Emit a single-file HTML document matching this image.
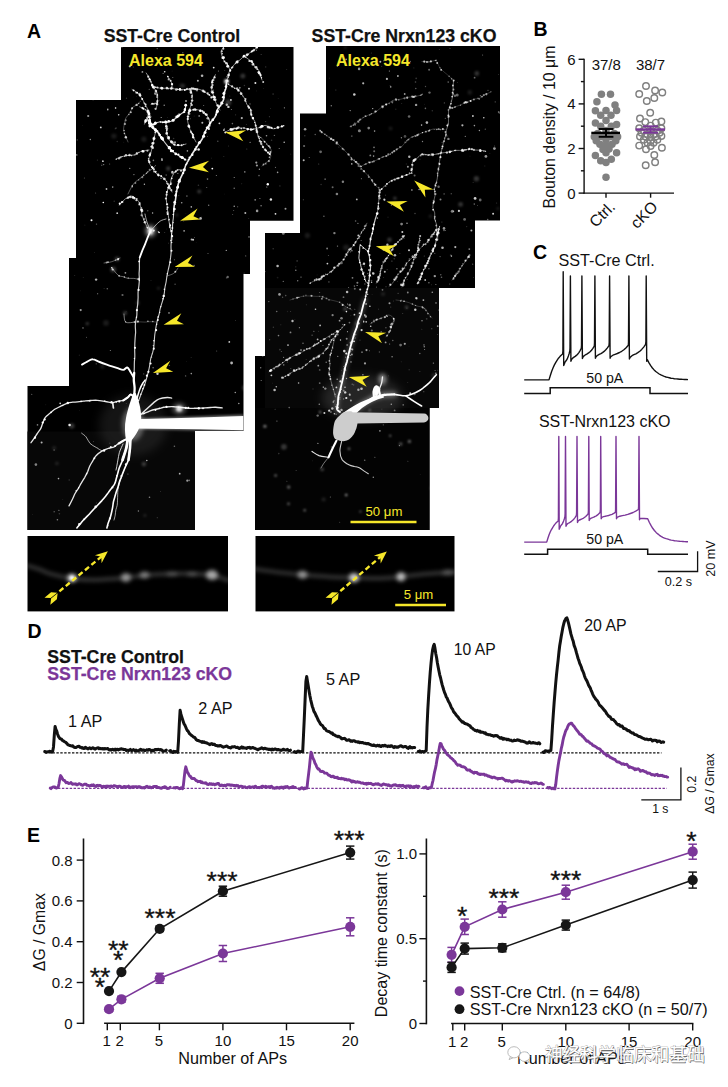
<!DOCTYPE html>
<html lang="en"><head><meta charset="utf-8"><title>Figure</title>
<style>html,body{margin:0;padding:0;background:#fff}svg{display:block}text{font-family:"Liberation Sans","Noto Sans CJK SC",sans-serif}</style></head><body>
<svg width="728" height="1087" viewBox="0 0 728 1087">
<rect width="728" height="1087" fill="#fff"/>
<defs><filter id="b1" filterUnits="userSpaceOnUse" x="0" y="0" width="728" height="1087"><feGaussianBlur stdDeviation="0.55"/></filter><filter id="b2" filterUnits="userSpaceOnUse" x="0" y="0" width="728" height="1087"><feGaussianBlur stdDeviation="0.9"/></filter><filter id="b3" filterUnits="userSpaceOnUse" x="0" y="0" width="728" height="1087"><feGaussianBlur stdDeviation="2.2"/></filter><filter id="b4" filterUnits="userSpaceOnUse" x="0" y="0" width="728" height="1087"><feGaussianBlur stdDeviation="5"/></filter><path id="ah" d="M0,0 L20.5,-5.6 L14,0.2 L19.5,5.8 Z"/><clipPath id="cl"><path id="pl" d="M121,47H293.5V220.7H250V274H243.5V431H195V530H27.5V386H69V258H76V100H121Z"/></clipPath><clipPath id="cr"><path id="pr" d="M326,46H500V220.5H475V288H439V408H429.5V530H255V356H265V233H300V113.5H326Z"/></clipPath><clipPath id="csl"><rect x="27.5" y="536" width="200.5" height="75.4"/></clipPath><clipPath id="csr"><rect x="255.5" y="536" width="199" height="75.4"/></clipPath></defs>
<text x="27" y="37.6" font-size="19.5" text-anchor="start" font-weight="bold" fill="#000">A</text>
<text x="172" y="42.3" font-size="17.7" text-anchor="middle" font-weight="bold" fill="#111" stroke="#111" stroke-width="0.25">SST-Cre Control</text>
<text x="404" y="42.3" font-size="17.7" text-anchor="middle" font-weight="bold" fill="#111" stroke="#111" stroke-width="0.25">SST-Cre Nrxn123 cKO</text>
<use href="#pl" fill="#000"/>
<g clip-path="url(#cl)">
<rect x="27" y="431.5" width="168" height="99" fill="#070707"/>
<ellipse cx="133" cy="425" rx="34" ry="30" fill="#fff" fill-opacity="0.08" filter="url(#b4)"/>
<ellipse cx="133" cy="424" rx="11" ry="17" fill="#fff" fill-opacity="0.3" filter="url(#b3)"/>
<g fill="#fff" filter="url(#b1)"><circle cx="42.4" cy="292.1" r="0.5" fill-opacity="0.2"/><circle cx="286.7" cy="69.5" r="0.5" fill-opacity="0.2"/><circle cx="126.1" cy="311.6" r="0.3" fill-opacity="0.3"/><circle cx="208" cy="253.5" r="0.6" fill-opacity="0.4"/><circle cx="259.8" cy="399.3" r="0.8" fill-opacity="0.2"/><circle cx="138.2" cy="412.7" r="0.6" fill-opacity="0.2"/><circle cx="259.9" cy="198.5" r="0.6" fill-opacity="0.5"/><circle cx="153.1" cy="367.8" r="0.7" fill-opacity="0.5"/><circle cx="291.2" cy="444" r="0.5" fill-opacity="0.5"/><circle cx="33" cy="270" r="0.4" fill-opacity="0.2"/><circle cx="231.3" cy="109.5" r="0.5" fill-opacity="0.6"/><circle cx="262.2" cy="509.6" r="0.4" fill-opacity="0.3"/><circle cx="96.9" cy="49" r="0.5" fill-opacity="0.5"/><circle cx="191.3" cy="373.6" r="0.8" fill-opacity="0.6"/><circle cx="133.1" cy="97" r="0.3" fill-opacity="0.2"/><circle cx="82.5" cy="125.4" r="0.3" fill-opacity="0.2"/><circle cx="67.2" cy="96" r="0.3" fill-opacity="0.6"/><circle cx="190.3" cy="118.7" r="0.5" fill-opacity="0.4"/><circle cx="151" cy="280.7" r="0.4" fill-opacity="0.3"/><circle cx="97.4" cy="447.3" r="0.3" fill-opacity="0.7"/><circle cx="167.5" cy="117.8" r="0.3" fill-opacity="0.4"/><circle cx="96.5" cy="224.1" r="0.7" fill-opacity="0.4"/><circle cx="234.2" cy="206.2" r="0.7" fill-opacity="0.7"/><circle cx="223.8" cy="156.5" r="0.5" fill-opacity="0.2"/><circle cx="34.4" cy="182" r="0.7" fill-opacity="0.7"/><circle cx="281" cy="223.1" r="0.4" fill-opacity="0.3"/><circle cx="239.7" cy="87.9" r="0.8" fill-opacity="0.6"/><circle cx="226.5" cy="277.9" r="0.7" fill-opacity="0.3"/><circle cx="72.2" cy="108.4" r="0.8" fill-opacity="0.6"/><circle cx="201.8" cy="216.2" r="0.4" fill-opacity="0.2"/><circle cx="246.8" cy="148.9" r="0.5" fill-opacity="0.3"/><circle cx="183" cy="172.3" r="0.4" fill-opacity="0.7"/><circle cx="32" cy="259.6" r="0.3" fill-opacity="0.6"/><circle cx="175" cy="204.4" r="0.6" fill-opacity="0.6"/><circle cx="55.2" cy="317.6" r="0.5" fill-opacity="0.6"/><circle cx="277.6" cy="172.4" r="0.8" fill-opacity="0.6"/><circle cx="63.5" cy="105.7" r="0.3" fill-opacity="0.3"/><circle cx="265.6" cy="121.6" r="0.7" fill-opacity="0.2"/><circle cx="261.8" cy="514.3" r="0.8" fill-opacity="0.4"/><circle cx="117.2" cy="141.5" r="0.7" fill-opacity="0.2"/><circle cx="174.4" cy="259.7" r="0.5" fill-opacity="0.5"/><circle cx="236.7" cy="516.3" r="0.4" fill-opacity="0.2"/><circle cx="234.2" cy="177.6" r="0.5" fill-opacity="0.7"/><circle cx="244.8" cy="171.9" r="0.8" fill-opacity="0.5"/><circle cx="213.3" cy="90.2" r="0.7" fill-opacity="0.4"/><circle cx="240.2" cy="87.4" r="0.3" fill-opacity="0.6"/><circle cx="147.7" cy="210.8" r="0.8" fill-opacity="0.3"/><circle cx="61.4" cy="301.5" r="0.4" fill-opacity="0.2"/><circle cx="40.4" cy="144.5" r="0.5" fill-opacity="0.6"/><circle cx="104.1" cy="288.5" r="0.5" fill-opacity="0.2"/><circle cx="173.6" cy="138.5" r="0.8" fill-opacity="0.2"/><circle cx="249" cy="236.9" r="0.7" fill-opacity="0.7"/><circle cx="196.2" cy="242.5" r="0.3" fill-opacity="0.2"/><circle cx="45.8" cy="404.8" r="0.4" fill-opacity="0.2"/><circle cx="102" cy="164" r="0.6" fill-opacity="0.2"/><circle cx="285.7" cy="311.2" r="0.8" fill-opacity="0.3"/><circle cx="121.9" cy="47.5" r="0.6" fill-opacity="0.4"/><circle cx="80.5" cy="290.8" r="0.4" fill-opacity="0.2"/><circle cx="133.3" cy="67.1" r="0.5" fill-opacity="0.3"/><circle cx="211.4" cy="158.1" r="0.4" fill-opacity="0.3"/><circle cx="157.2" cy="48.6" r="0.7" fill-opacity="0.4"/><circle cx="169.4" cy="365.4" r="0.7" fill-opacity="0.3"/><circle cx="158.4" cy="231.8" r="0.7" fill-opacity="0.6"/><circle cx="191.1" cy="357.5" r="0.4" fill-opacity="0.3"/><circle cx="224.7" cy="194" r="0.3" fill-opacity="0.2"/><circle cx="206.7" cy="187.5" r="0.6" fill-opacity="0.4"/><circle cx="58.5" cy="478.6" r="0.8" fill-opacity="0.7"/><circle cx="284.5" cy="264.1" r="0.4" fill-opacity="0.7"/><circle cx="83" cy="327.9" r="0.6" fill-opacity="0.7"/><circle cx="262.9" cy="386.7" r="0.8" fill-opacity="0.4"/><circle cx="33.6" cy="48.7" r="0.5" fill-opacity="0.3"/><circle cx="64.4" cy="213.1" r="0.8" fill-opacity="0.2"/><circle cx="226.7" cy="452.3" r="0.8" fill-opacity="0.5"/><circle cx="266.8" cy="187" r="0.5" fill-opacity="0.7"/><circle cx="183.7" cy="221.2" r="0.5" fill-opacity="0.2"/><circle cx="54.1" cy="450.1" r="0.8" fill-opacity="0.3"/><circle cx="97.7" cy="293.8" r="0.5" fill-opacity="0.7"/><circle cx="218.4" cy="70.9" r="0.5" fill-opacity="0.6"/><circle cx="198.4" cy="185.2" r="0.8" fill-opacity="0.2"/><circle cx="152.6" cy="213" r="0.7" fill-opacity="0.7"/><circle cx="96.2" cy="363.8" r="0.6" fill-opacity="0.4"/><circle cx="71.5" cy="125.1" r="0.8" fill-opacity="0.4"/><circle cx="146.7" cy="114.4" r="0.3" fill-opacity="0.3"/><circle cx="51.2" cy="162.5" r="0.6" fill-opacity="0.6"/><circle cx="166.4" cy="229" r="0.3" fill-opacity="0.3"/><circle cx="284.4" cy="107.8" r="0.6" fill-opacity="0.6"/><circle cx="84.4" cy="177.9" r="0.5" fill-opacity="0.4"/><circle cx="93.1" cy="99.7" r="0.6" fill-opacity="0.5"/><circle cx="37.5" cy="424.9" r="0.8" fill-opacity="0.5"/><circle cx="107.8" cy="108.8" r="0.6" fill-opacity="0.5"/><circle cx="56.8" cy="81" r="0.6" fill-opacity="0.4"/><circle cx="86.5" cy="337.3" r="0.5" fill-opacity="0.4"/><circle cx="153.4" cy="160.4" r="0.8" fill-opacity="0.5"/><circle cx="108.8" cy="57.5" r="0.7" fill-opacity="0.4"/><circle cx="87.3" cy="63.5" r="0.5" fill-opacity="0.5"/><circle cx="109.9" cy="443.1" r="0.4" fill-opacity="0.6"/><circle cx="76.8" cy="154.9" r="0.7" fill-opacity="0.7"/><circle cx="65.9" cy="237" r="0.8" fill-opacity="0.2"/><circle cx="40.8" cy="76" r="0.8" fill-opacity="0.6"/><circle cx="225.5" cy="62.4" r="0.5" fill-opacity="0.4"/><circle cx="115.2" cy="128.8" r="0.5" fill-opacity="0.3"/><circle cx="245.7" cy="255.9" r="0.6" fill-opacity="0.4"/><circle cx="271.6" cy="140.2" r="0.8" fill-opacity="0.2"/><circle cx="37.8" cy="63.8" r="0.8" fill-opacity="0.3"/><circle cx="33.5" cy="160" r="0.8" fill-opacity="0.7"/><circle cx="129.8" cy="168.3" r="0.6" fill-opacity="0.7"/><circle cx="114.2" cy="201.3" r="0.7" fill-opacity="0.2"/><circle cx="79.5" cy="410.6" r="0.3" fill-opacity="0.2"/><circle cx="262" cy="524.1" r="0.3" fill-opacity="0.2"/><circle cx="203.7" cy="105.5" r="0.5" fill-opacity="0.5"/><circle cx="126.2" cy="403.5" r="0.4" fill-opacity="0.3"/><circle cx="161.9" cy="158.8" r="0.7" fill-opacity="0.7"/><circle cx="250.6" cy="488.6" r="0.5" fill-opacity="0.2"/><circle cx="274.4" cy="226.8" r="0.5" fill-opacity="0.3"/><circle cx="233.9" cy="503.8" r="0.6" fill-opacity="0.5"/><circle cx="84.9" cy="225.1" r="0.4" fill-opacity="0.3"/><circle cx="186.4" cy="361.7" r="0.3" fill-opacity="0.3"/><circle cx="207.4" cy="136.4" r="0.4" fill-opacity="0.6"/><circle cx="172.8" cy="77.6" r="0.5" fill-opacity="0.5"/><circle cx="197" cy="91" r="0.7" fill-opacity="0.4"/><circle cx="123.8" cy="142.2" r="0.4" fill-opacity="0.2"/><circle cx="197.4" cy="486.4" r="0.6" fill-opacity="0.4"/><circle cx="161.2" cy="117.5" r="0.6" fill-opacity="0.7"/><circle cx="284.2" cy="142.3" r="0.8" fill-opacity="0.7"/><circle cx="246.3" cy="124.4" r="0.4" fill-opacity="0.4"/><circle cx="252.1" cy="447.5" r="0.4" fill-opacity="0.4"/><circle cx="164.8" cy="232.3" r="0.4" fill-opacity="0.5"/><circle cx="265.7" cy="66.9" r="0.7" fill-opacity="0.2"/><circle cx="250" cy="103.9" r="0.6" fill-opacity="0.5"/><circle cx="143.6" cy="58.3" r="0.6" fill-opacity="0.3"/><circle cx="74.8" cy="275.6" r="0.4" fill-opacity="0.4"/><circle cx="37.8" cy="354.4" r="0.7" fill-opacity="0.6"/><circle cx="163.1" cy="73.2" r="0.5" fill-opacity="0.7"/><circle cx="221.7" cy="440.6" r="0.8" fill-opacity="0.4"/><circle cx="281.5" cy="489.4" r="0.7" fill-opacity="0.7"/><circle cx="69.2" cy="480" r="0.7" fill-opacity="0.2"/><circle cx="160.6" cy="491.3" r="0.4" fill-opacity="0.4"/><circle cx="111.9" cy="64.8" r="0.4" fill-opacity="0.7"/><circle cx="207.8" cy="479.5" r="0.7" fill-opacity="0.2"/><circle cx="194.5" cy="237.4" r="0.4" fill-opacity="0.7"/><circle cx="180.6" cy="221" r="0.5" fill-opacity="0.2"/><circle cx="224.8" cy="70.3" r="0.4" fill-opacity="0.5"/><circle cx="110.2" cy="47.9" r="0.4" fill-opacity="0.5"/><circle cx="32.9" cy="48.3" r="0.4" fill-opacity="0.3"/><circle cx="62.8" cy="499.4" r="0.4" fill-opacity="0.2"/><circle cx="133.9" cy="174.6" r="0.7" fill-opacity="0.5"/><circle cx="276.3" cy="401.3" r="0.8" fill-opacity="0.2"/><circle cx="168.4" cy="243.1" r="0.3" fill-opacity="0.6"/><circle cx="73.5" cy="196.4" r="0.3" fill-opacity="0.6"/><circle cx="235.3" cy="392.5" r="0.8" fill-opacity="0.6"/><circle cx="87.1" cy="97.9" r="0.3" fill-opacity="0.3"/><circle cx="216.3" cy="175.5" r="0.5" fill-opacity="0.6"/><circle cx="166.2" cy="175.1" r="0.8" fill-opacity="0.3"/><circle cx="261.1" cy="54.4" r="0.4" fill-opacity="0.6"/><circle cx="261.1" cy="205.7" r="0.8" fill-opacity="0.5"/><circle cx="178.7" cy="195.6" r="0.6" fill-opacity="0.2"/><circle cx="269.3" cy="116.8" r="0.4" fill-opacity="0.7"/><circle cx="118.7" cy="115.5" r="0.3" fill-opacity="0.5"/><circle cx="278.2" cy="98.7" r="0.4" fill-opacity="0.2"/><circle cx="246.5" cy="352" r="0.4" fill-opacity="0.2"/><circle cx="228.5" cy="146" r="0.5" fill-opacity="0.2"/><circle cx="232.6" cy="214.5" r="0.6" fill-opacity="0.3"/><circle cx="256.4" cy="90.9" r="0.4" fill-opacity="0.2"/><circle cx="238.9" cy="136.1" r="0.5" fill-opacity="0.6"/><circle cx="96.3" cy="502.9" r="0.4" fill-opacity="0.5"/><circle cx="159.6" cy="100.1" r="0.3" fill-opacity="0.6"/><circle cx="263.8" cy="88.6" r="0.3" fill-opacity="0.3"/><circle cx="127.9" cy="474" r="0.6" fill-opacity="0.4"/><circle cx="119.7" cy="204.8" r="0.8" fill-opacity="0.5"/><circle cx="224.4" cy="128.9" r="0.7" fill-opacity="0.5"/><circle cx="90.3" cy="139.5" r="0.7" fill-opacity="0.6"/><circle cx="68.1" cy="122.3" r="0.5" fill-opacity="0.4"/><circle cx="69.8" cy="205.5" r="0.8" fill-opacity="0.6"/><circle cx="54.1" cy="511.8" r="0.5" fill-opacity="0.7"/><circle cx="79.2" cy="355.1" r="0.4" fill-opacity="0.4"/><circle cx="150.2" cy="115.5" r="0.5" fill-opacity="0.6"/><circle cx="226.3" cy="250.4" r="0.7" fill-opacity="0.6"/><circle cx="110.3" cy="350.5" r="0.5" fill-opacity="0.6"/><circle cx="216.7" cy="351.1" r="0.5" fill-opacity="0.4"/><circle cx="274.4" cy="135.4" r="0.7" fill-opacity="0.4"/><circle cx="157.3" cy="517.7" r="0.6" fill-opacity="0.2"/><circle cx="279.2" cy="148.5" r="0.5" fill-opacity="0.6"/><circle cx="42.1" cy="179.5" r="0.3" fill-opacity="0.4"/><circle cx="277" cy="301.6" r="0.7" fill-opacity="0.4"/><circle cx="244.1" cy="273.1" r="0.6" fill-opacity="0.2"/><circle cx="248.8" cy="218.3" r="0.4" fill-opacity="0.4"/><circle cx="94.4" cy="252.8" r="0.3" fill-opacity="0.5"/><circle cx="101.8" cy="165.3" r="0.6" fill-opacity="0.4"/><circle cx="274" cy="459.7" r="0.8" fill-opacity="0.6"/><circle cx="235.6" cy="114.8" r="0.6" fill-opacity="0.2"/><circle cx="93.5" cy="96" r="0.4" fill-opacity="0.6"/><circle cx="237.6" cy="128.1" r="0.6" fill-opacity="0.6"/><circle cx="250.1" cy="142.3" r="0.6" fill-opacity="0.6"/><circle cx="97.4" cy="160.1" r="0.6" fill-opacity="0.2"/><circle cx="151.2" cy="116.8" r="0.6" fill-opacity="0.4"/><circle cx="256.5" cy="50.2" r="0.6" fill-opacity="0.5"/><circle cx="138.4" cy="511" r="0.7" fill-opacity="0.5"/><circle cx="174.4" cy="446.3" r="0.8" fill-opacity="0.4"/><circle cx="161" cy="178.2" r="0.8" fill-opacity="0.5"/><circle cx="237.7" cy="206.8" r="0.5" fill-opacity="0.5"/><circle cx="195.9" cy="425.8" r="0.7" fill-opacity="0.6"/><circle cx="172.1" cy="71" r="0.3" fill-opacity="0.3"/><circle cx="185.6" cy="375.9" r="0.7" fill-opacity="0.4"/><circle cx="229.9" cy="96" r="0.3" fill-opacity="0.6"/><circle cx="95.6" cy="192.9" r="0.5" fill-opacity="0.4"/><circle cx="197.7" cy="498.1" r="0.6" fill-opacity="0.2"/><circle cx="271.4" cy="262.6" r="0.5" fill-opacity="0.5"/><circle cx="136.7" cy="96.3" r="0.4" fill-opacity="0.2"/><circle cx="59.4" cy="513.7" r="0.8" fill-opacity="0.2"/><circle cx="31.7" cy="394.4" r="0.7" fill-opacity="0.3"/><circle cx="254.6" cy="399.5" r="0.6" fill-opacity="0.5"/><circle cx="149.5" cy="497.3" r="0.8" fill-opacity="0.5"/><circle cx="244.4" cy="85.5" r="0.7" fill-opacity="0.2"/><circle cx="256" cy="281.9" r="0.5" fill-opacity="0.5"/><circle cx="143.7" cy="373.9" r="0.7" fill-opacity="0.3"/><circle cx="235.7" cy="320.8" r="0.3" fill-opacity="0.7"/><circle cx="186.9" cy="196.1" r="0.8" fill-opacity="0.4"/><circle cx="241.8" cy="183.8" r="0.4" fill-opacity="0.4"/><circle cx="257.7" cy="323.2" r="0.8" fill-opacity="0.6"/><circle cx="150.8" cy="146.8" r="0.7" fill-opacity="0.6"/><circle cx="149.3" cy="89.4" r="0.7" fill-opacity="0.3"/><circle cx="77.3" cy="139.9" r="0.7" fill-opacity="0.3"/><circle cx="126.5" cy="98.3" r="0.7" fill-opacity="0.2"/><circle cx="185.9" cy="213.6" r="0.3" fill-opacity="0.2"/><circle cx="177.9" cy="173.4" r="0.5" fill-opacity="0.7"/><circle cx="94.6" cy="65.3" r="0.4" fill-opacity="0.2"/><circle cx="58.9" cy="510.3" r="0.6" fill-opacity="0.5"/><circle cx="290.8" cy="154.1" r="0.4" fill-opacity="0.3"/><circle cx="199" cy="523" r="0.4" fill-opacity="0.6"/><circle cx="276.9" cy="373.9" r="0.6" fill-opacity="0.6"/><circle cx="55" cy="203.5" r="0.4" fill-opacity="0.4"/><circle cx="71.8" cy="162.2" r="0.7" fill-opacity="0.2"/><circle cx="217.8" cy="141.2" r="0.8" fill-opacity="0.3"/><circle cx="64.2" cy="263" r="0.8" fill-opacity="0.6"/><circle cx="194.1" cy="265.5" r="0.8" fill-opacity="0.4"/><circle cx="194.1" cy="116" r="0.3" fill-opacity="0.5"/><circle cx="174.2" cy="116.9" r="0.4" fill-opacity="0.4"/><circle cx="116" cy="128" r="0.5" fill-opacity="0.6"/><circle cx="57.4" cy="519.7" r="0.8" fill-opacity="0.5"/><circle cx="83.2" cy="277.6" r="0.4" fill-opacity="0.3"/><circle cx="273.1" cy="94.1" r="0.8" fill-opacity="0.2"/><circle cx="167.1" cy="136.8" r="0.8" fill-opacity="0.3"/><circle cx="179" cy="113.7" r="0.7" fill-opacity="0.5"/><circle cx="79.3" cy="85.3" r="0.6" fill-opacity="0.4"/><circle cx="135.6" cy="395.6" r="0.7" fill-opacity="0.3"/><circle cx="259" cy="175.6" r="0.8" fill-opacity="0.4"/><circle cx="164.2" cy="105.3" r="0.7" fill-opacity="0.6"/><circle cx="226.9" cy="76.6" r="0.8" fill-opacity="0.4"/><circle cx="32.5" cy="514.3" r="0.4" fill-opacity="0.2"/><circle cx="93.6" cy="441.7" r="0.4" fill-opacity="0.5"/><circle cx="39" cy="106.4" r="0.6" fill-opacity="0.3"/><circle cx="59.5" cy="242.9" r="0.6" fill-opacity="0.6"/><circle cx="233.7" cy="210.5" r="0.5" fill-opacity="0.4"/><circle cx="243.8" cy="456.4" r="0.6" fill-opacity="0.7"/><circle cx="275.5" cy="167.4" r="0.6" fill-opacity="0.4"/><circle cx="168.2" cy="80.5" r="0.6" fill-opacity="0.2"/><circle cx="262.2" cy="474.3" r="0.7" fill-opacity="0.3"/><circle cx="207.5" cy="179.1" r="0.8" fill-opacity="0.5"/><circle cx="279.9" cy="185.9" r="0.7" fill-opacity="0.2"/><circle cx="66.5" cy="106.9" r="0.5" fill-opacity="0.4"/><circle cx="103.7" cy="164.6" r="0.6" fill-opacity="0.6"/><circle cx="109.6" cy="164" r="0.6" fill-opacity="0.4"/><circle cx="182.8" cy="52.7" r="0.8" fill-opacity="0.3"/><circle cx="175.1" cy="284.3" r="0.8" fill-opacity="0.3"/><circle cx="232.4" cy="123.6" r="0.8" fill-opacity="0.4"/><circle cx="43.5" cy="234.3" r="0.7" fill-opacity="0.2"/><circle cx="68.1" cy="209.8" r="0.7" fill-opacity="0.5"/><circle cx="270.3" cy="108.5" r="0.3" fill-opacity="0.6"/></g>
<g fill="#fff" filter="url(#b1)"><circle cx="175" cy="142.4" r="1.1" fill-opacity="0.6"/><circle cx="162" cy="160" r="0.9" fill-opacity="0.7"/><circle cx="245.3" cy="212.9" r="1" fill-opacity="0.7"/><circle cx="118.7" cy="114.7" r="0.8" fill-opacity="0.8"/><circle cx="202.1" cy="75.8" r="1.3" fill-opacity="0.7"/><circle cx="257.1" cy="210.9" r="1.3" fill-opacity="0.6"/><circle cx="169.6" cy="223.9" r="0.7" fill-opacity="0.5"/><circle cx="198.6" cy="149.5" r="1.3" fill-opacity="0.9"/><circle cx="193.1" cy="239.7" r="1" fill-opacity="0.8"/><circle cx="223.9" cy="130.1" r="0.9" fill-opacity="0.8"/><circle cx="153.7" cy="230.6" r="1.1" fill-opacity="0.8"/><circle cx="100.8" cy="127.4" r="0.9" fill-opacity="0.8"/><circle cx="200.6" cy="218.4" r="1.3" fill-opacity="0.7"/><circle cx="172.4" cy="172.4" r="1.3" fill-opacity="0.7"/><circle cx="191.3" cy="206.9" r="0.8" fill-opacity="0.7"/><circle cx="285.5" cy="208.7" r="1" fill-opacity="0.6"/><circle cx="267.8" cy="184.2" r="1.2" fill-opacity="1"/><circle cx="266.5" cy="135.8" r="0.8" fill-opacity="0.6"/><circle cx="187.4" cy="150.9" r="0.8" fill-opacity="0.6"/><circle cx="212.3" cy="168.6" r="0.9" fill-opacity="1"/><circle cx="213.7" cy="67.6" r="0.9" fill-opacity="0.9"/><circle cx="144.4" cy="184.3" r="0.7" fill-opacity="0.7"/><circle cx="256.9" cy="165.5" r="1.1" fill-opacity="0.6"/><circle cx="184.6" cy="159.6" r="0.9" fill-opacity="0.8"/><circle cx="191.6" cy="239.5" r="1" fill-opacity="0.7"/><circle cx="105.5" cy="88.2" r="1.2" fill-opacity="0.6"/><circle cx="101" cy="90.7" r="1" fill-opacity="0.9"/><circle cx="208.7" cy="205.2" r="0.7" fill-opacity="0.5"/><circle cx="241.8" cy="118.1" r="1.1" fill-opacity="0.7"/><circle cx="115.6" cy="108" r="0.8" fill-opacity="1"/><circle cx="202.3" cy="122.8" r="1" fill-opacity="0.7"/><circle cx="91.5" cy="220.3" r="1" fill-opacity="1"/><circle cx="172.3" cy="171.6" r="0.8" fill-opacity="0.5"/><circle cx="275.5" cy="213.8" r="0.9" fill-opacity="0.9"/><circle cx="251.3" cy="114.7" r="1.1" fill-opacity="1"/><circle cx="184.1" cy="230.9" r="0.8" fill-opacity="0.7"/><circle cx="230.9" cy="99.9" r="0.9" fill-opacity="0.9"/><circle cx="181.7" cy="202.7" r="0.8" fill-opacity="0.6"/><circle cx="155.3" cy="93.6" r="1.3" fill-opacity="0.6"/><circle cx="197.9" cy="80.7" r="1" fill-opacity="0.7"/><circle cx="164.7" cy="71.8" r="0.8" fill-opacity="0.9"/><circle cx="153.8" cy="104.1" r="0.8" fill-opacity="0.6"/><circle cx="129.8" cy="66.3" r="1.1" fill-opacity="0.7"/><circle cx="112.7" cy="187.1" r="0.8" fill-opacity="0.6"/><circle cx="255.4" cy="83" r="1" fill-opacity="0.9"/><circle cx="249" cy="88.7" r="0.9" fill-opacity="0.9"/><circle cx="159.1" cy="232.5" r="0.8" fill-opacity="1"/><circle cx="186" cy="100.9" r="1" fill-opacity="0.6"/><circle cx="228.4" cy="106.9" r="1.2" fill-opacity="0.8"/><circle cx="157.3" cy="104.3" r="1.1" fill-opacity="0.6"/><circle cx="263.2" cy="82.1" r="1" fill-opacity="0.8"/><circle cx="136.8" cy="198.9" r="0.9" fill-opacity="0.8"/><circle cx="199.2" cy="115.9" r="0.9" fill-opacity="0.5"/><circle cx="117.2" cy="213.2" r="0.9" fill-opacity="0.8"/><circle cx="102.9" cy="161.2" r="0.9" fill-opacity="0.8"/><circle cx="142.4" cy="71.9" r="0.9" fill-opacity="0.6"/><circle cx="106.5" cy="189" r="0.9" fill-opacity="0.7"/><circle cx="270.9" cy="199.5" r="1.2" fill-opacity="0.9"/><circle cx="107.8" cy="109.8" r="0.7" fill-opacity="0.8"/><circle cx="219.4" cy="123.3" r="0.9" fill-opacity="0.8"/><circle cx="226.8" cy="104.7" r="1.2" fill-opacity="0.7"/><circle cx="212.1" cy="92.7" r="0.8" fill-opacity="1"/><circle cx="234.2" cy="188.3" r="0.7" fill-opacity="0.5"/><circle cx="114" cy="95.7" r="0.9" fill-opacity="0.7"/><circle cx="88.2" cy="116" r="1.1" fill-opacity="0.6"/><circle cx="256.3" cy="162.6" r="1.1" fill-opacity="0.6"/><circle cx="171.3" cy="183.2" r="0.9" fill-opacity="0.5"/><circle cx="255.2" cy="199.8" r="0.9" fill-opacity="0.5"/><circle cx="259.4" cy="169.3" r="0.7" fill-opacity="0.6"/><circle cx="103.3" cy="202.5" r="0.8" fill-opacity="1"/></g>
<g fill="#fff" filter="url(#b1)"><circle cx="189.6" cy="265" r="1.2" fill-opacity="0.6"/><circle cx="189.2" cy="480.3" r="0.9" fill-opacity="0.4"/><circle cx="231.6" cy="363" r="1.4" fill-opacity="0.7"/><circle cx="187.3" cy="480.7" r="1.1" fill-opacity="0.6"/><circle cx="41.6" cy="442.5" r="1" fill-opacity="0.7"/><circle cx="227.7" cy="277" r="1.2" fill-opacity="0.4"/><circle cx="179.7" cy="473.7" r="0.9" fill-opacity="0.7"/><circle cx="236.5" cy="424.9" r="1.1" fill-opacity="0.5"/><circle cx="42.6" cy="343.8" r="1" fill-opacity="0.5"/><circle cx="96.1" cy="279.6" r="1.2" fill-opacity="0.7"/><circle cx="80.7" cy="310.1" r="1.1" fill-opacity="0.6"/><circle cx="229.3" cy="341.9" r="0.9" fill-opacity="0.8"/><circle cx="60.2" cy="403.3" r="0.9" fill-opacity="0.8"/><circle cx="146.8" cy="460.5" r="0.8" fill-opacity="0.7"/><circle cx="157.5" cy="373.7" r="1.2" fill-opacity="0.8"/><circle cx="54.4" cy="323.9" r="1" fill-opacity="0.5"/><circle cx="42.9" cy="321.5" r="0.8" fill-opacity="0.8"/><circle cx="125.4" cy="272.8" r="0.9" fill-opacity="0.6"/><circle cx="107.3" cy="288.7" r="0.8" fill-opacity="0.4"/><circle cx="241.3" cy="457.6" r="0.8" fill-opacity="0.8"/><circle cx="238.8" cy="403.5" r="0.8" fill-opacity="0.6"/><circle cx="122.5" cy="295" r="1.1" fill-opacity="0.4"/><circle cx="225.9" cy="426.9" r="1.1" fill-opacity="0.9"/><circle cx="169" cy="312.9" r="0.9" fill-opacity="0.5"/><circle cx="35.9" cy="464.6" r="1.3" fill-opacity="0.5"/><circle cx="69.6" cy="425" r="1.3" fill-opacity="0.9"/></g>
<g fill="#fff" filter="url(#b2)"><circle cx="71.8" cy="426" r="2.7" fill-opacity="0.2"/><circle cx="113.9" cy="136.1" r="2.7" fill-opacity="0.1"/><circle cx="125" cy="313.2" r="2.1" fill-opacity="0.2"/><circle cx="90.7" cy="66.9" r="2.4" fill-opacity="0.2"/><circle cx="245" cy="387.8" r="2.9" fill-opacity="0.2"/><circle cx="158.5" cy="288.3" r="1.7" fill-opacity="0.1"/><circle cx="181.6" cy="85.8" r="2.5" fill-opacity="0.1"/><circle cx="144.9" cy="515.4" r="1.6" fill-opacity="0.1"/><circle cx="143.9" cy="139.2" r="2.6" fill-opacity="0.1"/><circle cx="250.7" cy="460.1" r="2.7" fill-opacity="0.1"/><circle cx="102.3" cy="366.6" r="2.3" fill-opacity="0.1"/><circle cx="117.1" cy="258.9" r="2.5" fill-opacity="0.2"/><circle cx="267.5" cy="126.4" r="1.9" fill-opacity="0.1"/><circle cx="176.9" cy="215.1" r="1.8" fill-opacity="0.1"/><circle cx="113.1" cy="269.4" r="3" fill-opacity="0.2"/><circle cx="257.2" cy="517.6" r="2.9" fill-opacity="0.2"/><circle cx="242.8" cy="76" r="2.5" fill-opacity="0.2"/><circle cx="106" cy="322.9" r="2.9" fill-opacity="0.1"/><circle cx="199.2" cy="191.6" r="2" fill-opacity="0.2"/><circle cx="34.4" cy="138.2" r="2.5" fill-opacity="0.1"/><circle cx="49.7" cy="366" r="2.1" fill-opacity="0.2"/><circle cx="137.8" cy="303" r="2.3" fill-opacity="0.1"/><circle cx="57.4" cy="134.2" r="2.8" fill-opacity="0.2"/><circle cx="56.9" cy="463.4" r="1.9" fill-opacity="0.1"/><circle cx="168.2" cy="168.5" r="2.2" fill-opacity="0.2"/><circle cx="87.3" cy="323.6" r="1.7" fill-opacity="0.2"/><circle cx="183.5" cy="85.8" r="2.1" fill-opacity="0.1"/><circle cx="143.9" cy="464.1" r="2.3" fill-opacity="0.2"/><circle cx="228.3" cy="102.4" r="3" fill-opacity="0.2"/><circle cx="54.2" cy="448" r="2.1" fill-opacity="0.1"/></g>
<path d="M146.2,73 C146.9,74.1 149,77.5 150.1,79.7 C151.3,81.9 151.9,84.1 153.1,86.4 C154.3,88.8 156.7,91 157.3,93.7 C158,96.4 157.5,99.9 157.3,102.5 C157.1,105.1 156.2,108.2 156,109.3" fill="none" stroke="#fff" stroke-width="0.9" stroke-opacity="0.6" stroke-linecap="round" stroke-linejoin="round" filter="url(#b1)"/>
<g fill="#fff" filter="url(#b1)"><circle cx="148.2" cy="76.7" r="1.1" fill-opacity="0.8"/><circle cx="149.8" cy="79.4" r="1" fill-opacity="1"/><circle cx="149.2" cy="79.1" r="0.9" fill-opacity="0.9"/><circle cx="152.2" cy="85.1" r="1.2" fill-opacity="1"/><circle cx="151.8" cy="84.7" r="0.7" fill-opacity="0.8"/><circle cx="152.1" cy="85.6" r="1.1" fill-opacity="0.7"/><circle cx="150.7" cy="81.4" r="1" fill-opacity="0.6"/><circle cx="154" cy="86.8" r="1" fill-opacity="0.7"/><circle cx="155.9" cy="91" r="1.3" fill-opacity="0.8"/><circle cx="156.4" cy="92" r="0.6" fill-opacity="0.7"/><circle cx="153.8" cy="88" r="1.2" fill-opacity="0.6"/><circle cx="157.5" cy="100.8" r="1" fill-opacity="0.7"/><circle cx="157.2" cy="101.6" r="1.1" fill-opacity="0.6"/><circle cx="157" cy="97.1" r="1" fill-opacity="0.6"/><circle cx="157.2" cy="95.1" r="1" fill-opacity="0.8"/><circle cx="157.4" cy="102.3" r="0.6" fill-opacity="0.8"/><circle cx="155.5" cy="108.8" r="1.1" fill-opacity="0.7"/><circle cx="156.9" cy="104.1" r="1" fill-opacity="0.8"/></g>
<path d="M152.7,87 C154.2,87.2 158.8,88.1 161.7,88.3 C164.6,88.5 166.9,88 170.2,88.3 C173.4,88.5 177.9,89.7 181.2,89.8 C184.6,89.9 187.3,89 190.2,88.9 C193.2,88.8 196.4,88.6 199.1,89.3 C201.9,90 204.4,91.8 206.8,93.3 C209.1,94.7 212,97.2 213,98" fill="none" stroke="#fff" stroke-width="0.9" stroke-opacity="0.6" stroke-linecap="round" stroke-linejoin="round" filter="url(#b1)"/>
<g fill="#fff" filter="url(#b1)"><circle cx="161.4" cy="88" r="1.2" fill-opacity="0.9"/><circle cx="157.5" cy="87.5" r="1" fill-opacity="0.8"/><circle cx="153.1" cy="86.9" r="1.3" fill-opacity="0.8"/><circle cx="155.7" cy="87.2" r="0.9" fill-opacity="0.7"/><circle cx="153.2" cy="87" r="0.9" fill-opacity="0.8"/><circle cx="162.6" cy="88.1" r="0.8" fill-opacity="0.9"/><circle cx="166.9" cy="88.1" r="1.3" fill-opacity="0.8"/><circle cx="162" cy="88.4" r="1.3" fill-opacity="0.7"/><circle cx="168.2" cy="88.7" r="0.7" fill-opacity="0.8"/><circle cx="172.9" cy="88.1" r="0.7" fill-opacity="0.7"/><circle cx="177.6" cy="89.2" r="0.8" fill-opacity="0.8"/><circle cx="179.9" cy="89.2" r="1.2" fill-opacity="1"/><circle cx="176.3" cy="89.6" r="1.3" fill-opacity="0.7"/><circle cx="171.3" cy="88.5" r="1.3" fill-opacity="0.9"/><circle cx="180" cy="89.5" r="1.2" fill-opacity="0.9"/><circle cx="187.2" cy="88.7" r="0.9" fill-opacity="0.6"/><circle cx="186.7" cy="89.2" r="1" fill-opacity="0.7"/><circle cx="184.8" cy="89.9" r="1" fill-opacity="1"/><circle cx="181.9" cy="90" r="0.8" fill-opacity="0.6"/><circle cx="191.8" cy="88.5" r="1.2" fill-opacity="0.8"/><circle cx="195.1" cy="89.2" r="1.1" fill-opacity="0.8"/><circle cx="193.5" cy="88.7" r="1.1" fill-opacity="0.9"/><circle cx="196.9" cy="89.5" r="1.3" fill-opacity="0.8"/><circle cx="203.6" cy="90.9" r="0.6" fill-opacity="0.8"/><circle cx="204.4" cy="91.7" r="1.3" fill-opacity="0.7"/><circle cx="204.4" cy="91.7" r="0.7" fill-opacity="0.6"/><circle cx="203" cy="90.9" r="1.3" fill-opacity="0.7"/><circle cx="208.1" cy="94.6" r="0.7" fill-opacity="0.6"/><circle cx="211.3" cy="97.5" r="1" fill-opacity="0.9"/><circle cx="209.3" cy="94.9" r="0.8" fill-opacity="1"/><circle cx="207.7" cy="93.3" r="1.1" fill-opacity="0.8"/></g>
<path d="M132.1,89.5 C133.2,90.2 136.5,91.7 138.5,93.7 C140.4,95.7 142.1,98.8 143.8,101.8 C145.5,104.7 147.9,109.1 148.5,111.6 C149,114.2 147.9,115 147.2,117.1 C146.5,119.1 145,122.9 144.5,124.1" fill="none" stroke="#fff" stroke-width="0.9" stroke-opacity="0.6" stroke-linecap="round" stroke-linejoin="round" filter="url(#b1)"/>
<g fill="#fff" filter="url(#b1)"><circle cx="133.7" cy="90.3" r="0.8" fill-opacity="0.9"/><circle cx="136" cy="92.8" r="0.8" fill-opacity="0.8"/><circle cx="133.5" cy="90.6" r="0.8" fill-opacity="0.9"/><circle cx="137.1" cy="92.8" r="1" fill-opacity="1"/><circle cx="142.2" cy="99.1" r="1" fill-opacity="1"/><circle cx="140.1" cy="95.2" r="1.2" fill-opacity="0.9"/><circle cx="139.9" cy="95.8" r="0.8" fill-opacity="0.6"/><circle cx="139.6" cy="94" r="1.3" fill-opacity="0.7"/><circle cx="143.9" cy="102.9" r="0.7" fill-opacity="0.7"/><circle cx="148.3" cy="111.3" r="1.3" fill-opacity="0.6"/><circle cx="145.2" cy="104.3" r="0.6" fill-opacity="0.8"/><circle cx="144.8" cy="103.6" r="0.6" fill-opacity="1"/><circle cx="145.7" cy="104.4" r="1" fill-opacity="0.7"/><circle cx="145.4" cy="106.2" r="0.7" fill-opacity="0.9"/><circle cx="148.2" cy="112.2" r="1.3" fill-opacity="0.7"/><circle cx="148.8" cy="113.2" r="1.1" fill-opacity="0.7"/><circle cx="148" cy="112.1" r="0.6" fill-opacity="0.8"/><circle cx="145.5" cy="120.4" r="1.1" fill-opacity="0.9"/><circle cx="145.8" cy="121.1" r="1.3" fill-opacity="0.9"/><circle cx="145.1" cy="121.9" r="0.9" fill-opacity="1"/><circle cx="146" cy="119.7" r="0.7" fill-opacity="1"/></g>
<path d="M147,117.5 C147.6,118.9 148.9,123.8 150.5,125.9 C152.1,128.1 154.7,128.5 156.5,130.4 C158.3,132.3 159.6,135 161.1,137.2 C162.6,139.3 163.8,141.2 165.6,143.5 C167.4,145.8 169.7,148.9 172,150.9 C174.3,153 177.1,154.4 179.4,155.9 C181.8,157.4 184.9,159.3 186,160" fill="none" stroke="#fff" stroke-width="1.2" stroke-opacity="0.8" stroke-linecap="round" stroke-linejoin="round" filter="url(#b1)"/>
<g fill="#fff" filter="url(#b1)"><circle cx="149.2" cy="123.5" r="1.1" fill-opacity="1"/><circle cx="149.8" cy="126" r="1.4" fill-opacity="1"/><circle cx="149.7" cy="122.2" r="1.2" fill-opacity="1"/><circle cx="148.6" cy="120.6" r="1.1" fill-opacity="1"/><circle cx="149.2" cy="123.4" r="1.1" fill-opacity="0.9"/><circle cx="152.6" cy="127.1" r="1.3" fill-opacity="1"/><circle cx="153" cy="127.6" r="1.4" fill-opacity="1"/><circle cx="153.7" cy="128.7" r="0.9" fill-opacity="0.9"/><circle cx="155.4" cy="129.8" r="1.4" fill-opacity="1"/><circle cx="155.2" cy="129.7" r="1.4" fill-opacity="1"/><circle cx="156.9" cy="131" r="1" fill-opacity="1"/><circle cx="158.9" cy="133.4" r="1" fill-opacity="1"/><circle cx="159.7" cy="135.1" r="1.3" fill-opacity="1"/><circle cx="157.4" cy="131.3" r="1.1" fill-opacity="0.9"/><circle cx="158" cy="132.8" r="0.7" fill-opacity="0.9"/><circle cx="161" cy="137.8" r="0.9" fill-opacity="1"/><circle cx="162.6" cy="138.2" r="1.2" fill-opacity="1"/><circle cx="161.9" cy="138.8" r="1.2" fill-opacity="1"/><circle cx="161.3" cy="137.3" r="1.3" fill-opacity="1"/><circle cx="163.1" cy="140.1" r="1" fill-opacity="1"/><circle cx="171.2" cy="150.9" r="1.3" fill-opacity="1"/><circle cx="169.7" cy="147.9" r="1.3" fill-opacity="1"/><circle cx="169" cy="147.9" r="1.3" fill-opacity="0.9"/><circle cx="169.4" cy="147.9" r="1.4" fill-opacity="1"/><circle cx="169.1" cy="147" r="1.1" fill-opacity="1"/><circle cx="171.1" cy="149.9" r="1" fill-opacity="0.9"/><circle cx="176.5" cy="154" r="0.8" fill-opacity="0.9"/><circle cx="173" cy="150.8" r="0.8" fill-opacity="1"/><circle cx="175.7" cy="153.9" r="1.3" fill-opacity="1"/><circle cx="172.7" cy="151.1" r="1.2" fill-opacity="1"/><circle cx="178.5" cy="154.6" r="1" fill-opacity="1"/><circle cx="172.7" cy="150.7" r="0.9" fill-opacity="1"/><circle cx="185.1" cy="159.4" r="1" fill-opacity="0.9"/><circle cx="181.9" cy="157.5" r="1.4" fill-opacity="1"/><circle cx="180.2" cy="156.8" r="1" fill-opacity="1"/><circle cx="182.7" cy="157.7" r="1.3" fill-opacity="0.9"/></g>
<path d="M185.7,105.2 C185.5,106.2 185.8,109.2 184.6,111 C183.4,112.7 180.6,114.1 178.6,115.7 C176.6,117.3 174.6,119.6 172.5,120.7 C170.4,121.8 168.2,122.1 166,122.3 C163.7,122.5 161,121.6 159,122 C157.1,122.3 155.5,123.7 154.1,124.4 C152.8,125 151.6,125.6 151.1,125.8" fill="none" stroke="#fff" stroke-width="1.2" stroke-opacity="0.8" stroke-linecap="round" stroke-linejoin="round" filter="url(#b1)"/>
<g fill="#fff" filter="url(#b1)"><circle cx="185" cy="109.1" r="1.1" fill-opacity="1"/><circle cx="185.6" cy="105.7" r="0.7" fill-opacity="1"/><circle cx="185.7" cy="105.2" r="1.4" fill-opacity="1"/><circle cx="184.8" cy="110" r="1.2" fill-opacity="1"/><circle cx="179.1" cy="115.4" r="0.9" fill-opacity="0.9"/><circle cx="184.4" cy="112" r="1" fill-opacity="1"/><circle cx="183.5" cy="112.4" r="0.8" fill-opacity="0.9"/><circle cx="179.8" cy="114.6" r="0.9" fill-opacity="0.9"/><circle cx="176.7" cy="116.9" r="1.4" fill-opacity="1"/><circle cx="173.1" cy="120.3" r="1.5" fill-opacity="1"/><circle cx="178.2" cy="116" r="0.9" fill-opacity="1"/><circle cx="178" cy="116.4" r="1" fill-opacity="1"/><circle cx="178.3" cy="115.8" r="1.4" fill-opacity="1"/><circle cx="168.8" cy="121.3" r="1.3" fill-opacity="1"/><circle cx="165.9" cy="122.2" r="1.4" fill-opacity="1"/><circle cx="168.5" cy="121.1" r="0.9" fill-opacity="1"/><circle cx="166.7" cy="122.6" r="0.7" fill-opacity="1"/><circle cx="164.1" cy="122.4" r="0.7" fill-opacity="1"/><circle cx="162.6" cy="122.4" r="0.8" fill-opacity="1"/><circle cx="163.4" cy="122.3" r="0.8" fill-opacity="1"/><circle cx="160.6" cy="122" r="0.7" fill-opacity="1"/><circle cx="165.5" cy="121.8" r="1.2" fill-opacity="1"/><circle cx="155.4" cy="123.1" r="1.5" fill-opacity="1"/><circle cx="155.4" cy="124" r="0.8" fill-opacity="0.9"/><circle cx="154.3" cy="124.1" r="1.1" fill-opacity="0.9"/><circle cx="153.7" cy="124.6" r="1" fill-opacity="0.9"/><circle cx="152.6" cy="124.5" r="0.9" fill-opacity="1"/></g>
<path d="M189.8,88.7 C190.2,89.8 192,92.6 192.3,95 C192.6,97.5 192.1,100.7 191.5,103.4 C191,106.1 189.7,108.7 189,111.4 C188.3,114 187.4,116.8 187.5,119.5 C187.6,122.2 188.7,125.4 189.4,127.8 C190.1,130.2 190.6,131.3 191.7,133.6 C192.9,136 195.3,140.6 196,142" fill="none" stroke="#fff" stroke-width="0.9" stroke-opacity="0.6" stroke-linecap="round" stroke-linejoin="round" filter="url(#b1)"/>
<g fill="#fff" filter="url(#b1)"><circle cx="190.8" cy="90.9" r="1.3" fill-opacity="0.6"/><circle cx="190.9" cy="92.5" r="1.2" fill-opacity="0.9"/><circle cx="189.7" cy="89.2" r="1.3" fill-opacity="0.6"/><circle cx="192.1" cy="100.6" r="1.2" fill-opacity="0.8"/><circle cx="191" cy="103.3" r="0.9" fill-opacity="0.8"/><circle cx="191.9" cy="96" r="1.1" fill-opacity="0.7"/><circle cx="191.6" cy="97.5" r="0.8" fill-opacity="0.7"/><circle cx="189.3" cy="111.3" r="1" fill-opacity="0.9"/><circle cx="189.5" cy="110.8" r="0.7" fill-opacity="0.9"/><circle cx="189.7" cy="109.6" r="1.1" fill-opacity="0.7"/><circle cx="191.7" cy="104.9" r="1.2" fill-opacity="0.7"/><circle cx="189.9" cy="110.5" r="1.2" fill-opacity="0.9"/><circle cx="188" cy="116.6" r="1.2" fill-opacity="0.9"/><circle cx="189.1" cy="113.8" r="1.3" fill-opacity="0.6"/><circle cx="187.9" cy="118.9" r="1.2" fill-opacity="0.7"/><circle cx="188.6" cy="112.7" r="1" fill-opacity="1"/><circle cx="188.7" cy="125.7" r="1.2" fill-opacity="0.9"/><circle cx="189.6" cy="127.2" r="0.7" fill-opacity="0.9"/><circle cx="188.9" cy="126.6" r="1.2" fill-opacity="0.9"/><circle cx="187.5" cy="119" r="0.7" fill-opacity="0.9"/><circle cx="190.8" cy="131.1" r="0.8" fill-opacity="0.7"/><circle cx="191.5" cy="132.5" r="0.7" fill-opacity="0.7"/><circle cx="191" cy="132.1" r="1.2" fill-opacity="0.6"/><circle cx="192.3" cy="133.6" r="0.8" fill-opacity="1"/><circle cx="193" cy="137.1" r="1.1" fill-opacity="1"/><circle cx="193.4" cy="137.5" r="1" fill-opacity="1"/><circle cx="192.9" cy="134.8" r="1" fill-opacity="0.6"/><circle cx="193" cy="135" r="1.2" fill-opacity="0.7"/></g>
<path d="M189,110.9 C190.1,110.7 193.1,109.4 195.4,109.5 C197.6,109.6 200.3,110.4 202.3,111.5 C204.2,112.5 205.8,113.8 207.1,115.7 C208.5,117.6 210,120.9 210.3,123.1 C210.6,125.4 209,128.1 208.8,129.1" fill="none" stroke="#fff" stroke-width="0.9" stroke-opacity="0.6" stroke-linecap="round" stroke-linejoin="round" filter="url(#b1)"/>
<g fill="#fff" filter="url(#b1)"><circle cx="189.6" cy="110.7" r="1.3" fill-opacity="0.7"/><circle cx="193.4" cy="109.8" r="1" fill-opacity="0.9"/><circle cx="194.8" cy="109.4" r="1.3" fill-opacity="0.6"/><circle cx="200.2" cy="110.8" r="1.2" fill-opacity="1"/><circle cx="200.7" cy="110.4" r="0.8" fill-opacity="0.7"/><circle cx="202.4" cy="111" r="1" fill-opacity="0.8"/><circle cx="195.6" cy="109.9" r="1.1" fill-opacity="0.7"/><circle cx="203.7" cy="112.6" r="1.3" fill-opacity="0.9"/><circle cx="206.4" cy="114.7" r="1.3" fill-opacity="0.9"/><circle cx="205.4" cy="114" r="1" fill-opacity="0.9"/><circle cx="207.8" cy="118.3" r="1.3" fill-opacity="0.7"/><circle cx="209.1" cy="121" r="0.6" fill-opacity="0.7"/><circle cx="208.9" cy="119.1" r="0.7" fill-opacity="0.7"/><circle cx="209.7" cy="122.5" r="0.9" fill-opacity="0.6"/><circle cx="209.6" cy="126" r="0.8" fill-opacity="0.7"/><circle cx="208.9" cy="129" r="1.1" fill-opacity="0.9"/><circle cx="209.4" cy="125.3" r="1" fill-opacity="0.8"/></g>
<path d="M215.4,74.7 C214.9,75.9 213,79.3 212.4,81.7 C211.8,84.1 211.4,86.6 211.7,89.3 C212.1,92 213.5,95.2 214.4,97.7 C215.2,100.3 215.7,102.5 216.7,104.5 C217.6,106.6 219.4,109.1 220,110" fill="none" stroke="#fff" stroke-width="0.9" stroke-opacity="0.6" stroke-linecap="round" stroke-linejoin="round" filter="url(#b1)"/>
<g fill="#fff" filter="url(#b1)"><circle cx="212.5" cy="80.5" r="1" fill-opacity="0.7"/><circle cx="212.3" cy="81" r="0.7" fill-opacity="0.8"/><circle cx="213.3" cy="79.9" r="1.2" fill-opacity="0.6"/><circle cx="214.6" cy="77.4" r="1.1" fill-opacity="0.9"/><circle cx="212.7" cy="85" r="0.9" fill-opacity="0.8"/><circle cx="211.7" cy="87.4" r="1.3" fill-opacity="0.8"/><circle cx="212.2" cy="86.1" r="0.7" fill-opacity="0.7"/><circle cx="212.2" cy="82.2" r="1.2" fill-opacity="0.9"/><circle cx="212.9" cy="92.4" r="1.2" fill-opacity="0.9"/><circle cx="213.5" cy="96.6" r="1.2" fill-opacity="0.8"/><circle cx="214.6" cy="97.2" r="1.2" fill-opacity="0.9"/><circle cx="213.6" cy="97" r="1.1" fill-opacity="0.8"/><circle cx="211.9" cy="91.7" r="1.2" fill-opacity="0.7"/><circle cx="214.4" cy="99.5" r="1.3" fill-opacity="0.9"/><circle cx="215.4" cy="99.7" r="1.2" fill-opacity="0.7"/><circle cx="214.5" cy="97.3" r="0.8" fill-opacity="0.6"/><circle cx="218.9" cy="107" r="1.2" fill-opacity="0.6"/><circle cx="217.6" cy="105.5" r="0.8" fill-opacity="0.8"/><circle cx="217.7" cy="105.4" r="1.2" fill-opacity="0.9"/></g>
<path d="M156,130.7 C155.7,131.7 154.9,134.5 154.5,136.5 C154,138.6 153.7,140.6 153.1,143.1 C152.6,145.7 151.8,149.1 151.1,152 C150.4,154.9 148.5,157.9 148.7,160.6 C148.9,163.3 151,165.9 152.4,168.1 C153.7,170.4 155,172.4 156.8,174 C158.6,175.6 161.2,175.8 163.1,177.6 C165.1,179.4 167.1,182.4 168.6,184.8 C170.1,187.2 171.4,190.8 172,192" fill="none" stroke="#fff" stroke-width="0.9" stroke-opacity="0.6" stroke-linecap="round" stroke-linejoin="round" filter="url(#b1)"/>
<g fill="#fff" filter="url(#b1)"><circle cx="154.3" cy="136.9" r="0.7" fill-opacity="0.8"/><circle cx="155.7" cy="131.7" r="1.1" fill-opacity="0.8"/><circle cx="155.1" cy="132.6" r="0.8" fill-opacity="0.7"/><circle cx="153.7" cy="139.6" r="1.1" fill-opacity="0.7"/><circle cx="154.2" cy="138.5" r="1.3" fill-opacity="0.9"/><circle cx="153.7" cy="143.1" r="1.1" fill-opacity="0.6"/><circle cx="153.6" cy="138.3" r="1.1" fill-opacity="0.9"/><circle cx="152" cy="146.4" r="1.3" fill-opacity="0.7"/><circle cx="152.7" cy="143.4" r="1.3" fill-opacity="0.9"/><circle cx="151.7" cy="146.7" r="0.7" fill-opacity="0.9"/><circle cx="152.8" cy="147.8" r="1.2" fill-opacity="0.8"/><circle cx="150.3" cy="153.2" r="1" fill-opacity="0.7"/><circle cx="149.9" cy="154.6" r="1.1" fill-opacity="1"/><circle cx="148.7" cy="160.7" r="0.9" fill-opacity="0.9"/><circle cx="148.6" cy="158.7" r="0.8" fill-opacity="0.8"/><circle cx="149.6" cy="155.6" r="1.2" fill-opacity="0.8"/><circle cx="152" cy="166.8" r="0.8" fill-opacity="0.8"/><circle cx="151.9" cy="167.4" r="0.8" fill-opacity="0.7"/><circle cx="151.9" cy="167" r="1" fill-opacity="0.7"/><circle cx="149.4" cy="162.2" r="1.1" fill-opacity="0.9"/><circle cx="152.9" cy="168" r="1" fill-opacity="0.8"/><circle cx="155.6" cy="171.8" r="1.1" fill-opacity="0.9"/><circle cx="154" cy="171.4" r="1" fill-opacity="0.6"/><circle cx="154" cy="169.2" r="0.9" fill-opacity="0.9"/><circle cx="161.1" cy="175.7" r="0.7" fill-opacity="1"/><circle cx="161.3" cy="176.3" r="0.8" fill-opacity="1"/><circle cx="158.4" cy="175.3" r="1.1" fill-opacity="1"/><circle cx="158.1" cy="174.4" r="1.2" fill-opacity="0.6"/><circle cx="166.6" cy="183.1" r="0.7" fill-opacity="0.8"/><circle cx="164.1" cy="178.8" r="1.3" fill-opacity="0.6"/><circle cx="167.8" cy="184.1" r="1" fill-opacity="0.8"/><circle cx="166.7" cy="181.4" r="0.6" fill-opacity="0.8"/><circle cx="164.6" cy="179.1" r="1.2" fill-opacity="0.6"/><circle cx="171.3" cy="190.2" r="1.1" fill-opacity="0.7"/><circle cx="169.6" cy="188.5" r="1" fill-opacity="0.7"/><circle cx="169.2" cy="185.9" r="1.2" fill-opacity="0.6"/><circle cx="169.6" cy="187.8" r="0.7" fill-opacity="0.8"/></g>
<path d="M165.9,122.5 C166,123.9 166.2,128.5 166.7,131.1 C167.1,133.8 167.3,136.1 168.4,138.3 C169.6,140.5 171.8,143 173.6,144.2 C175.4,145.4 177.2,145.6 179.3,145.5 C181.3,145.5 184.9,144.3 186,144" fill="none" stroke="#fff" stroke-width="0.9" stroke-opacity="0.6" stroke-linecap="round" stroke-linejoin="round" filter="url(#b1)"/>
<g fill="#fff" filter="url(#b1)"><circle cx="166.3" cy="126.2" r="1.3" fill-opacity="0.9"/><circle cx="167" cy="129.8" r="1.1" fill-opacity="0.6"/><circle cx="166.8" cy="128.3" r="1.3" fill-opacity="0.7"/><circle cx="166.6" cy="130.9" r="0.8" fill-opacity="0.7"/><circle cx="166.7" cy="133.4" r="1.3" fill-opacity="0.9"/><circle cx="168.6" cy="138.2" r="1.3" fill-opacity="0.9"/><circle cx="166.8" cy="133" r="0.6" fill-opacity="0.7"/><circle cx="168.7" cy="137.3" r="1.2" fill-opacity="0.9"/><circle cx="172.6" cy="142.5" r="1.2" fill-opacity="0.7"/><circle cx="171.5" cy="142.1" r="1.3" fill-opacity="0.7"/><circle cx="171.3" cy="141.5" r="1.3" fill-opacity="0.8"/><circle cx="173.4" cy="144.3" r="0.7" fill-opacity="0.7"/><circle cx="178.1" cy="145.1" r="1.1" fill-opacity="1"/><circle cx="174.5" cy="144.7" r="1.1" fill-opacity="0.9"/><circle cx="177.6" cy="144.9" r="0.6" fill-opacity="0.9"/><circle cx="181.6" cy="145.3" r="1" fill-opacity="0.9"/><circle cx="183.5" cy="144.4" r="0.6" fill-opacity="0.6"/><circle cx="179.2" cy="145.1" r="0.7" fill-opacity="0.8"/></g>
<path d="M116.5,158.7 C118,158.2 122.5,156.3 125.5,155.7 C128.4,155.1 131.7,155.7 134.2,155 C136.8,154.3 138.2,152.3 140.7,151.5 C143.1,150.6 147.6,150.2 149,150" fill="none" stroke="#fff" stroke-width="0.9" stroke-opacity="0.6" stroke-linecap="round" stroke-linejoin="round" filter="url(#b1)"/>
<g fill="#fff" filter="url(#b1)"><circle cx="120.4" cy="157.4" r="1.1" fill-opacity="0.6"/><circle cx="124.7" cy="156.3" r="0.6" fill-opacity="0.9"/><circle cx="119" cy="158.4" r="1.1" fill-opacity="0.7"/><circle cx="116.2" cy="159.2" r="0.7" fill-opacity="0.9"/><circle cx="121.9" cy="156.6" r="0.7" fill-opacity="0.6"/><circle cx="129" cy="155.5" r="0.8" fill-opacity="0.6"/><circle cx="126" cy="155.2" r="1.3" fill-opacity="0.7"/><circle cx="131.4" cy="155.6" r="0.8" fill-opacity="0.7"/><circle cx="129.6" cy="155" r="1.2" fill-opacity="0.7"/><circle cx="129.1" cy="155.1" r="0.7" fill-opacity="0.7"/><circle cx="136.8" cy="153.7" r="1.3" fill-opacity="0.6"/><circle cx="138.9" cy="152.3" r="0.6" fill-opacity="0.8"/><circle cx="134.9" cy="154.9" r="0.7" fill-opacity="0.6"/><circle cx="136.9" cy="153" r="0.9" fill-opacity="0.6"/><circle cx="143.7" cy="151.5" r="1" fill-opacity="0.6"/><circle cx="142.8" cy="151.2" r="1.3" fill-opacity="1"/><circle cx="147.4" cy="150.7" r="1" fill-opacity="0.7"/><circle cx="142.5" cy="150.9" r="0.7" fill-opacity="0.7"/></g>
<path d="M167.6,76.3 C168.3,77.4 170.8,80.9 171.6,82.8 C172.3,84.8 171.9,87.1 172,88" fill="none" stroke="#fff" stroke-width="0.9" stroke-opacity="0.6" stroke-linecap="round" stroke-linejoin="round" filter="url(#b1)"/>
<g fill="#fff" filter="url(#b1)"><circle cx="167.8" cy="76.6" r="0.8" fill-opacity="0.9"/><circle cx="168.6" cy="79.2" r="1" fill-opacity="0.7"/><circle cx="167.8" cy="76.4" r="0.6" fill-opacity="0.8"/><circle cx="170.6" cy="80.8" r="1" fill-opacity="0.8"/><circle cx="172" cy="84.1" r="1.2" fill-opacity="0.9"/><circle cx="172.2" cy="84.4" r="0.8" fill-opacity="0.8"/><circle cx="171.5" cy="87.2" r="0.6" fill-opacity="0.8"/></g>
<path d="M139.6,106.8 C140.3,107.1 142.5,108.1 143.9,108.8 C145.3,109.5 147.3,110.6 148,111" fill="none" stroke="#fff" stroke-width="0.9" stroke-opacity="0.6" stroke-linecap="round" stroke-linejoin="round" filter="url(#b1)"/>
<g fill="#fff" filter="url(#b1)"><circle cx="142.6" cy="107.9" r="1.1" fill-opacity="0.6"/><circle cx="143.4" cy="108.7" r="1" fill-opacity="1"/><circle cx="142.3" cy="107.9" r="0.8" fill-opacity="0.9"/><circle cx="147.9" cy="110.7" r="1.3" fill-opacity="0.7"/><circle cx="145.4" cy="109.9" r="0.6" fill-opacity="0.7"/></g>
<path d="M151.1,104.3 C151.5,104.2 152.4,103.8 153.5,103.5 C154.6,103.3 157,102.8 157.7,102.7" fill="none" stroke="#fff" stroke-width="0.9" stroke-opacity="0.6" stroke-linecap="round" stroke-linejoin="round" filter="url(#b1)"/>
<g fill="#fff" filter="url(#b1)"><circle cx="152.2" cy="103.8" r="1" fill-opacity="0.9"/><circle cx="154" cy="103.9" r="0.7" fill-opacity="0.7"/><circle cx="155.8" cy="103.6" r="0.6" fill-opacity="0.7"/></g>
<path d="M147.8,110.9 C148.1,112.1 149.1,115.6 149.6,118.1 C150.2,120.6 150.9,124.5 151.1,125.8" fill="none" stroke="#fff" stroke-width="1.2" stroke-opacity="0.8" stroke-linecap="round" stroke-linejoin="round" filter="url(#b1)"/>
<g fill="#fff" filter="url(#b1)"><circle cx="149" cy="114" r="1.4" fill-opacity="1"/><circle cx="148.8" cy="112.7" r="0.7" fill-opacity="1"/><circle cx="147.4" cy="111.4" r="0.9" fill-opacity="1"/><circle cx="149.3" cy="117.2" r="1.4" fill-opacity="1"/><circle cx="149.9" cy="121.7" r="1.2" fill-opacity="1"/><circle cx="151.3" cy="124.8" r="0.9" fill-opacity="0.9"/><circle cx="151" cy="124.6" r="1.3" fill-opacity="1"/><circle cx="149.8" cy="120" r="1.2" fill-opacity="0.9"/><circle cx="150.9" cy="123.8" r="1.2" fill-opacity="1"/></g>
<path d="M228,84 C228.7,84.5 230.5,85.7 232.2,86.7 C233.9,87.7 236.7,88.6 238.3,89.8 C239.8,91 240.4,92.2 241.5,93.9 C242.7,95.5 244.5,98 245.3,99.8 C246.2,101.5 245.8,102.6 246.7,104.1 C247.5,105.6 249.5,106.7 250.3,108.7 C251.2,110.8 251.1,114.3 251.9,116.5 C252.7,118.7 254.4,119.9 255.1,122 C255.9,124 256,126.4 256.5,128.8 C257,131.1 257.4,133.9 258.1,136 C258.7,138.2 259.5,139.7 260.5,141.8 C261.5,143.8 262.2,146.2 263.9,148.4 C265.7,150.7 269.8,154.2 271,155.4" fill="none" stroke="#fff" stroke-width="0.9" stroke-opacity="0.6" stroke-linecap="round" stroke-linejoin="round" filter="url(#b1)"/>
<g fill="#fff" filter="url(#b1)"><circle cx="228.5" cy="84.3" r="0.7" fill-opacity="0.8"/><circle cx="232.1" cy="86.4" r="1.1" fill-opacity="0.8"/><circle cx="234.6" cy="88.4" r="0.7" fill-opacity="0.7"/><circle cx="238.4" cy="90.1" r="1.1" fill-opacity="0.9"/><circle cx="237.1" cy="88.5" r="1.2" fill-opacity="0.7"/><circle cx="241.1" cy="93.6" r="1.3" fill-opacity="0.8"/><circle cx="238.3" cy="90.7" r="1.1" fill-opacity="0.7"/><circle cx="241.2" cy="94.2" r="0.6" fill-opacity="0.7"/><circle cx="242.8" cy="96" r="0.6" fill-opacity="0.6"/><circle cx="245.6" cy="99" r="0.9" fill-opacity="0.8"/><circle cx="245.9" cy="101.3" r="0.6" fill-opacity="0.6"/><circle cx="245.1" cy="100.6" r="1.1" fill-opacity="0.7"/><circle cx="249.1" cy="107.5" r="0.7" fill-opacity="1"/><circle cx="248.2" cy="106.3" r="1.1" fill-opacity="0.8"/><circle cx="249" cy="107.8" r="1.2" fill-opacity="0.6"/><circle cx="250.9" cy="110.6" r="1.2" fill-opacity="0.7"/><circle cx="250.7" cy="109.5" r="0.7" fill-opacity="0.7"/><circle cx="250.8" cy="113.4" r="0.8" fill-opacity="0.7"/><circle cx="251" cy="112.3" r="0.6" fill-opacity="0.9"/><circle cx="253" cy="118.3" r="1.1" fill-opacity="1"/><circle cx="252.3" cy="117.8" r="0.8" fill-opacity="0.7"/><circle cx="253" cy="118.2" r="1.1" fill-opacity="1"/><circle cx="255.3" cy="124.3" r="0.6" fill-opacity="0.8"/><circle cx="254.7" cy="122.6" r="0.7" fill-opacity="1"/><circle cx="256.3" cy="127.6" r="0.7" fill-opacity="0.8"/><circle cx="255.7" cy="125.8" r="1" fill-opacity="0.9"/><circle cx="256.5" cy="129.3" r="0.8" fill-opacity="0.9"/><circle cx="256.6" cy="130.4" r="1.1" fill-opacity="0.9"/><circle cx="257" cy="132" r="1.3" fill-opacity="0.8"/><circle cx="259.3" cy="138.4" r="0.6" fill-opacity="1"/><circle cx="259.8" cy="141.2" r="1.1" fill-opacity="0.7"/><circle cx="258.5" cy="136.7" r="0.9" fill-opacity="0.6"/><circle cx="261.4" cy="141.8" r="0.8" fill-opacity="0.9"/><circle cx="260.5" cy="142.1" r="0.7" fill-opacity="0.8"/><circle cx="263" cy="146.9" r="1.2" fill-opacity="0.8"/><circle cx="261.2" cy="143.7" r="1.3" fill-opacity="0.6"/><circle cx="269.6" cy="154.1" r="1" fill-opacity="1"/><circle cx="268" cy="152.6" r="1.1" fill-opacity="0.9"/><circle cx="264.5" cy="149.9" r="0.7" fill-opacity="0.9"/><circle cx="266" cy="150.5" r="1" fill-opacity="1"/><circle cx="265.4" cy="149.2" r="0.7" fill-opacity="0.9"/></g>
<path d="M224.9,132.3 C225.9,131.8 229,130.1 231.2,129.4 C233.4,128.6 235.5,128.1 237.9,127.9 C240.2,127.7 243.1,128.1 245.2,128.3 C247.3,128.6 248.3,129.5 250.4,129.4 C252.5,129.4 255.5,128.7 258,128 C260.4,127.3 263.1,125.4 265.1,125.4 C267.1,125.4 268.4,127.3 269.9,127.9 C271.4,128.4 272.4,128.9 273.9,128.8 C275.4,128.7 277.3,127.7 278.9,127.3 C280.6,126.8 283.2,126.2 284,126" fill="none" stroke="#fff" stroke-width="0.9" stroke-opacity="0.6" stroke-linecap="round" stroke-linejoin="round" filter="url(#b1)"/>
<g fill="#fff" filter="url(#b1)"><circle cx="225.3" cy="132.5" r="0.9" fill-opacity="0.9"/><circle cx="230.8" cy="129.4" r="1.3" fill-opacity="0.9"/><circle cx="231.4" cy="129.7" r="1.2" fill-opacity="0.7"/><circle cx="234.1" cy="128.4" r="1" fill-opacity="0.7"/><circle cx="236.5" cy="128.6" r="1.2" fill-opacity="1"/><circle cx="232.7" cy="129.4" r="1.1" fill-opacity="0.9"/><circle cx="232" cy="129.3" r="0.9" fill-opacity="0.7"/><circle cx="244" cy="127.9" r="0.9" fill-opacity="0.7"/><circle cx="238.4" cy="127.4" r="1.2" fill-opacity="0.7"/><circle cx="237.9" cy="128.2" r="0.7" fill-opacity="0.8"/><circle cx="241.2" cy="128.6" r="0.8" fill-opacity="0.9"/><circle cx="248.1" cy="129.1" r="0.8" fill-opacity="0.9"/><circle cx="247.7" cy="129.1" r="1.2" fill-opacity="0.8"/><circle cx="247.6" cy="129.3" r="1.1" fill-opacity="0.7"/><circle cx="253.7" cy="129.1" r="0.7" fill-opacity="1"/><circle cx="250.8" cy="129.3" r="1.1" fill-opacity="0.8"/><circle cx="251.1" cy="129.7" r="1.2" fill-opacity="0.7"/><circle cx="252.4" cy="129.5" r="0.8" fill-opacity="1"/><circle cx="260.9" cy="127.1" r="1.3" fill-opacity="0.7"/><circle cx="259.9" cy="127.5" r="0.7" fill-opacity="0.8"/><circle cx="261.8" cy="126.3" r="1.3" fill-opacity="1"/><circle cx="262.3" cy="126.2" r="1.3" fill-opacity="0.8"/><circle cx="269.1" cy="128" r="0.8" fill-opacity="0.6"/><circle cx="268" cy="127.1" r="1.3" fill-opacity="0.8"/><circle cx="269.7" cy="127.3" r="1.1" fill-opacity="0.9"/><circle cx="272" cy="128.1" r="0.9" fill-opacity="0.8"/><circle cx="271.3" cy="127.7" r="0.9" fill-opacity="0.9"/><circle cx="274.8" cy="128.4" r="0.7" fill-opacity="0.8"/><circle cx="278.1" cy="127.5" r="1.1" fill-opacity="0.9"/><circle cx="277.8" cy="127.4" r="1.2" fill-opacity="1"/><circle cx="283.6" cy="125.6" r="0.7" fill-opacity="0.9"/><circle cx="281.9" cy="126.4" r="1.1" fill-opacity="1"/></g>
<path d="M119.3,204.9 C120.4,203.9 123.5,200.2 125.6,198.7 C127.8,197.3 129.9,195.7 132.1,196.1 C134.2,196.6 137.1,199.5 138.6,201.5 C140,203.4 140.4,205.7 140.9,207.8 C141.5,210 141.3,212.1 141.9,214.2 C142.4,216.4 143.3,218.5 144.2,220.8 C145.2,223.1 146.9,226.7 147.4,227.9" fill="none" stroke="#fff" stroke-width="0.9" stroke-opacity="0.6" stroke-linecap="round" stroke-linejoin="round" filter="url(#b1)"/>
<g fill="#fff" filter="url(#b1)"><circle cx="122.1" cy="201.8" r="0.9" fill-opacity="1"/><circle cx="122.9" cy="201.9" r="0.7" fill-opacity="0.8"/><circle cx="119.8" cy="203.5" r="1.1" fill-opacity="1"/><circle cx="121.7" cy="202.3" r="0.9" fill-opacity="0.9"/><circle cx="127.1" cy="198.4" r="0.6" fill-opacity="0.9"/><circle cx="130.2" cy="197" r="1.3" fill-opacity="0.8"/><circle cx="128.2" cy="197.7" r="1.1" fill-opacity="0.9"/><circle cx="132.9" cy="197.3" r="1.2" fill-opacity="0.8"/><circle cx="136.3" cy="200.3" r="1" fill-opacity="0.8"/><circle cx="132.8" cy="197.6" r="1.2" fill-opacity="0.6"/><circle cx="134.2" cy="197.8" r="0.9" fill-opacity="1"/><circle cx="134.4" cy="198.5" r="1.1" fill-opacity="0.8"/><circle cx="139.6" cy="204.3" r="0.8" fill-opacity="0.7"/><circle cx="139.3" cy="204.4" r="1" fill-opacity="0.7"/><circle cx="139.7" cy="203.2" r="1.1" fill-opacity="0.6"/><circle cx="141.4" cy="207.8" r="0.8" fill-opacity="0.6"/><circle cx="141.5" cy="209.8" r="1.3" fill-opacity="1"/><circle cx="142" cy="210.9" r="1.3" fill-opacity="0.8"/><circle cx="144.1" cy="219" r="0.7" fill-opacity="0.9"/><circle cx="143.8" cy="219.8" r="0.6" fill-opacity="0.6"/><circle cx="141.6" cy="215.3" r="1.1" fill-opacity="0.6"/><circle cx="144.9" cy="222.3" r="1.3" fill-opacity="0.7"/><circle cx="147.3" cy="227.6" r="0.8" fill-opacity="0.7"/><circle cx="147.9" cy="228" r="0.7" fill-opacity="0.7"/><circle cx="144.5" cy="222.2" r="0.6" fill-opacity="0.8"/></g>
<path d="M229.8,69.7 C229.4,68.8 228.2,65.6 227.2,64.1 C226.2,62.6 224.9,62.5 223.9,60.5 C222.9,58.4 221.1,54.2 221.1,51.9 C221.1,49.7 223.5,47.8 224,47" fill="none" stroke="#fff" stroke-width="0.9" stroke-opacity="0.6" stroke-linecap="round" stroke-linejoin="round" filter="url(#b1)"/>
<g fill="#fff" filter="url(#b1)"><circle cx="228" cy="66.2" r="1.3" fill-opacity="0.9"/><circle cx="227.5" cy="64.2" r="0.7" fill-opacity="0.8"/><circle cx="227.4" cy="66.2" r="1.2" fill-opacity="0.8"/><circle cx="224.5" cy="61.4" r="1" fill-opacity="0.9"/><circle cx="226.4" cy="63.2" r="1.3" fill-opacity="0.8"/><circle cx="222.6" cy="57.7" r="1.2" fill-opacity="0.9"/><circle cx="222.2" cy="53.7" r="0.8" fill-opacity="0.9"/><circle cx="223.3" cy="57.8" r="1.2" fill-opacity="0.8"/><circle cx="223.6" cy="57.6" r="1.3" fill-opacity="0.9"/><circle cx="223.4" cy="48.7" r="1" fill-opacity="0.8"/><circle cx="223.3" cy="47.7" r="0.7" fill-opacity="0.7"/><circle cx="221.9" cy="51.3" r="1.1" fill-opacity="0.7"/></g>
<path d="M244.6,56.5 C245.9,57.5 250.7,60.7 252.4,62.2 C254,63.8 253.4,64.8 254.4,66 C255.4,67.2 257.4,68.1 258.4,69.5 C259.3,71 259.6,72.9 260.2,74.6 C260.9,76.4 261.7,79.1 262,80" fill="none" stroke="#fff" stroke-width="0.9" stroke-opacity="0.6" stroke-linecap="round" stroke-linejoin="round" filter="url(#b1)"/>
<g fill="#fff" filter="url(#b1)"><circle cx="252.3" cy="62.4" r="0.9" fill-opacity="0.8"/><circle cx="251.2" cy="61.1" r="1.2" fill-opacity="0.8"/><circle cx="251.9" cy="61.5" r="1.2" fill-opacity="0.7"/><circle cx="249.3" cy="61" r="1" fill-opacity="0.9"/><circle cx="245.8" cy="57.1" r="0.8" fill-opacity="0.9"/><circle cx="252.8" cy="64.5" r="1.3" fill-opacity="0.6"/><circle cx="253.3" cy="64.2" r="1.1" fill-opacity="0.7"/><circle cx="254.7" cy="67" r="0.7" fill-opacity="0.7"/><circle cx="256.2" cy="67.4" r="1.3" fill-opacity="0.8"/><circle cx="257.2" cy="69.3" r="0.8" fill-opacity="1"/><circle cx="260.5" cy="74.7" r="1" fill-opacity="0.9"/><circle cx="258.7" cy="72.3" r="1.2" fill-opacity="0.9"/><circle cx="259.4" cy="73.3" r="1.2" fill-opacity="1"/><circle cx="260.7" cy="75.6" r="0.9" fill-opacity="0.7"/><circle cx="260.5" cy="75.4" r="0.8" fill-opacity="0.7"/><circle cx="261.5" cy="77.7" r="0.7" fill-opacity="1"/></g>
<path d="M140.8,101 C140,101.7 137.5,104.2 136.2,105.2 C134.9,106.3 133.9,106 132.8,107.4 C131.6,108.8 130.3,112 129.1,113.7 C128,115.5 126.6,116.5 125.8,118.1 C125.1,119.7 125.1,121.4 124.7,123.2 C124.3,125.1 123.4,127.2 123.5,129.4 C123.7,131.6 124.9,134.1 125.7,136.2 C126.4,138.3 127.6,141 128,142" fill="none" stroke="#fff" stroke-width="0.7" stroke-opacity="0.4" stroke-linecap="round" stroke-linejoin="round" filter="url(#b1)"/>
<g fill="#fff" filter="url(#b1)"><circle cx="136.6" cy="104.9" r="1.2" fill-opacity="0.7"/><circle cx="138.7" cy="103.5" r="0.8" fill-opacity="0.6"/><circle cx="132.6" cy="107.9" r="0.6" fill-opacity="0.4"/><circle cx="132" cy="108.3" r="1.1" fill-opacity="0.7"/><circle cx="130.8" cy="112.3" r="1" fill-opacity="0.7"/><circle cx="128.9" cy="114.5" r="0.8" fill-opacity="0.6"/><circle cx="125.8" cy="120.3" r="1.1" fill-opacity="0.4"/><circle cx="124.9" cy="123.9" r="1.2" fill-opacity="0.5"/><circle cx="124.4" cy="133.5" r="0.8" fill-opacity="0.7"/><circle cx="124.1" cy="130.4" r="0.7" fill-opacity="0.7"/><circle cx="125.8" cy="137.3" r="1.2" fill-opacity="0.8"/></g>
<path d="M155.6,165.3 C155.1,165.9 153.8,167.8 152.6,168.8 C151.4,169.9 149.6,170.4 148.2,171.5 C146.9,172.5 145.8,173.9 144.4,175.1 C142.9,176.3 141.1,177.6 139.8,178.6 C138.4,179.7 137.3,180.3 136.1,181.4 C134.9,182.6 133.8,183.3 132.5,185.4 C131.1,187.5 128.7,192.6 128,194" fill="none" stroke="#fff" stroke-width="0.7" stroke-opacity="0.5" stroke-linecap="round" stroke-linejoin="round" filter="url(#b1)"/>
<g fill="#fff" filter="url(#b1)"><circle cx="152.8" cy="168.1" r="0.9" fill-opacity="0.7"/><circle cx="149.6" cy="169.7" r="0.9" fill-opacity="0.5"/><circle cx="147.7" cy="172" r="0.7" fill-opacity="0.6"/><circle cx="146.5" cy="173.2" r="0.7" fill-opacity="0.7"/><circle cx="142.3" cy="177.2" r="1" fill-opacity="0.5"/><circle cx="143.5" cy="175.1" r="0.7" fill-opacity="0.7"/><circle cx="138.7" cy="180" r="0.7" fill-opacity="0.5"/><circle cx="135.4" cy="183" r="0.9" fill-opacity="0.5"/><circle cx="132.3" cy="186.7" r="0.7" fill-opacity="0.7"/><circle cx="132.2" cy="185.7" r="0.7" fill-opacity="0.7"/></g>
<path d="M257.8,135.6 C258.5,136.1 261,137.7 262.2,138.8 C263.5,139.9 264.4,141 265.5,142.3 C266.6,143.5 267.9,144.9 268.9,146.3 C269.9,147.7 271.1,149.3 271.3,150.6 C271.6,152 270.5,153.1 270.2,154.6 C270,156 270.6,158.1 269.8,159.5 C269,161 266.6,162.2 265.3,163.3 C264,164.4 262.6,165.5 262,166" fill="none" stroke="#fff" stroke-width="0.7" stroke-opacity="0.4" stroke-linecap="round" stroke-linejoin="round" filter="url(#b1)"/>
<g fill="#fff" filter="url(#b1)"><circle cx="259" cy="136.9" r="0.7" fill-opacity="0.6"/><circle cx="260.8" cy="137.4" r="0.6" fill-opacity="0.6"/><circle cx="264.7" cy="142" r="0.9" fill-opacity="0.5"/><circle cx="264.4" cy="141.5" r="0.8" fill-opacity="0.8"/><circle cx="266.7" cy="144.1" r="0.7" fill-opacity="0.7"/><circle cx="268" cy="145.6" r="0.6" fill-opacity="0.7"/><circle cx="269" cy="146.2" r="0.9" fill-opacity="0.7"/><circle cx="270" cy="147.6" r="1" fill-opacity="0.5"/><circle cx="270.3" cy="151.9" r="1" fill-opacity="0.7"/><circle cx="270.2" cy="153.6" r="1" fill-opacity="0.4"/><circle cx="269.4" cy="157.3" r="0.8" fill-opacity="0.7"/><circle cx="268.9" cy="161.1" r="1.1" fill-opacity="0.6"/><circle cx="265.7" cy="163.7" r="0.9" fill-opacity="0.5"/><circle cx="263.5" cy="164.5" r="0.9" fill-opacity="0.6"/></g>
<path d="M120,258 C118.6,258.6 114.3,260.9 111.7,261.7 C109,262.6 105.3,262.8 104,263" fill="none" stroke="#fff" stroke-width="0.7" stroke-opacity="0.5" stroke-linecap="round" stroke-linejoin="round" filter="url(#b1)"/>
<g fill="#fff" filter="url(#b1)"><circle cx="115.7" cy="260.1" r="0.7" fill-opacity="0.7"/><circle cx="118" cy="259.3" r="1.1" fill-opacity="0.7"/><circle cx="118.4" cy="258.9" r="0.8" fill-opacity="0.6"/><circle cx="106.6" cy="262.6" r="1" fill-opacity="0.5"/><circle cx="108" cy="262.1" r="0.8" fill-opacity="0.8"/></g>
<path d="M139.1,279.5 C138.2,279.3 135.7,278.6 133.8,278.4 C131.9,278.2 129.5,278.6 127.7,278.3 C125.9,278.1 124.8,277.2 123.2,276.7 C121.6,276.2 120,276.7 118.2,275.2 C116.3,273.8 113,269.2 112,268" fill="none" stroke="#fff" stroke-width="0.8" stroke-opacity="0.5" stroke-linecap="round" stroke-linejoin="round" filter="url(#b1)"/>
<g fill="#fff" filter="url(#b1)"><circle cx="138.6" cy="278.9" r="1.2" fill-opacity="0.7"/><circle cx="128.3" cy="278" r="0.8" fill-opacity="0.5"/><circle cx="124.4" cy="277" r="0.8" fill-opacity="0.7"/><circle cx="119.1" cy="275.8" r="0.9" fill-opacity="0.7"/><circle cx="111.8" cy="267.8" r="0.8" fill-opacity="0.9"/><circle cx="112.7" cy="269.5" r="1.1" fill-opacity="0.7"/></g>
<path d="M135,322 C133.5,322 127.6,323.6 125.8,322.2 C123.9,320.9 124.3,315.4 124,314" fill="none" stroke="#fff" stroke-width="0.8" stroke-opacity="0.6" stroke-linecap="round" stroke-linejoin="round" filter="url(#b1)"/>
<g fill="#fff" filter="url(#b1)"><circle cx="134.4" cy="322" r="0.8" fill-opacity="0.8"/><circle cx="125.6" cy="321.9" r="0.6" fill-opacity="0.7"/></g>
<path d="M135,322 C135.9,322 138.5,321.9 140.2,321.9 C141.8,321.9 143.4,322.1 145.1,322.1 C146.8,322 148.5,321.7 150.3,321.7 C152.1,321.7 155.1,322 156,322" fill="none" stroke="#fff" stroke-width="0.6" stroke-opacity="0.4" stroke-linecap="round" stroke-linejoin="round" filter="url(#b1)"/>
<g fill="#fff" filter="url(#b1)"><circle cx="137.9" cy="321.6" r="1.1" fill-opacity="0.8"/><circle cx="147.9" cy="321.3" r="0.8" fill-opacity="0.7"/><circle cx="152.8" cy="321.5" r="0.8" fill-opacity="0.6"/></g>
<path d="M167,276 C168.2,275.5 172.1,274.6 173.9,273.2 C175.8,271.9 177.3,268.9 178,268" fill="none" stroke="#fff" stroke-width="0.7" stroke-opacity="0.5" stroke-linecap="round" stroke-linejoin="round" filter="url(#b1)"/>
<g fill="#fff" filter="url(#b1)"><circle cx="175.3" cy="271.7" r="1" fill-opacity="0.7"/></g>
<path d="M136,412 C136.1,410.8 136.1,407.3 136.7,405 C137.3,402.7 138.7,400.4 139.5,398.3 C140.4,396.1 141,394.2 141.8,392.1 C142.6,390 143.6,387.6 144.3,385.5 C145.1,383.4 145.7,381.4 146.3,379.3 C146.9,377.2 147.5,375 148,373.1 C148.5,371.2 148.9,369.6 149.2,368 C149.6,366.3 149.7,364.9 150,363.2 C150.3,361.5 150.5,359.5 150.9,357.9 C151.3,356.2 152,354.7 152.5,353 C152.9,351.3 153.5,349.7 153.7,347.8 C154,345.9 154,343.8 154.2,341.7 C154.4,339.7 154.5,337.5 154.7,335.5 C154.9,333.4 155.3,331.5 155.6,329.5 C155.9,327.5 156.3,325.2 156.7,323.4 C157,321.6 157.4,320.2 157.8,318.6 C158.2,317 158.8,315.5 159.2,313.9 C159.6,312.2 159.8,310.3 160.2,308.6 C160.7,306.9 161.2,305.2 161.7,303.6 C162.2,301.9 162.8,300.2 163.3,298.5 C163.7,296.8 164,294.9 164.3,293.1 C164.6,291.3 164.6,289.6 164.9,287.8 C165.2,285.9 165.8,283.8 166.1,282 C166.4,280.3 166.5,279 166.8,277 C167.2,275 167.7,272.2 168.2,270 C168.7,267.8 169.2,266 169.6,263.9 C170,261.8 170.3,259.4 170.6,257.4 C170.8,255.4 171.1,253.6 171.1,251.9 C171.2,250.1 171,248.6 171,246.8 C171.1,245 171.1,242.9 171.2,240.9 C171.3,239 171.3,237.2 171.5,235.2 C171.7,233.2 172.2,231.1 172.4,229.1 C172.6,227.1 172.5,225 172.7,223.1 C172.8,221.1 173.3,219.2 173.4,217.3 C173.6,215.3 173.7,212.4 173.7,211.4" fill="none" stroke="#fff" stroke-width="1.1" stroke-opacity="0.8" stroke-linecap="round" stroke-linejoin="round" filter="url(#b1)"/>
<g fill="#fff" filter="url(#b1)"><circle cx="136.5" cy="408.8" r="0.7" fill-opacity="1"/><circle cx="138.6" cy="400.4" r="0.7" fill-opacity="0.9"/><circle cx="140.8" cy="394.2" r="0.7" fill-opacity="1"/><circle cx="142.9" cy="388.8" r="0.7" fill-opacity="1"/><circle cx="144.4" cy="384.9" r="0.9" fill-opacity="1"/><circle cx="146.9" cy="375.7" r="1.1" fill-opacity="1"/><circle cx="148.4" cy="371.8" r="1.1" fill-opacity="1"/><circle cx="150.6" cy="363.6" r="1" fill-opacity="1"/><circle cx="151.6" cy="357" r="0.6" fill-opacity="1"/><circle cx="153.8" cy="348.7" r="1.1" fill-opacity="0.9"/><circle cx="153.3" cy="345.6" r="0.6" fill-opacity="0.9"/><circle cx="153.9" cy="340.7" r="0.8" fill-opacity="1"/><circle cx="156.1" cy="330.2" r="1.1" fill-opacity="1"/><circle cx="156.7" cy="324.2" r="0.7" fill-opacity="1"/><circle cx="157.8" cy="320" r="1" fill-opacity="1"/><circle cx="158.1" cy="317" r="0.8" fill-opacity="1"/><circle cx="159.7" cy="312.4" r="0.7" fill-opacity="0.9"/><circle cx="160.8" cy="306.7" r="0.6" fill-opacity="1"/><circle cx="162.9" cy="298.8" r="0.8" fill-opacity="1"/><circle cx="163.7" cy="295.9" r="1.2" fill-opacity="1"/><circle cx="164.4" cy="289.2" r="0.8" fill-opacity="1"/><circle cx="167.3" cy="273.7" r="0.7" fill-opacity="1"/><circle cx="170.3" cy="262.3" r="1" fill-opacity="1"/><circle cx="171.5" cy="250.8" r="1" fill-opacity="1"/><circle cx="171.7" cy="242.5" r="0.7" fill-opacity="1"/><circle cx="170.9" cy="240.5" r="0.8" fill-opacity="0.9"/><circle cx="172.4" cy="228" r="0.9" fill-opacity="1"/><circle cx="173.2" cy="222.6" r="0.6" fill-opacity="1"/><circle cx="173.2" cy="214.5" r="0.8" fill-opacity="1"/></g>
<path d="M173.7,211.4 C173.8,210.5 173.9,207.7 174.2,205.7 C174.5,203.8 175.2,201.8 175.5,199.7 C175.9,197.7 175.9,195.5 176.2,193.6 C176.4,191.8 176.7,190.5 177.2,188.6 C177.6,186.8 178,184.5 178.8,182.4 C179.5,180.3 180.8,177.7 181.7,175.8 C182.6,173.8 183.3,172.4 184,170.6 C184.7,168.8 185.1,166.7 185.8,165 C186.6,163.2 187.7,161.6 188.6,160 C189.6,158.4 190.4,157.1 191.4,155.4 C192.4,153.7 193.7,151.5 194.9,149.7 C196.1,147.8 197.2,146 198.5,144.2 C199.7,142.5 201.1,141.1 202.1,139.2 C203.2,137.3 203.7,134.8 204.6,132.8 C205.6,130.8 206.7,129 207.8,127.2 C208.9,125.4 210,123.6 211.2,121.8 C212.5,120 214.3,118.4 215.3,116.4 C216.4,114.4 216.5,111.7 217.4,109.7 C218.3,107.8 219.7,106.5 220.8,104.7 C221.8,102.9 223.2,101.1 223.7,99.2 C224.3,97.3 223.7,95.1 224.1,93.3 C224.4,91.5 225.5,90.1 225.9,88.4 C226.3,86.6 226.4,83.8 226.5,82.9" fill="none" stroke="#fff" stroke-width="1.6" stroke-opacity="0.9" stroke-linecap="round" stroke-linejoin="round" filter="url(#b1)"/>
<g fill="#fff" filter="url(#b1)"><circle cx="174.2" cy="209.3" r="1.1" fill-opacity="1"/><circle cx="174.4" cy="209" r="1.2" fill-opacity="1"/><circle cx="174.7" cy="202.4" r="1.4" fill-opacity="1"/><circle cx="175.1" cy="204.1" r="0.7" fill-opacity="1"/><circle cx="176" cy="194.1" r="0.9" fill-opacity="1"/><circle cx="175.6" cy="195.5" r="1.2" fill-opacity="1"/><circle cx="176.4" cy="191.5" r="1" fill-opacity="1"/><circle cx="178" cy="186.6" r="1.1" fill-opacity="1"/><circle cx="177.6" cy="187.4" r="1.4" fill-opacity="1"/><circle cx="179.5" cy="179.8" r="1.1" fill-opacity="1"/><circle cx="179.2" cy="181.3" r="1.5" fill-opacity="1"/><circle cx="179.7" cy="180.1" r="1" fill-opacity="1"/><circle cx="182.9" cy="173.5" r="0.8" fill-opacity="1"/><circle cx="183.2" cy="173.1" r="1.1" fill-opacity="1"/><circle cx="184.3" cy="169.7" r="1.5" fill-opacity="1"/><circle cx="184.5" cy="169.2" r="0.7" fill-opacity="1"/><circle cx="186.8" cy="163.7" r="0.8" fill-opacity="1"/><circle cx="185.9" cy="164.7" r="0.7" fill-opacity="1"/><circle cx="189.4" cy="157.4" r="0.9" fill-opacity="1"/><circle cx="188.5" cy="159.6" r="0.8" fill-opacity="1"/><circle cx="192" cy="154.4" r="0.7" fill-opacity="1"/><circle cx="192.3" cy="154.7" r="1.2" fill-opacity="1"/><circle cx="195.4" cy="149.4" r="1.3" fill-opacity="1"/><circle cx="196.3" cy="146.9" r="0.9" fill-opacity="1"/><circle cx="199.6" cy="142.4" r="1.3" fill-opacity="1"/><circle cx="198.8" cy="143.1" r="1.1" fill-opacity="1"/><circle cx="203.6" cy="136.3" r="1.5" fill-opacity="1"/><circle cx="205.1" cy="132.6" r="1.4" fill-opacity="1"/><circle cx="208" cy="127.6" r="1.1" fill-opacity="1"/><circle cx="207" cy="127.7" r="1.2" fill-opacity="1"/><circle cx="209.8" cy="123.6" r="0.8" fill-opacity="1"/><circle cx="210.3" cy="123.2" r="0.9" fill-opacity="1"/><circle cx="212.8" cy="119.8" r="1.3" fill-opacity="1"/><circle cx="213" cy="119.7" r="0.9" fill-opacity="1"/><circle cx="217.5" cy="111.2" r="1.4" fill-opacity="1"/><circle cx="217.1" cy="112" r="1.4" fill-opacity="1"/><circle cx="216.2" cy="114.6" r="0.9" fill-opacity="1"/><circle cx="220.7" cy="105.7" r="0.8" fill-opacity="1"/><circle cx="219" cy="106.7" r="0.8" fill-opacity="1"/><circle cx="221.9" cy="103.3" r="1.4" fill-opacity="1"/><circle cx="221.4" cy="102.6" r="1" fill-opacity="1"/><circle cx="223.9" cy="93.5" r="1.5" fill-opacity="1"/><circle cx="223.2" cy="97.2" r="1.3" fill-opacity="1"/><circle cx="224.3" cy="92.7" r="1" fill-opacity="1"/><circle cx="225.3" cy="89.4" r="0.7" fill-opacity="1"/><circle cx="226.4" cy="84.9" r="0.8" fill-opacity="1"/><circle cx="226" cy="86.6" r="1.3" fill-opacity="1"/></g>
<path d="M226.5,82.9 C226.8,81.6 227.9,77.3 228.4,75.2 C229,73.1 228.6,72.6 230,70.4 C231.3,68.2 234.8,63.8 236.5,62.1 C238.2,60.4 238.7,61 240,59.9 C241.3,58.9 242.9,56.9 244.4,55.9 C245.8,54.8 247.1,54.5 248.7,53.5 C250.3,52.6 252.6,51.3 254.1,50.1 C255.6,49 257.2,47.2 257.8,46.6" fill="none" stroke="#fff" stroke-width="0.9" stroke-opacity="0.6" stroke-linecap="round" stroke-linejoin="round" filter="url(#b1)"/>
<g fill="#fff" filter="url(#b1)"><circle cx="228.7" cy="75.6" r="0.9" fill-opacity="0.9"/><circle cx="226.7" cy="80.6" r="1.2" fill-opacity="0.7"/><circle cx="228.3" cy="77.2" r="0.7" fill-opacity="0.8"/><circle cx="227.7" cy="80.9" r="0.9" fill-opacity="0.9"/><circle cx="229.3" cy="74" r="0.7" fill-opacity="0.8"/><circle cx="228.5" cy="75" r="1.3" fill-opacity="0.8"/><circle cx="230.1" cy="71.2" r="0.8" fill-opacity="0.7"/><circle cx="232.7" cy="67.1" r="0.8" fill-opacity="0.8"/><circle cx="236.1" cy="61.9" r="0.6" fill-opacity="0.6"/><circle cx="230.2" cy="70.3" r="1.1" fill-opacity="1"/><circle cx="235.5" cy="63.6" r="0.6" fill-opacity="0.8"/><circle cx="231.8" cy="67.7" r="1" fill-opacity="0.8"/><circle cx="237.4" cy="61.5" r="1.2" fill-opacity="0.8"/><circle cx="237" cy="62.3" r="1.3" fill-opacity="0.9"/><circle cx="244.1" cy="56.1" r="1.3" fill-opacity="0.9"/><circle cx="243.6" cy="56.4" r="0.9" fill-opacity="0.7"/><circle cx="243.5" cy="56.6" r="1" fill-opacity="1"/><circle cx="248.4" cy="54.3" r="0.6" fill-opacity="0.8"/><circle cx="247.1" cy="55.1" r="1.1" fill-opacity="0.8"/><circle cx="247.2" cy="54.6" r="1.3" fill-opacity="0.6"/><circle cx="252.9" cy="50.9" r="0.6" fill-opacity="0.9"/><circle cx="252.7" cy="50.7" r="0.8" fill-opacity="0.9"/><circle cx="251.7" cy="51.5" r="1" fill-opacity="1"/><circle cx="257.3" cy="46.8" r="0.9" fill-opacity="0.7"/><circle cx="256.7" cy="47.4" r="1.2" fill-opacity="1"/><circle cx="253.9" cy="50.1" r="1.3" fill-opacity="0.7"/></g>
<ellipse cx="226.5" cy="81.5" rx="2.4" ry="2.4" fill="#fff" fill-opacity="0.9" filter="url(#b2)"/>
<path d="M172,240 C171.9,239.1 171.9,236.5 171.7,234.9 C171.5,233.3 171.1,232.1 170.7,230.4 C170.4,228.8 169.9,226.9 169.6,224.8 C169.2,222.8 168.9,220.2 168.7,218.1 C168.4,216 168.1,214.3 167.8,212.2 C167.5,210.1 167.3,207.7 167.1,205.6 C166.8,203.6 166.4,201.9 166.3,200 C166.2,198.1 166.3,196.4 166.6,194.3 C167,192.3 167.7,189.6 168.3,187.7 C169,185.9 169.9,185 170.4,183.3 C171,181.6 170.7,179.7 171.7,177.5 C172.7,175.3 174.4,171.5 176.4,170.3 C178.3,169.1 182.4,170.2 183.6,170.2" fill="none" stroke="#fff" stroke-width="0.9" stroke-opacity="0.7" stroke-linecap="round" stroke-linejoin="round" filter="url(#b1)"/>
<g fill="#fff" filter="url(#b1)"><circle cx="172.1" cy="236.2" r="1.1" fill-opacity="1"/><circle cx="171.4" cy="230.9" r="1" fill-opacity="1"/><circle cx="169.8" cy="227" r="0.9" fill-opacity="0.8"/><circle cx="170.2" cy="225.3" r="1" fill-opacity="1"/><circle cx="169.2" cy="219.4" r="0.7" fill-opacity="0.8"/><circle cx="168.8" cy="220" r="0.7" fill-opacity="0.7"/><circle cx="167.5" cy="212.4" r="1.1" fill-opacity="0.7"/><circle cx="167.6" cy="213.9" r="1" fill-opacity="1"/><circle cx="166.9" cy="209.1" r="0.7" fill-opacity="1"/><circle cx="167.6" cy="207.5" r="1" fill-opacity="0.8"/><circle cx="166.6" cy="204.3" r="0.7" fill-opacity="0.8"/><circle cx="167.3" cy="204.2" r="0.9" fill-opacity="0.9"/><circle cx="166.6" cy="194.7" r="1.1" fill-opacity="0.8"/><circle cx="165.9" cy="198.5" r="1.1" fill-opacity="0.8"/><circle cx="168.3" cy="187.6" r="1.1" fill-opacity="1"/><circle cx="166.8" cy="192" r="1" fill-opacity="1"/><circle cx="169" cy="186.1" r="0.9" fill-opacity="0.9"/><circle cx="170.7" cy="184.2" r="0.9" fill-opacity="1"/><circle cx="171.8" cy="178.4" r="0.8" fill-opacity="1"/><circle cx="176" cy="171.3" r="1.1" fill-opacity="0.8"/><circle cx="175.2" cy="172" r="0.7" fill-opacity="1"/><circle cx="177.6" cy="170" r="0.8" fill-opacity="0.9"/><circle cx="181" cy="170.8" r="1" fill-opacity="0.8"/></g>
<path d="M134.5,400 C134.5,398.9 134.4,395.7 134.4,393.7 C134.4,391.6 134.7,389.9 134.6,387.6 C134.5,385.4 133.9,382.6 133.8,380.1 C133.7,377.7 134.1,374.1 134.2,372.9" fill="none" stroke="#fff" stroke-width="2.3" stroke-opacity="1" stroke-linecap="round" stroke-linejoin="round" filter="url(#b1)"/>
<path d="M134.2,372.9 C134.2,372 134.2,369.2 134.3,367.3 C134.3,365.4 134.3,363.5 134.4,361.7 C134.5,359.9 134.8,358.3 134.8,356.5 C134.9,354.6 134.7,352.8 134.7,350.9 C134.7,348.9 134.7,346.7 134.8,344.6 C134.8,342.6 135,340.6 135.1,338.5 C135.2,336.5 135.5,334.5 135.6,332.4 C135.6,330.3 135.3,327.9 135.3,325.9 C135.4,324 135.6,322.4 135.8,320.6 C136.1,318.9 136.6,317.2 136.8,315.4 C137,313.6 136.8,311.7 137,309.9 C137.1,308 137.5,306.2 137.7,304.2 C137.8,302.2 138,299.8 138.1,297.8 C138.1,295.7 138,294 138.1,292 C138.3,289.9 138.7,287.6 138.9,285.6 C139.1,283.6 139.3,281.7 139.4,279.7 C139.4,277.7 139.1,275.6 139.1,273.7 C139.1,271.9 139.4,270.4 139.4,268.6 C139.5,266.8 139.3,264.6 139.4,262.7 C139.4,260.9 139.6,258.4 139.7,257.5" fill="none" stroke="#fff" stroke-width="1.2" stroke-opacity="0.8" stroke-linecap="round" stroke-linejoin="round" filter="url(#b1)"/>
<g fill="#fff" filter="url(#b1)"><circle cx="134.4" cy="358.4" r="0.7" fill-opacity="0.9"/><circle cx="135" cy="347.8" r="1.1" fill-opacity="1"/><circle cx="136.5" cy="317.3" r="0.7" fill-opacity="1"/><circle cx="136.9" cy="310.2" r="1.1" fill-opacity="1"/><circle cx="138.6" cy="289.9" r="1.1" fill-opacity="1"/><circle cx="139.2" cy="280.4" r="0.6" fill-opacity="1"/><circle cx="139.1" cy="261.4" r="0.9" fill-opacity="1"/></g>
<path d="M139.7,257.5 C140.2,256.3 141.5,252.7 142.4,250.4 C143.4,248.1 144.5,245.7 145.3,243.6 C146.2,241.5 146.8,239.6 147.6,237.7 C148.4,235.7 149.6,232.9 150,232" fill="none" stroke="#fff" stroke-width="1.8" stroke-opacity="1" stroke-linecap="round" stroke-linejoin="round" filter="url(#b1)"/>
<ellipse cx="150.5" cy="231" rx="5" ry="6" fill="#fff" fill-opacity="0.55" filter="url(#b3)"/>
<ellipse cx="150.5" cy="231" rx="2.2" ry="3.2" fill="#fff" filter="url(#b2)"/>
<path d="M150,232 C150.8,231 153.2,227.9 154.9,226.1 C156.5,224.3 158.3,222.3 160.2,221.1 C162,219.9 165,219.3 166,219" fill="none" stroke="#fff" stroke-width="0.9" stroke-opacity="0.7" stroke-linecap="round" stroke-linejoin="round" filter="url(#b1)"/>
<path d="M150,230 C149.5,228.7 147.8,224.8 147,222.1 C146.1,219.5 145.3,215.4 145,214" fill="none" stroke="#fff" stroke-width="0.9" stroke-opacity="0.7" stroke-linecap="round" stroke-linejoin="round" filter="url(#b1)"/>
<path d="M133.5,377 C133,376.2 131.5,373.6 130.5,372 C129.5,370.4 128.5,367.8 127.3,367.5 C126.1,367.1 125,369.8 123.3,369.9 C121.7,370 119.5,368.8 117.6,368.2 C115.7,367.6 113.7,366.9 112,366.3 C110.2,365.8 108.9,365.4 106.8,364.6 C104.8,363.9 102,362.9 99.7,362 C97.3,361.1 94.8,359.3 92.8,359.3 C90.7,359.2 89.1,360.7 87.3,361.6 C85.5,362.5 82.9,364.1 82,364.6" fill="none" stroke="#fff" stroke-width="1.9" stroke-opacity="1" stroke-linecap="round" stroke-linejoin="round" filter="url(#b1)"/>
<path d="M134,397 C133.4,396.6 131.7,394.3 130.7,394.4 C129.6,394.5 128.9,396.7 127.7,397.6 C126.5,398.6 125.2,399.7 123.5,400.3 C121.7,400.9 119.1,400.9 117.3,401.3 C115.6,401.7 114.7,402.5 112.7,402.6 C110.7,402.6 107.9,401.8 105.4,401.5 C102.8,401.1 99.8,400.5 97.3,400.3 C94.8,400.1 92.7,400.4 90.3,400.5 C87.9,400.7 85.3,401 83.2,401.2 C81.1,401.5 79.4,401.8 77.6,401.9 C75.9,402.1 74.2,402 72.6,402.2 C70.9,402.4 69.6,402.4 67.6,403.1 C65.7,403.7 63.1,405.1 60.9,406.1 C58.8,407.2 56.6,408.1 54.7,409.3 C52.9,410.5 51.4,412 49.9,413.3 C48.3,414.6 46.5,415.8 45.3,417.4 C44.2,419 43.6,421.1 42.8,423 C42,424.8 41.6,426.9 40.7,428.6 C39.7,430.4 38.3,431.9 37.3,433.5 C36.2,435 35.4,436.4 34.4,437.9 C33.3,439.5 31.6,441.9 31,442.7" fill="none" stroke="#fff" stroke-width="1.3" stroke-opacity="0.9" stroke-linecap="round" stroke-linejoin="round" filter="url(#b1)"/>
<g fill="#fff" filter="url(#b1)"><circle cx="119.3" cy="401.4" r="1.1" fill-opacity="1"/><circle cx="116.3" cy="402" r="0.8" fill-opacity="1"/><circle cx="111.5" cy="402.3" r="1.2" fill-opacity="1"/><circle cx="104.8" cy="401" r="0.7" fill-opacity="1"/><circle cx="89.8" cy="401" r="0.7" fill-opacity="1"/><circle cx="81.1" cy="401.4" r="0.8" fill-opacity="1"/><circle cx="67.8" cy="403" r="1.2" fill-opacity="1"/><circle cx="62.7" cy="405.6" r="0.7" fill-opacity="1"/><circle cx="51" cy="412.4" r="0.8" fill-opacity="1"/><circle cx="44.7" cy="419.5" r="1.1" fill-opacity="1"/><circle cx="42.7" cy="422.6" r="1.1" fill-opacity="1"/><circle cx="35.1" cy="437.2" r="1" fill-opacity="1"/><circle cx="34.8" cy="437.9" r="1" fill-opacity="1"/></g>
<path d="M134,397 C133.5,396.6 131.8,394.3 130.8,394.4 C129.8,394.5 129.1,396.4 127.8,397.4 C126.5,398.4 124,399.9 123.2,400.4" fill="none" stroke="#fff" stroke-width="2" stroke-opacity="1" stroke-linecap="round" stroke-linejoin="round" filter="url(#b1)"/>
<path d="M112.7,402.7 L113.4,408" fill="none" stroke="#fff" stroke-width="1.7" stroke-opacity="0.9" stroke-linecap="round" stroke-linejoin="round" filter="url(#b1)"/>
<path d="M140.6,414.8 C141.7,413.8 145.1,410.5 147.3,408.5 C149.5,406.5 151.7,404.2 153.7,402.6 C155.7,401 157,399.6 159.3,398.8 C161.6,397.9 165.3,397.6 167.3,397.5 C169.3,397.4 170.9,398 171.6,398.1" fill="none" stroke="#fff" stroke-width="1.4" stroke-opacity="0.9" stroke-linecap="round" stroke-linejoin="round" filter="url(#b1)"/>
<path d="M142.9,414 C144.1,413.5 147.7,411.7 150.2,410.8 C152.8,409.9 155.7,409.4 158.2,408.8 C160.8,408.2 162.9,407.3 165.6,407 C168.4,406.6 172.1,406.6 174.5,406.7 C177,406.7 178.2,406.9 180.4,407.2 C182.6,407.4 185.7,408.1 187.9,408.3 C190.2,408.5 191.8,408.3 193.9,408.3 C195.9,408.2 198.3,408.2 200.2,408.1 C202.1,408.1 203.3,408 205,407.9 C206.8,407.8 208.8,407.6 210.6,407.5 C212.4,407.4 213.8,407.2 215.7,407.3 C217.6,407.4 221.1,407.8 222.2,407.9" fill="none" stroke="#fff" stroke-width="1.4" stroke-opacity="0.9" stroke-linecap="round" stroke-linejoin="round" filter="url(#b1)"/>
<g fill="#fff" filter="url(#b1)"><circle cx="144.3" cy="413.5" r="0.8" fill-opacity="1"/><circle cx="155.5" cy="410" r="0.9" fill-opacity="1"/><circle cx="159.3" cy="408.2" r="0.8" fill-opacity="1"/><circle cx="166.5" cy="406.9" r="1.1" fill-opacity="1"/><circle cx="178.8" cy="407.3" r="0.7" fill-opacity="1"/><circle cx="185.8" cy="407.9" r="1.1" fill-opacity="1"/><circle cx="188.3" cy="407.8" r="1" fill-opacity="1"/><circle cx="198.8" cy="408.2" r="1.2" fill-opacity="1"/><circle cx="203" cy="408.3" r="0.9" fill-opacity="1"/></g>
<ellipse cx="179.2" cy="408.7" rx="3.2" ry="3" fill="#fff" fill-opacity="0.85" filter="url(#b2)"/>
<ellipse cx="179.2" cy="408.7" rx="7" ry="6" fill="#fff" fill-opacity="0.3" filter="url(#b3)"/>
<path d="M127.8,440 C127,440.1 124.8,439.7 123.2,440.3 C121.7,440.9 120.2,442.4 118.6,443.5 C117.1,444.5 115.9,445.9 114.1,446.8 C112.3,447.6 109.8,447.8 107.9,448.5 C105.9,449.2 104.2,449.7 102.2,450.9 C100.3,452.1 97.5,454 96,455.7 C94.4,457.3 94,458.9 92.9,460.6 C91.9,462.4 90.6,464.4 89.7,466.2 C88.8,468 88.5,469.7 87.7,471.6 C86.8,473.4 85.8,475.4 84.8,477.3 C83.7,479.2 82.4,481.2 81.4,482.9 C80.3,484.6 79.7,486 78.7,487.8 C77.6,489.5 76.2,491.4 75.2,493.3 C74.1,495.3 73.4,497.4 72.3,499.5 C71.3,501.6 69.6,504.8 69,505.9" fill="none" stroke="#fff" stroke-width="1.3" stroke-opacity="0.9" stroke-linecap="round" stroke-linejoin="round" filter="url(#b1)"/>
<g fill="#fff" filter="url(#b1)"><circle cx="115.2" cy="445.9" r="1" fill-opacity="1"/><circle cx="110.8" cy="447" r="1" fill-opacity="0.9"/><circle cx="104.1" cy="450.6" r="1.2" fill-opacity="1"/><circle cx="94.4" cy="458.3" r="1" fill-opacity="0.9"/><circle cx="86.7" cy="473.8" r="0.7" fill-opacity="1"/><circle cx="78.6" cy="487.7" r="0.7" fill-opacity="1"/><circle cx="76.2" cy="490.8" r="0.7" fill-opacity="1"/></g>
<path d="M102.1,451 C101.1,450.4 98.1,448.7 96.1,447.4 C94.1,446.2 91.7,445.1 90,443.4 C88.3,441.6 87.5,438.6 86.1,436.9 C84.7,435.2 82.3,433.8 81.6,433.2" fill="none" stroke="#fff" stroke-width="0.9" stroke-opacity="0.7" stroke-linecap="round" stroke-linejoin="round" filter="url(#b1)"/>
<path d="M127,440 C126.9,441.3 126.9,445.5 126.5,447.8 C126,450.1 124.9,452 124.3,454 C123.6,456 123.6,457.5 122.7,459.8 C121.9,462.1 120.1,465.6 119.3,467.8 C118.5,470 118.3,471.3 117.8,473.1 C117.3,474.9 116.8,476.9 116.3,478.6 C115.8,480.4 115.5,482.1 114.7,483.7 C114,485.3 112.6,486.7 111.6,488.1 C110.6,489.5 109.7,490.8 108.7,492.1 C107.7,493.5 106.7,494.8 105.6,496.3 C104.4,497.7 103.1,499.2 101.9,500.6 C100.6,502 99.3,503.4 98,504.7 C96.7,506.1 95.4,507.3 94.1,508.8 C92.7,510.3 91.3,512 89.7,513.7 C88.2,515.3 86.4,516.9 84.9,518.5 C83.4,520 82.2,521.5 80.9,523.1 C79.5,524.7 77.6,527.2 76.9,528" fill="none" stroke="#fff" stroke-width="1.6" stroke-opacity="1" stroke-linecap="round" stroke-linejoin="round" filter="url(#b1)"/>
<g fill="#fff" filter="url(#b1)"><circle cx="122.8" cy="457.4" r="0.9" fill-opacity="1"/><circle cx="116.8" cy="475.9" r="0.8" fill-opacity="1"/><circle cx="112.5" cy="487.6" r="1" fill-opacity="1"/><circle cx="95.6" cy="506.8" r="1.2" fill-opacity="1"/><circle cx="84.3" cy="519.2" r="1" fill-opacity="1"/><circle cx="79.2" cy="524.2" r="1.1" fill-opacity="1"/></g>
<path d="M130,440 C130,441.4 130.2,445.8 130.1,448.1 C129.9,450.4 129.4,451.8 129.1,453.9 C128.8,455.9 128.8,458.3 128.3,460.3 C127.7,462.3 126.6,464 125.8,465.9 C125,467.7 124.3,469.4 123.5,471.4 C122.7,473.4 121.7,475.9 121.1,477.7 C120.4,479.4 119.9,480.4 119.4,481.9 C118.9,483.5 118.5,485.4 118,487 C117.5,488.6 116.9,489.9 116.4,491.5 C115.9,493 115.5,494.5 115,496.2 C114.6,497.8 113.9,499.7 113.5,501.5 C113.1,503.3 113,505.1 112.7,506.9 C112.4,508.7 112,510.6 111.6,512.3 C111.2,514.1 110.8,515.7 110.3,517.4 C109.7,519.2 108.8,521.2 108.2,522.9 C107.6,524.7 107.1,527.2 106.9,528" fill="none" stroke="#fff" stroke-width="1.6" stroke-opacity="1" stroke-linecap="round" stroke-linejoin="round" filter="url(#b1)"/>
<g fill="#fff" filter="url(#b1)"><circle cx="125.9" cy="464.4" r="1.1" fill-opacity="1"/><circle cx="121.4" cy="476" r="1" fill-opacity="1"/><circle cx="109.9" cy="518.4" r="1.1" fill-opacity="1"/><circle cx="107.8" cy="525.7" r="0.7" fill-opacity="1"/></g>
<path d="M121.1,477.4 C120.8,478.5 119.8,481.9 119.2,484 C118.7,486.1 118.1,488.1 117.9,489.9 C117.6,491.7 117.8,493 117.7,494.7 C117.6,496.4 117.6,498.5 117.5,500.2 C117.4,502 117.5,503.7 117.2,505.3 C117,506.9 116.2,508.1 115.9,509.7 C115.5,511.4 115.5,513.4 115.2,515.2 C114.9,516.9 114.2,519.2 114,520" fill="none" stroke="#fff" stroke-width="0.9" stroke-opacity="0.7" stroke-linecap="round" stroke-linejoin="round" filter="url(#b1)"/>
<path d="M123,444 C122.4,445.4 120.3,449.7 119.4,452.4 C118.6,455.1 118.3,458 117.9,460.1 C117.5,462.2 117.3,463.5 117,465.1 C116.7,466.8 116.2,469.2 116,470" fill="none" stroke="#fff" stroke-width="1" stroke-opacity="0.8" stroke-linecap="round" stroke-linejoin="round" filter="url(#b1)"/>
<path d="M128,438 C127.7,439.7 127.2,444.3 126.3,448 C125.4,451.7 123.1,458 122.5,460" fill="none" stroke="#fff" stroke-width="2.8" stroke-opacity="1" stroke-linecap="round" stroke-linejoin="round" filter="url(#b1)"/>
<path d="M130.5,438 C130.4,439.7 130.3,444.3 130,448 C129.7,451.7 128.8,458 128.5,460" fill="none" stroke="#fff" stroke-width="2.6" stroke-opacity="1" stroke-linecap="round" stroke-linejoin="round" filter="url(#b1)"/>
<path d="M128,438 C127.2,438.5 124.8,439.9 123.2,440.8 C121.7,441.7 119.5,443.1 118.7,443.5" fill="none" stroke="#fff" stroke-width="2" stroke-opacity="1" stroke-linecap="round" stroke-linejoin="round" filter="url(#b1)"/>
<path d="M136.5,400 C137.1,398.2 138.8,391.9 139.9,389.1 C141,386.3 142,384.5 142.9,383 C143.8,381.5 144.8,380.5 145.2,380" fill="none" stroke="#fff" stroke-width="1.5" stroke-opacity="1" stroke-linecap="round" stroke-linejoin="round" filter="url(#b1)"/>
<path d="M134,419.3 L200,417.6 L243.5,416 L243.5,430.3 L200,429.2 L134,428.6 Z" fill="#fff" filter="url(#b1)"/>
<path d="M134,418.5 L243.5,414.6 L243.5,431.6 L134,429.6 Z" fill="#fff" fill-opacity="0.4" filter="url(#b2)"/>
<path d="M135.6,393 C138.2,399 141.3,408 141.2,418 C141,427 136.5,435 130.5,441.5 L126.3,441.5 C124.8,434 124.3,426 126,418 C128,408 131.3,399 133.4,393 Z" fill="#fff" filter="url(#b1)"/>
<use href="#ah" fill="#f6e72a" transform="translate(225 132.3) rotate(9.5)"/>
<use href="#ah" fill="#f6e72a" transform="translate(189 167.7) rotate(-4)"/>
<use href="#ah" fill="#f6e72a" transform="translate(180.2 220.8) rotate(-20)"/>
<use href="#ah" fill="#f6e72a" transform="translate(174.6 267.1) rotate(-17.7)"/>
<use href="#ah" fill="#f6e72a" transform="translate(163.6 324.8) rotate(-18)"/>
<use href="#ah" fill="#f6e72a" transform="translate(152.9 372.9) rotate(-20)"/>
</g>
<text x="129" y="66" font-size="16" text-anchor="start" font-weight="bold" fill="#f6e72a">Alexa 594</text>
<use href="#pr" fill="#000"/>
<g clip-path="url(#cr)">
<rect x="265" y="288" width="174" height="120" fill="#070707"/>
<rect x="255" y="408" width="175" height="122" fill="#030303"/>
<ellipse cx="362" cy="398" rx="40" ry="22" fill="#fff" fill-opacity="0.12" filter="url(#b4)"/>
<g fill="#fff" filter="url(#b1)"><circle cx="441.2" cy="314.8" r="0.5" fill-opacity="0.5"/><circle cx="451.2" cy="193.7" r="0.5" fill-opacity="0.6"/><circle cx="390.7" cy="307.1" r="0.7" fill-opacity="0.2"/><circle cx="480.4" cy="95.8" r="0.7" fill-opacity="0.4"/><circle cx="267.7" cy="51.2" r="0.8" fill-opacity="0.2"/><circle cx="352.5" cy="277.8" r="0.9" fill-opacity="0.5"/><circle cx="471" cy="377.4" r="0.7" fill-opacity="0.5"/><circle cx="384.6" cy="510.8" r="0.8" fill-opacity="0.5"/><circle cx="374.9" cy="457.3" r="0.5" fill-opacity="0.5"/><circle cx="413.9" cy="67.9" r="0.4" fill-opacity="0.4"/><circle cx="391.9" cy="261.1" r="0.7" fill-opacity="0.3"/><circle cx="457.4" cy="82.4" r="0.5" fill-opacity="0.2"/><circle cx="489.9" cy="153.3" r="0.4" fill-opacity="0.3"/><circle cx="268.8" cy="301.6" r="0.7" fill-opacity="0.4"/><circle cx="423.8" cy="391.7" r="0.6" fill-opacity="0.3"/><circle cx="264.8" cy="271.5" r="0.5" fill-opacity="0.5"/><circle cx="374.6" cy="131.1" r="0.8" fill-opacity="0.6"/><circle cx="282.3" cy="49" r="0.5" fill-opacity="0.4"/><circle cx="477.6" cy="205.4" r="0.4" fill-opacity="0.6"/><circle cx="399.4" cy="445.6" r="0.6" fill-opacity="0.5"/><circle cx="496" cy="499.3" r="0.6" fill-opacity="0.6"/><circle cx="317.9" cy="443.4" r="0.6" fill-opacity="0.6"/><circle cx="313" cy="388.9" r="0.4" fill-opacity="0.6"/><circle cx="272.5" cy="383.1" r="0.4" fill-opacity="0.2"/><circle cx="495.4" cy="399.4" r="0.8" fill-opacity="0.3"/><circle cx="399.9" cy="253.7" r="0.4" fill-opacity="0.5"/><circle cx="496.6" cy="203" r="0.6" fill-opacity="0.2"/><circle cx="353.6" cy="384.9" r="0.8" fill-opacity="0.2"/><circle cx="279.9" cy="349.6" r="0.9" fill-opacity="0.2"/><circle cx="437.8" cy="370.2" r="0.4" fill-opacity="0.4"/><circle cx="440.8" cy="274.8" r="0.7" fill-opacity="0.4"/><circle cx="391.4" cy="205" r="0.7" fill-opacity="0.5"/><circle cx="339.7" cy="522.3" r="0.5" fill-opacity="0.3"/><circle cx="419.1" cy="46.7" r="0.4" fill-opacity="0.3"/><circle cx="261.6" cy="300.6" r="0.5" fill-opacity="0.5"/><circle cx="406.9" cy="308.3" r="0.8" fill-opacity="0.1"/><circle cx="377.6" cy="63.7" r="0.7" fill-opacity="0.5"/><circle cx="383.4" cy="249.8" r="0.9" fill-opacity="0.6"/><circle cx="479.9" cy="402.1" r="0.4" fill-opacity="0.1"/><circle cx="458.6" cy="371.8" r="0.5" fill-opacity="0.2"/><circle cx="480.6" cy="303.5" r="0.5" fill-opacity="0.3"/><circle cx="448.4" cy="429.2" r="0.4" fill-opacity="0.2"/><circle cx="312.5" cy="460.8" r="0.5" fill-opacity="0.1"/><circle cx="275.1" cy="409.3" r="0.5" fill-opacity="0.3"/><circle cx="337.5" cy="246.1" r="0.7" fill-opacity="0.5"/><circle cx="395.4" cy="243.5" r="0.4" fill-opacity="0.2"/><circle cx="331.3" cy="105.7" r="0.7" fill-opacity="0.5"/><circle cx="457.3" cy="345.7" r="0.7" fill-opacity="0.3"/><circle cx="319.7" cy="292.5" r="0.5" fill-opacity="0.4"/><circle cx="449.1" cy="107.3" r="0.5" fill-opacity="0.4"/><circle cx="256.5" cy="171.3" r="0.5" fill-opacity="0.1"/><circle cx="318.7" cy="164" r="0.6" fill-opacity="0.3"/><circle cx="435.9" cy="284.6" r="0.5" fill-opacity="0.6"/><circle cx="392.5" cy="102.8" r="0.7" fill-opacity="0.4"/><circle cx="409" cy="346.2" r="0.4" fill-opacity="0.1"/><circle cx="420" cy="159.1" r="0.4" fill-opacity="0.5"/><circle cx="300.2" cy="111.8" r="0.7" fill-opacity="0.4"/><circle cx="306.4" cy="304.8" r="0.5" fill-opacity="0.2"/><circle cx="415.8" cy="88.5" r="0.7" fill-opacity="0.4"/><circle cx="313.9" cy="331.2" r="0.5" fill-opacity="0.6"/><circle cx="351.9" cy="250.8" r="0.8" fill-opacity="0.6"/><circle cx="443.5" cy="306.7" r="0.7" fill-opacity="0.6"/><circle cx="394.3" cy="258.7" r="0.8" fill-opacity="0.2"/><circle cx="428.9" cy="282.8" r="0.7" fill-opacity="0.5"/><circle cx="319.7" cy="369.9" r="0.9" fill-opacity="0.3"/><circle cx="385.5" cy="195.2" r="0.6" fill-opacity="0.2"/><circle cx="297.1" cy="260.9" r="0.6" fill-opacity="0.4"/><circle cx="350.2" cy="110.6" r="0.7" fill-opacity="0.6"/><circle cx="323.9" cy="216.3" r="0.8" fill-opacity="0.4"/><circle cx="450" cy="48.5" r="0.5" fill-opacity="0.3"/><circle cx="385.9" cy="327.7" r="0.8" fill-opacity="0.3"/><circle cx="495.3" cy="101.9" r="0.8" fill-opacity="0.2"/><circle cx="473.4" cy="277.3" r="0.4" fill-opacity="0.4"/><circle cx="372.7" cy="272.8" r="0.5" fill-opacity="0.6"/><circle cx="432.3" cy="292.3" r="0.8" fill-opacity="0.6"/><circle cx="295.3" cy="162.2" r="0.6" fill-opacity="0.4"/><circle cx="367.8" cy="273.5" r="0.7" fill-opacity="0.4"/><circle cx="481" cy="522.7" r="0.6" fill-opacity="0.3"/><circle cx="472.7" cy="264.2" r="0.6" fill-opacity="0.4"/><circle cx="447.5" cy="136" r="0.9" fill-opacity="0.1"/><circle cx="470" cy="156.1" r="0.4" fill-opacity="0.2"/><circle cx="424.4" cy="104.2" r="0.4" fill-opacity="0.2"/><circle cx="401.8" cy="103.3" r="0.4" fill-opacity="0.4"/><circle cx="407.9" cy="461.2" r="0.4" fill-opacity="0.6"/><circle cx="392.8" cy="340.5" r="0.7" fill-opacity="0.4"/><circle cx="443.9" cy="296.3" r="0.5" fill-opacity="0.4"/><circle cx="274.5" cy="97.7" r="0.8" fill-opacity="0.4"/><circle cx="345.3" cy="256.3" r="0.9" fill-opacity="0.4"/><circle cx="299.4" cy="327.7" r="0.6" fill-opacity="0.5"/><circle cx="260" cy="291.7" r="0.7" fill-opacity="0.5"/><circle cx="369.5" cy="350.8" r="0.5" fill-opacity="0.4"/><circle cx="377.4" cy="218.1" r="0.8" fill-opacity="0.6"/><circle cx="484.8" cy="166" r="0.7" fill-opacity="0.1"/><circle cx="464.8" cy="374.7" r="0.6" fill-opacity="0.4"/><circle cx="421.8" cy="329.3" r="0.5" fill-opacity="0.2"/><circle cx="262.7" cy="355.7" r="0.9" fill-opacity="0.4"/><circle cx="480" cy="272.9" r="0.5" fill-opacity="0.3"/><circle cx="484.5" cy="282.1" r="0.5" fill-opacity="0.2"/><circle cx="407.8" cy="292.5" r="0.9" fill-opacity="0.5"/><circle cx="401.2" cy="361.8" r="0.4" fill-opacity="0.3"/><circle cx="459.7" cy="337.3" r="0.4" fill-opacity="0.6"/><circle cx="453.5" cy="211.2" r="0.8" fill-opacity="0.5"/><circle cx="280.8" cy="324.8" r="0.5" fill-opacity="0.2"/><circle cx="484.4" cy="284.1" r="0.7" fill-opacity="0.2"/><circle cx="428.9" cy="268.7" r="0.6" fill-opacity="0.5"/><circle cx="416.2" cy="78.3" r="0.9" fill-opacity="0.2"/><circle cx="444.1" cy="193.9" r="0.6" fill-opacity="0.5"/><circle cx="407.1" cy="279.4" r="0.6" fill-opacity="0.2"/><circle cx="425.4" cy="108.4" r="0.8" fill-opacity="0.4"/><circle cx="380.2" cy="389.6" r="0.6" fill-opacity="0.4"/><circle cx="260.5" cy="216.1" r="0.9" fill-opacity="0.6"/><circle cx="403.2" cy="404.9" r="0.8" fill-opacity="0.4"/><circle cx="355.6" cy="221" r="0.8" fill-opacity="0.4"/><circle cx="386" cy="286.7" r="0.5" fill-opacity="0.4"/><circle cx="280.6" cy="219.9" r="0.6" fill-opacity="0.6"/><circle cx="441.8" cy="222.1" r="0.9" fill-opacity="0.1"/><circle cx="462" cy="460.3" r="0.9" fill-opacity="0.4"/><circle cx="350.3" cy="251.8" r="0.6" fill-opacity="0.5"/><circle cx="474.3" cy="204.1" r="0.8" fill-opacity="0.4"/><circle cx="415.5" cy="82" r="0.8" fill-opacity="0.3"/><circle cx="487.1" cy="392.9" r="0.8" fill-opacity="0.5"/><circle cx="409.1" cy="369.7" r="0.5" fill-opacity="0.3"/><circle cx="498.5" cy="74.6" r="0.5" fill-opacity="0.2"/><circle cx="487.7" cy="219.6" r="0.8" fill-opacity="0.4"/><circle cx="409.5" cy="258.9" r="0.9" fill-opacity="0.3"/><circle cx="383.7" cy="277.6" r="0.4" fill-opacity="0.4"/><circle cx="450.7" cy="255.1" r="0.9" fill-opacity="0.2"/><circle cx="440.1" cy="256.6" r="0.6" fill-opacity="0.4"/><circle cx="287.5" cy="311.5" r="0.7" fill-opacity="0.1"/><circle cx="328.5" cy="255.5" r="0.6" fill-opacity="0.3"/><circle cx="419.1" cy="245.2" r="0.5" fill-opacity="0.3"/><circle cx="391.5" cy="393.8" r="0.6" fill-opacity="0.2"/><circle cx="282.5" cy="117" r="0.5" fill-opacity="0.4"/><circle cx="315.2" cy="134.5" r="0.7" fill-opacity="0.4"/><circle cx="360" cy="340.2" r="0.6" fill-opacity="0.2"/><circle cx="466.7" cy="226.6" r="0.6" fill-opacity="0.2"/><circle cx="469.1" cy="344" r="0.6" fill-opacity="0.3"/><circle cx="290.7" cy="311.3" r="0.4" fill-opacity="0.5"/><circle cx="306.2" cy="359.5" r="0.5" fill-opacity="0.2"/><circle cx="304.8" cy="135.7" r="0.8" fill-opacity="0.2"/><circle cx="410.3" cy="61.5" r="0.7" fill-opacity="0.4"/><circle cx="350.8" cy="315.6" r="0.6" fill-opacity="0.1"/><circle cx="471.3" cy="326.5" r="0.5" fill-opacity="0.2"/><circle cx="402.8" cy="313.4" r="0.4" fill-opacity="0.5"/><circle cx="294.9" cy="319.5" r="0.4" fill-opacity="0.2"/><circle cx="416.7" cy="298.7" r="0.9" fill-opacity="0.4"/><circle cx="273.4" cy="327.2" r="0.7" fill-opacity="0.2"/><circle cx="424" cy="344.9" r="0.9" fill-opacity="0.3"/><circle cx="278.8" cy="453.6" r="0.8" fill-opacity="0.2"/><circle cx="355.5" cy="334.6" r="0.9" fill-opacity="0.4"/><circle cx="387.2" cy="269.6" r="0.7" fill-opacity="0.2"/><circle cx="388" cy="217.1" r="0.4" fill-opacity="0.4"/><circle cx="465.3" cy="136.4" r="0.6" fill-opacity="0.5"/><circle cx="351" cy="249.1" r="0.6" fill-opacity="0.5"/><circle cx="343.6" cy="366.5" r="0.4" fill-opacity="0.6"/><circle cx="305.6" cy="76.9" r="0.4" fill-opacity="0.5"/><circle cx="381.7" cy="66.3" r="0.6" fill-opacity="0.2"/><circle cx="312.1" cy="335.2" r="0.6" fill-opacity="0.4"/><circle cx="276.7" cy="311.5" r="0.8" fill-opacity="0.4"/><circle cx="477.8" cy="339.9" r="0.5" fill-opacity="0.5"/><circle cx="323" cy="345.5" r="0.6" fill-opacity="0.4"/><circle cx="439.3" cy="49.4" r="0.5" fill-opacity="0.2"/><circle cx="393.4" cy="301" r="0.5" fill-opacity="0.2"/><circle cx="303" cy="343.2" r="0.8" fill-opacity="0.4"/><circle cx="379.4" cy="352" r="0.7" fill-opacity="0.3"/><circle cx="431.8" cy="328.7" r="0.5" fill-opacity="0.5"/><circle cx="258.9" cy="351.8" r="0.7" fill-opacity="0.3"/><circle cx="371.9" cy="276.8" r="0.4" fill-opacity="0.4"/><circle cx="318.6" cy="331.2" r="0.5" fill-opacity="0.2"/><circle cx="282.6" cy="297.2" r="0.7" fill-opacity="0.3"/><circle cx="477.9" cy="347.3" r="0.8" fill-opacity="0.5"/><circle cx="435.1" cy="370.5" r="0.6" fill-opacity="0.4"/><circle cx="462.3" cy="383.5" r="0.6" fill-opacity="0.4"/><circle cx="388.4" cy="375.5" r="0.4" fill-opacity="0.2"/><circle cx="489.6" cy="374.3" r="0.7" fill-opacity="0.3"/><circle cx="447.9" cy="327.1" r="0.5" fill-opacity="0.2"/><circle cx="334.7" cy="404.1" r="0.4" fill-opacity="0.2"/><circle cx="371.4" cy="53" r="0.6" fill-opacity="0.2"/><circle cx="498.1" cy="344.7" r="0.9" fill-opacity="0.2"/><circle cx="445.3" cy="371.7" r="0.6" fill-opacity="0.2"/><circle cx="404" cy="238.1" r="0.6" fill-opacity="0.4"/><circle cx="473.1" cy="182.6" r="0.5" fill-opacity="0.2"/><circle cx="463.1" cy="491.1" r="0.5" fill-opacity="0.6"/><circle cx="329.4" cy="78.2" r="0.6" fill-opacity="0.1"/><circle cx="317.1" cy="274.9" r="0.4" fill-opacity="0.2"/><circle cx="335.9" cy="90" r="0.4" fill-opacity="0.5"/><circle cx="461.7" cy="361" r="0.8" fill-opacity="0.2"/><circle cx="479.2" cy="411" r="0.4" fill-opacity="0.4"/><circle cx="290.8" cy="368.4" r="0.5" fill-opacity="0.3"/><circle cx="424.3" cy="346.8" r="0.8" fill-opacity="0.5"/><circle cx="381.2" cy="331.8" r="0.8" fill-opacity="0.4"/><circle cx="323" cy="295.9" r="0.4" fill-opacity="0.4"/><circle cx="468.3" cy="394.2" r="0.6" fill-opacity="0.4"/><circle cx="396.9" cy="268.7" r="0.7" fill-opacity="0.5"/><circle cx="284.3" cy="171.4" r="0.5" fill-opacity="0.4"/><circle cx="442.8" cy="131.1" r="0.4" fill-opacity="0.2"/><circle cx="287.3" cy="362.1" r="0.5" fill-opacity="0.4"/><circle cx="319.7" cy="383.1" r="0.9" fill-opacity="0.4"/><circle cx="389.4" cy="71" r="0.6" fill-opacity="0.6"/><circle cx="290.5" cy="332.4" r="0.9" fill-opacity="0.5"/><circle cx="454" cy="408.6" r="0.5" fill-opacity="0.1"/><circle cx="390.1" cy="85.3" r="0.4" fill-opacity="0.6"/><circle cx="294.1" cy="114" r="0.8" fill-opacity="0.2"/><circle cx="337.4" cy="66.4" r="0.7" fill-opacity="0.4"/><circle cx="442.1" cy="142.2" r="0.5" fill-opacity="0.5"/><circle cx="264.5" cy="271.8" r="0.8" fill-opacity="0.5"/><circle cx="422.5" cy="141.5" r="0.7" fill-opacity="0.5"/><circle cx="343.5" cy="297.2" r="0.9" fill-opacity="0.4"/><circle cx="263.1" cy="310.9" r="0.5" fill-opacity="0.3"/><circle cx="285.7" cy="295.6" r="0.8" fill-opacity="0.3"/><circle cx="415" cy="213.5" r="0.7" fill-opacity="0.3"/><circle cx="394.6" cy="410.4" r="0.9" fill-opacity="0.4"/><circle cx="401.4" cy="137.8" r="0.7" fill-opacity="0.5"/><circle cx="276.9" cy="421.1" r="0.7" fill-opacity="0.4"/><circle cx="273.2" cy="248.8" r="0.8" fill-opacity="0.2"/><circle cx="379.9" cy="430.9" r="0.8" fill-opacity="0.6"/><circle cx="338.9" cy="147.1" r="0.5" fill-opacity="0.3"/><circle cx="488.5" cy="252.6" r="0.4" fill-opacity="0.3"/><circle cx="383.7" cy="60.7" r="0.7" fill-opacity="0.3"/><circle cx="277.6" cy="277.6" r="0.9" fill-opacity="0.1"/><circle cx="490.3" cy="422.4" r="0.6" fill-opacity="0.3"/><circle cx="494.4" cy="388.2" r="0.5" fill-opacity="0.3"/><circle cx="454" cy="402.4" r="0.7" fill-opacity="0.2"/><circle cx="406.2" cy="53.7" r="0.4" fill-opacity="0.3"/><circle cx="364.7" cy="460.2" r="0.8" fill-opacity="0.4"/><circle cx="445.3" cy="118.3" r="0.6" fill-opacity="0.4"/><circle cx="490.4" cy="371.6" r="0.6" fill-opacity="0.3"/><circle cx="285.6" cy="82.1" r="0.4" fill-opacity="0.6"/><circle cx="331.4" cy="447" r="0.7" fill-opacity="0.3"/><circle cx="489.2" cy="300.6" r="0.5" fill-opacity="0.5"/><circle cx="407.8" cy="382.4" r="0.4" fill-opacity="0.3"/><circle cx="269.7" cy="339.8" r="0.5" fill-opacity="0.4"/><circle cx="397.6" cy="281.7" r="0.4" fill-opacity="0.3"/><circle cx="449.7" cy="284.1" r="0.8" fill-opacity="0.2"/><circle cx="354.4" cy="286.1" r="0.8" fill-opacity="0.4"/><circle cx="296.1" cy="470.4" r="0.5" fill-opacity="0.3"/><circle cx="499.3" cy="113.1" r="0.8" fill-opacity="0.3"/><circle cx="482.6" cy="55.1" r="0.5" fill-opacity="0.5"/><circle cx="493.7" cy="436.1" r="0.6" fill-opacity="0.2"/><circle cx="395.9" cy="109.1" r="0.4" fill-opacity="0.6"/><circle cx="494.6" cy="146" r="0.5" fill-opacity="0.4"/><circle cx="289.2" cy="407.6" r="0.8" fill-opacity="0.4"/><circle cx="490" cy="326.5" r="0.9" fill-opacity="0.5"/><circle cx="437.7" cy="334.4" r="0.4" fill-opacity="0.5"/><circle cx="362" cy="264.4" r="0.5" fill-opacity="0.5"/><circle cx="361.4" cy="178.7" r="0.6" fill-opacity="0.4"/><circle cx="430.8" cy="382.5" r="0.8" fill-opacity="0.1"/><circle cx="383.3" cy="424.8" r="0.6" fill-opacity="0.4"/><circle cx="435.3" cy="230.7" r="0.8" fill-opacity="0.3"/><circle cx="321.1" cy="184.5" r="0.7" fill-opacity="0.2"/><circle cx="494.7" cy="289.5" r="0.6" fill-opacity="0.1"/><circle cx="349.5" cy="322.6" r="0.9" fill-opacity="0.4"/><circle cx="367.5" cy="59.9" r="0.5" fill-opacity="0.4"/><circle cx="297.7" cy="280.8" r="0.7" fill-opacity="0.5"/><circle cx="381.9" cy="409.1" r="0.4" fill-opacity="0.4"/><circle cx="364.3" cy="266.1" r="0.6" fill-opacity="0.2"/><circle cx="424.6" cy="349.5" r="0.5" fill-opacity="0.6"/><circle cx="286.6" cy="154.9" r="0.6" fill-opacity="0.3"/><circle cx="420.2" cy="474.6" r="0.4" fill-opacity="0.2"/><circle cx="494.5" cy="249.5" r="0.4" fill-opacity="0.4"/><circle cx="471.5" cy="474.4" r="0.4" fill-opacity="0.6"/><circle cx="425.8" cy="415" r="0.7" fill-opacity="0.1"/><circle cx="407" cy="223.2" r="0.8" fill-opacity="0.6"/><circle cx="359.8" cy="260.1" r="0.7" fill-opacity="0.6"/><circle cx="330.3" cy="497.1" r="0.5" fill-opacity="0.5"/><circle cx="419.9" cy="371.7" r="0.4" fill-opacity="0.5"/><circle cx="441.5" cy="277.2" r="0.8" fill-opacity="0.4"/><circle cx="371.5" cy="280.5" r="0.8" fill-opacity="0.3"/><circle cx="445.5" cy="230.5" r="0.6" fill-opacity="0.4"/><circle cx="499.4" cy="395.9" r="0.8" fill-opacity="0.3"/><circle cx="444" cy="230.5" r="0.7" fill-opacity="0.5"/><circle cx="328.7" cy="374.1" r="0.8" fill-opacity="0.4"/><circle cx="357.9" cy="223.4" r="0.6" fill-opacity="0.5"/><circle cx="392.1" cy="356.8" r="0.8" fill-opacity="0.5"/><circle cx="348.6" cy="287.6" r="0.5" fill-opacity="0.5"/><circle cx="412.3" cy="262.4" r="0.5" fill-opacity="0.1"/><circle cx="342.5" cy="324.4" r="0.6" fill-opacity="0.3"/><circle cx="319.3" cy="404.2" r="0.8" fill-opacity="0.5"/><circle cx="390.1" cy="326.7" r="0.7" fill-opacity="0.6"/><circle cx="316.6" cy="64.1" r="0.5" fill-opacity="0.4"/><circle cx="485.3" cy="129.2" r="0.6" fill-opacity="0.4"/><circle cx="341.7" cy="370.2" r="0.4" fill-opacity="0.4"/><circle cx="432.3" cy="110.8" r="0.7" fill-opacity="0.2"/><circle cx="481.8" cy="380.3" r="0.6" fill-opacity="0.1"/><circle cx="398.1" cy="293.3" r="0.6" fill-opacity="0.3"/><circle cx="361.1" cy="240.6" r="0.5" fill-opacity="0.5"/><circle cx="301" cy="277.1" r="0.7" fill-opacity="0.5"/><circle cx="283.3" cy="281.4" r="0.7" fill-opacity="0.4"/><circle cx="309.2" cy="157.6" r="0.5" fill-opacity="0.5"/><circle cx="488" cy="90.2" r="0.5" fill-opacity="0.5"/><circle cx="328.9" cy="281.9" r="0.7" fill-opacity="0.4"/><circle cx="451.2" cy="395.2" r="0.5" fill-opacity="0.2"/><circle cx="431.5" cy="284.8" r="0.4" fill-opacity="0.4"/><circle cx="444.4" cy="102.9" r="0.7" fill-opacity="0.3"/><circle cx="378.7" cy="309.1" r="0.4" fill-opacity="0.5"/><circle cx="391.3" cy="404.3" r="0.7" fill-opacity="0.6"/><circle cx="268.7" cy="207.3" r="0.7" fill-opacity="0.2"/><circle cx="261.9" cy="112" r="0.6" fill-opacity="0.3"/><circle cx="317.1" cy="90.2" r="0.4" fill-opacity="0.3"/><circle cx="295.8" cy="270.3" r="0.8" fill-opacity="0.5"/><circle cx="373.3" cy="477.3" r="0.7" fill-opacity="0.6"/><circle cx="317.5" cy="61.2" r="0.4" fill-opacity="0.6"/><circle cx="424.3" cy="256" r="0.6" fill-opacity="0.3"/><circle cx="433.4" cy="363.1" r="0.7" fill-opacity="0.5"/><circle cx="302.4" cy="92.1" r="0.6" fill-opacity="0.2"/><circle cx="434.8" cy="253.3" r="0.6" fill-opacity="0.4"/><circle cx="260.7" cy="367.7" r="0.7" fill-opacity="0.5"/><circle cx="438.6" cy="310.1" r="0.5" fill-opacity="0.4"/><circle cx="283.6" cy="357.3" r="0.6" fill-opacity="0.5"/><circle cx="461" cy="407.8" r="0.6" fill-opacity="0.6"/><circle cx="481.9" cy="340.1" r="0.8" fill-opacity="0.1"/><circle cx="283.7" cy="364.9" r="0.8" fill-opacity="0.4"/><circle cx="425.5" cy="86.5" r="0.7" fill-opacity="0.3"/><circle cx="295.8" cy="266.8" r="0.6" fill-opacity="0.2"/><circle cx="281.3" cy="351.5" r="0.5" fill-opacity="0.4"/><circle cx="389.6" cy="344" r="0.6" fill-opacity="0.5"/><circle cx="406.4" cy="164" r="0.8" fill-opacity="0.1"/><circle cx="372.1" cy="294.4" r="0.4" fill-opacity="0.2"/><circle cx="461.3" cy="266.3" r="0.6" fill-opacity="0.1"/><circle cx="303.3" cy="199.7" r="0.5" fill-opacity="0.4"/><circle cx="499.6" cy="320.6" r="0.4" fill-opacity="0.4"/><circle cx="286.9" cy="481.2" r="0.4" fill-opacity="0.6"/><circle cx="354.6" cy="314.7" r="0.4" fill-opacity="0.3"/><circle cx="479.4" cy="130.5" r="0.7" fill-opacity="0.6"/><circle cx="261.2" cy="380.5" r="0.6" fill-opacity="0.5"/><circle cx="278.5" cy="335.6" r="0.8" fill-opacity="0.5"/><circle cx="426.7" cy="318.8" r="0.9" fill-opacity="0.2"/><circle cx="290.5" cy="128.7" r="0.4" fill-opacity="0.4"/><circle cx="388.7" cy="376.7" r="0.5" fill-opacity="0.1"/></g>
<g fill="#fff" filter="url(#b1)"><circle cx="298.6" cy="383" r="0.8" fill-opacity="0.7"/><circle cx="344.3" cy="351.1" r="1.3" fill-opacity="0.8"/><circle cx="467.6" cy="403.8" r="1" fill-opacity="0.9"/><circle cx="425.2" cy="280" r="0.9" fill-opacity="0.7"/><circle cx="442.5" cy="247.8" r="1.3" fill-opacity="0.7"/><circle cx="389.5" cy="303.3" r="1" fill-opacity="0.6"/><circle cx="415.3" cy="309.7" r="1.2" fill-opacity="0.8"/><circle cx="283.3" cy="233.4" r="1.4" fill-opacity="0.5"/><circle cx="436" cy="302.9" r="0.9" fill-opacity="0.4"/><circle cx="355" cy="338" r="0.7" fill-opacity="0.4"/><circle cx="325.3" cy="388.6" r="1.2" fill-opacity="0.5"/><circle cx="349.7" cy="305" r="1.2" fill-opacity="0.5"/><circle cx="339.6" cy="320.7" r="0.9" fill-opacity="0.6"/><circle cx="422" cy="320.8" r="0.7" fill-opacity="0.6"/><circle cx="384.8" cy="271.7" r="1" fill-opacity="0.7"/><circle cx="341.5" cy="262.9" r="1.3" fill-opacity="0.4"/><circle cx="455.3" cy="247.1" r="1.1" fill-opacity="0.7"/><circle cx="351" cy="342.7" r="1.3" fill-opacity="0.6"/><circle cx="277.6" cy="266" r="1.3" fill-opacity="0.7"/><circle cx="423.4" cy="300.1" r="0.9" fill-opacity="0.7"/><circle cx="384.3" cy="394.4" r="0.8" fill-opacity="0.6"/><circle cx="410.2" cy="393.2" r="1" fill-opacity="0.8"/><circle cx="288" cy="345.1" r="0.9" fill-opacity="0.7"/><circle cx="327.4" cy="263.6" r="0.9" fill-opacity="0.8"/><circle cx="414.6" cy="394.3" r="1" fill-opacity="0.4"/><circle cx="434.8" cy="276.1" r="1.2" fill-opacity="0.6"/><circle cx="358.3" cy="235.5" r="0.9" fill-opacity="0.8"/><circle cx="361.5" cy="388.7" r="1.3" fill-opacity="0.7"/><circle cx="471.4" cy="230.4" r="1" fill-opacity="0.7"/><circle cx="276.3" cy="386.8" r="0.8" fill-opacity="0.7"/><circle cx="321.9" cy="298.7" r="1" fill-opacity="0.5"/><circle cx="301" cy="350.1" r="1.1" fill-opacity="0.4"/><circle cx="469.3" cy="249.1" r="0.9" fill-opacity="0.5"/><circle cx="341.5" cy="318.3" r="1.3" fill-opacity="0.5"/><circle cx="385.6" cy="342.4" r="0.9" fill-opacity="0.6"/><circle cx="358.4" cy="389.7" r="1.2" fill-opacity="0.6"/><circle cx="279.5" cy="294.4" r="1.3" fill-opacity="0.6"/><circle cx="347.1" cy="345" r="0.7" fill-opacity="0.7"/><circle cx="409" cy="250.3" r="1" fill-opacity="0.8"/><circle cx="320.1" cy="325.4" r="0.9" fill-opacity="0.7"/><circle cx="347.1" cy="292" r="1.3" fill-opacity="0.7"/><circle cx="474.7" cy="290.3" r="1" fill-opacity="0.6"/><circle cx="447.1" cy="296.1" r="1.2" fill-opacity="0.5"/><circle cx="378.9" cy="278.5" r="1.3" fill-opacity="0.6"/><circle cx="465.1" cy="332" r="0.9" fill-opacity="0.7"/><circle cx="460.5" cy="354.8" r="1.3" fill-opacity="0.7"/><circle cx="394.9" cy="255.2" r="1.3" fill-opacity="0.7"/><circle cx="401.2" cy="284.7" r="1.2" fill-opacity="0.7"/><circle cx="332.3" cy="408.5" r="1.2" fill-opacity="0.7"/><circle cx="441.4" cy="355.3" r="1" fill-opacity="0.9"/><circle cx="455.2" cy="350.8" r="1" fill-opacity="0.7"/><circle cx="274.6" cy="390" r="1.3" fill-opacity="0.7"/><circle cx="362.9" cy="374.7" r="0.7" fill-opacity="0.6"/><circle cx="317.6" cy="339.4" r="0.9" fill-opacity="0.7"/><circle cx="453.5" cy="303.9" r="0.8" fill-opacity="0.4"/><circle cx="440.4" cy="314.3" r="1" fill-opacity="0.4"/><circle cx="286.7" cy="230.1" r="1.3" fill-opacity="0.4"/><circle cx="332.6" cy="315.2" r="1.1" fill-opacity="0.5"/><circle cx="400.6" cy="345.1" r="1.4" fill-opacity="0.4"/><circle cx="327.1" cy="248.5" r="0.9" fill-opacity="0.5"/><circle cx="271.4" cy="375.3" r="0.9" fill-opacity="0.8"/><circle cx="435.9" cy="373.3" r="0.7" fill-opacity="0.7"/><circle cx="443.7" cy="343.8" r="1.1" fill-opacity="0.6"/><circle cx="437.7" cy="326.1" r="0.9" fill-opacity="0.6"/><circle cx="364" cy="263.7" r="1.2" fill-opacity="0.8"/><circle cx="402.3" cy="231.9" r="1" fill-opacity="0.8"/><circle cx="292.5" cy="321" r="1.2" fill-opacity="0.7"/><circle cx="334.4" cy="233.1" r="1.2" fill-opacity="0.5"/><circle cx="391.3" cy="324.4" r="1.2" fill-opacity="0.5"/><circle cx="469.5" cy="364.6" r="1.3" fill-opacity="0.5"/><circle cx="416.3" cy="298.1" r="1.2" fill-opacity="0.7"/><circle cx="350.9" cy="400.6" r="1" fill-opacity="0.6"/><circle cx="415.2" cy="257.3" r="1.3" fill-opacity="0.6"/><circle cx="451.4" cy="256.1" r="0.8" fill-opacity="0.7"/><circle cx="315.5" cy="309.2" r="0.8" fill-opacity="0.8"/><circle cx="419.8" cy="353.5" r="0.8" fill-opacity="0.4"/><circle cx="387.4" cy="244.7" r="1.2" fill-opacity="0.7"/><circle cx="460.8" cy="377.3" r="1.2" fill-opacity="0.8"/><circle cx="371.6" cy="282.3" r="0.7" fill-opacity="0.8"/><circle cx="404.8" cy="343.8" r="1.1" fill-opacity="0.6"/></g>
<g fill="#fff" filter="url(#b1)"><circle cx="483.8" cy="117.8" r="0.8" fill-opacity="0.8"/><circle cx="452.3" cy="211.3" r="1.5" fill-opacity="0.5"/><circle cx="331.1" cy="138.7" r="1.1" fill-opacity="0.5"/><circle cx="457.2" cy="95" r="1.5" fill-opacity="0.4"/><circle cx="356.8" cy="199.4" r="0.9" fill-opacity="0.7"/><circle cx="354.8" cy="123.6" r="1.1" fill-opacity="0.4"/><circle cx="464.6" cy="219.4" r="1.4" fill-opacity="0.4"/><circle cx="305.1" cy="129.2" r="1.3" fill-opacity="0.6"/><circle cx="492.1" cy="227.8" r="1.2" fill-opacity="0.4"/><circle cx="380.3" cy="61.7" r="1" fill-opacity="0.7"/><circle cx="363.2" cy="83.3" r="1.1" fill-opacity="0.7"/><circle cx="429.1" cy="69.8" r="1" fill-opacity="0.4"/><circle cx="462.4" cy="125.3" r="1.1" fill-opacity="0.7"/><circle cx="359.4" cy="130.8" r="1.5" fill-opacity="0.5"/><circle cx="407.9" cy="166.7" r="1" fill-opacity="0.6"/><circle cx="384.3" cy="199.6" r="1.1" fill-opacity="0.7"/><circle cx="414.6" cy="175.5" r="1" fill-opacity="0.4"/><circle cx="372.7" cy="108.6" r="0.7" fill-opacity="0.7"/><circle cx="405" cy="136.4" r="1.3" fill-opacity="0.3"/><circle cx="325.1" cy="179.1" r="0.7" fill-opacity="0.7"/><circle cx="401.6" cy="224.1" r="1.4" fill-opacity="0.5"/><circle cx="368.7" cy="128.1" r="1.3" fill-opacity="0.5"/><circle cx="444" cy="228.4" r="1.3" fill-opacity="0.6"/><circle cx="448.4" cy="138.9" r="1.2" fill-opacity="0.5"/><circle cx="487.1" cy="227.7" r="1.2" fill-opacity="0.6"/><circle cx="320.6" cy="151.8" r="1.4" fill-opacity="0.4"/><circle cx="454.9" cy="95.8" r="1.3" fill-opacity="0.4"/><circle cx="419.1" cy="189.5" r="0.7" fill-opacity="0.7"/><circle cx="404.7" cy="94" r="0.9" fill-opacity="0.6"/><circle cx="448.2" cy="82.1" r="0.8" fill-opacity="0.4"/><circle cx="426.9" cy="122.6" r="1.3" fill-opacity="0.7"/><circle cx="373.6" cy="156.1" r="0.8" fill-opacity="0.6"/><circle cx="429.5" cy="92.6" r="1.2" fill-opacity="0.4"/><circle cx="494.4" cy="148.6" r="1.4" fill-opacity="0.6"/><circle cx="342.9" cy="181.8" r="1.2" fill-opacity="0.5"/><circle cx="438.6" cy="186.8" r="1.2" fill-opacity="0.4"/><circle cx="493.1" cy="213.7" r="1" fill-opacity="0.8"/><circle cx="498.7" cy="112" r="0.9" fill-opacity="0.4"/><circle cx="397.9" cy="76" r="0.9" fill-opacity="0.7"/><circle cx="303.7" cy="160.2" r="1" fill-opacity="0.7"/><circle cx="351.8" cy="136.1" r="0.9" fill-opacity="0.3"/><circle cx="472.9" cy="116" r="0.9" fill-opacity="0.8"/><circle cx="374" cy="147.4" r="0.8" fill-opacity="0.5"/><circle cx="475.1" cy="198.4" r="1.4" fill-opacity="0.8"/><circle cx="346.2" cy="59.4" r="0.8" fill-opacity="0.6"/><circle cx="409.1" cy="116.5" r="1.3" fill-opacity="0.4"/><circle cx="421.6" cy="125.1" r="0.8" fill-opacity="0.7"/><circle cx="336.9" cy="194" r="1.3" fill-opacity="0.5"/><circle cx="390.7" cy="86.9" r="0.8" fill-opacity="0.6"/><circle cx="374.2" cy="151.3" r="1" fill-opacity="0.4"/><circle cx="332.6" cy="187.2" r="1" fill-opacity="0.4"/><circle cx="474.6" cy="77.7" r="0.9" fill-opacity="0.4"/><circle cx="411.9" cy="190" r="0.7" fill-opacity="0.8"/><circle cx="440.5" cy="199.6" r="1" fill-opacity="0.5"/><circle cx="318.8" cy="97.2" r="1.4" fill-opacity="0.4"/><circle cx="480.2" cy="200" r="1.4" fill-opacity="0.4"/><circle cx="384.6" cy="200" r="0.9" fill-opacity="0.4"/><circle cx="304.1" cy="146" r="1.1" fill-opacity="0.4"/><circle cx="351.8" cy="163.9" r="0.8" fill-opacity="0.7"/><circle cx="474.4" cy="125.6" r="0.8" fill-opacity="0.6"/><circle cx="359.1" cy="68.9" r="1.3" fill-opacity="0.6"/><circle cx="354.3" cy="94.5" r="1.3" fill-opacity="0.8"/><circle cx="370.3" cy="155.4" r="0.9" fill-opacity="0.5"/><circle cx="416.1" cy="104.9" r="1.2" fill-opacity="0.6"/><circle cx="308.7" cy="71.4" r="1" fill-opacity="0.4"/><circle cx="409.3" cy="156.8" r="1.2" fill-opacity="0.7"/><circle cx="421.6" cy="188.9" r="0.8" fill-opacity="0.7"/><circle cx="485.9" cy="156.4" r="1.4" fill-opacity="0.6"/><circle cx="386.9" cy="78.9" r="1.1" fill-opacity="0.7"/><circle cx="458.9" cy="210.9" r="1.1" fill-opacity="0.8"/></g>
<g fill="#fff" filter="url(#b2)"><circle cx="320.1" cy="412.1" r="1.3" fill-opacity="0.4"/><circle cx="390.2" cy="435.7" r="1" fill-opacity="0.5"/><circle cx="288.5" cy="503.7" r="1.5" fill-opacity="0.3"/><circle cx="346.2" cy="495" r="1.2" fill-opacity="0.6"/><circle cx="264.9" cy="426.3" r="1.5" fill-opacity="0.5"/><circle cx="360.4" cy="511.6" r="1.2" fill-opacity="0.3"/><circle cx="349" cy="448.7" r="1.3" fill-opacity="0.4"/><circle cx="409.4" cy="441.4" r="1.6" fill-opacity="0.4"/><circle cx="304.7" cy="510.3" r="1.2" fill-opacity="0.4"/><circle cx="288.7" cy="487.1" r="1.6" fill-opacity="0.4"/><circle cx="275.6" cy="475.5" r="1.3" fill-opacity="0.4"/><circle cx="369.7" cy="410.2" r="1" fill-opacity="0.5"/><circle cx="406.9" cy="419.6" r="1.2" fill-opacity="0.4"/><circle cx="400.7" cy="444" r="1.8" fill-opacity="0.3"/></g>
<g fill="#fff" filter="url(#b2)"><circle cx="476.8" cy="73.5" r="2.4" fill-opacity="0.2"/><circle cx="431.8" cy="488.2" r="2" fill-opacity="0.2"/><circle cx="476.4" cy="178.8" r="2.7" fill-opacity="0.2"/><circle cx="307.4" cy="235.5" r="2.7" fill-opacity="0.1"/><circle cx="479.8" cy="255.8" r="2.2" fill-opacity="0.1"/><circle cx="322.2" cy="469.4" r="1.9" fill-opacity="0.2"/><circle cx="451.7" cy="322" r="2" fill-opacity="0.1"/><circle cx="283.9" cy="446.8" r="2.9" fill-opacity="0.2"/><circle cx="323.6" cy="499.4" r="2.2" fill-opacity="0.1"/><circle cx="477.6" cy="442.7" r="2.5" fill-opacity="0.1"/><circle cx="281.2" cy="134.5" r="1.9" fill-opacity="0.1"/><circle cx="394.9" cy="198.3" r="1.8" fill-opacity="0.2"/><circle cx="345.3" cy="47.5" r="1.5" fill-opacity="0.1"/><circle cx="262.3" cy="315.7" r="1.5" fill-opacity="0.1"/><circle cx="406.6" cy="307.3" r="1.8" fill-opacity="0.2"/><circle cx="493.3" cy="439.9" r="2.9" fill-opacity="0.2"/><circle cx="345.1" cy="309" r="2.1" fill-opacity="0.2"/><circle cx="296.2" cy="155.6" r="2.2" fill-opacity="0.1"/><circle cx="497.8" cy="208.6" r="1.5" fill-opacity="0.1"/><circle cx="469.8" cy="92.4" r="2.3" fill-opacity="0.1"/><circle cx="460.6" cy="204.4" r="2.4" fill-opacity="0.2"/><circle cx="493.2" cy="319.4" r="2" fill-opacity="0.1"/><circle cx="433.9" cy="375.2" r="2.5" fill-opacity="0.1"/><circle cx="430.4" cy="216.2" r="1.8" fill-opacity="0.1"/><circle cx="390.6" cy="128.4" r="1.9" fill-opacity="0.1"/><circle cx="346.1" cy="247.6" r="3" fill-opacity="0.1"/><circle cx="389.5" cy="239.8" r="2.3" fill-opacity="0.2"/><circle cx="383" cy="294" r="2" fill-opacity="0.1"/><circle cx="307.2" cy="89.2" r="1.9" fill-opacity="0.1"/><circle cx="356.8" cy="323.3" r="1.7" fill-opacity="0.2"/></g>
<path d="M380.1,190 C379.5,189.4 377.8,187.5 376.7,186.3 C375.5,185.1 374.3,184.1 373.3,182.7 C372.2,181.3 371.3,179.3 370.3,177.9 C369.2,176.5 367.8,175.5 366.7,174.2 C365.6,173 364.8,171.9 363.6,170.6 C362.4,169.2 360.6,167.6 359.5,166.2 C358.4,164.9 358.3,163.6 357.2,162.5 C356.1,161.5 354.2,161 352.8,159.8 C351.5,158.6 350.4,156.7 349.2,155.3 C347.9,153.9 346.7,152.6 345.4,151.3 C344.1,150 343.3,148.9 341.6,147.4 C339.9,145.8 337.2,143.5 335.1,141.8 C333.1,140.2 331,138.7 329.2,137.4 C327.4,136.1 326,135.5 324.5,134.2 C322.9,133 320.7,130.7 320,130" fill="none" stroke="#fff" stroke-width="0.7" stroke-opacity="0.3" stroke-linecap="round" stroke-linejoin="round" filter="url(#b1)"/>
<g fill="#fff" filter="url(#b1)"><circle cx="379.5" cy="190.1" r="0.9" fill-opacity="0.5"/><circle cx="379.3" cy="189.4" r="0.9" fill-opacity="0.3"/><circle cx="378.8" cy="187.5" r="0.7" fill-opacity="0.5"/><circle cx="374.4" cy="183.6" r="0.8" fill-opacity="0.6"/><circle cx="375.6" cy="184.7" r="0.9" fill-opacity="0.6"/><circle cx="375" cy="184.8" r="0.9" fill-opacity="0.7"/><circle cx="372.3" cy="180.7" r="0.9" fill-opacity="0.4"/><circle cx="372.6" cy="181.7" r="0.8" fill-opacity="0.4"/><circle cx="371.9" cy="179.9" r="0.9" fill-opacity="0.6"/><circle cx="368.8" cy="176.9" r="1" fill-opacity="0.5"/><circle cx="368.3" cy="175.2" r="0.6" fill-opacity="0.5"/><circle cx="364.5" cy="171.3" r="0.6" fill-opacity="0.6"/><circle cx="364.2" cy="170.9" r="0.7" fill-opacity="0.6"/><circle cx="364.2" cy="171.9" r="0.8" fill-opacity="0.3"/><circle cx="360.2" cy="166.2" r="0.7" fill-opacity="0.5"/><circle cx="361.1" cy="169" r="0.9" fill-opacity="0.4"/><circle cx="363.6" cy="170.9" r="1" fill-opacity="0.6"/><circle cx="357.5" cy="163.6" r="0.9" fill-opacity="0.5"/><circle cx="358.5" cy="165.9" r="1" fill-opacity="0.4"/><circle cx="358.9" cy="164.1" r="0.9" fill-opacity="0.4"/><circle cx="354.2" cy="160.2" r="0.9" fill-opacity="0.4"/><circle cx="356.2" cy="162.1" r="1.1" fill-opacity="0.7"/><circle cx="355.3" cy="161.7" r="0.8" fill-opacity="0.7"/><circle cx="351.6" cy="158.8" r="0.6" fill-opacity="0.4"/><circle cx="351.6" cy="159.4" r="1.1" fill-opacity="0.6"/><circle cx="351.3" cy="157.8" r="0.8" fill-opacity="0.5"/><circle cx="348.1" cy="154.1" r="0.9" fill-opacity="0.4"/><circle cx="348.7" cy="154.7" r="1.1" fill-opacity="0.6"/><circle cx="343.9" cy="149.7" r="0.7" fill-opacity="0.5"/><circle cx="342.6" cy="148.7" r="1" fill-opacity="0.6"/><circle cx="337.9" cy="144" r="0.6" fill-opacity="0.6"/><circle cx="336.5" cy="143.4" r="1" fill-opacity="0.6"/><circle cx="336.9" cy="142.3" r="1.1" fill-opacity="0.5"/><circle cx="336.9" cy="142.6" r="0.9" fill-opacity="0.3"/><circle cx="333" cy="140.1" r="1" fill-opacity="0.6"/><circle cx="333.7" cy="140.1" r="1" fill-opacity="0.5"/><circle cx="330.7" cy="139" r="1" fill-opacity="0.5"/><circle cx="331.7" cy="139" r="0.7" fill-opacity="0.6"/><circle cx="324.9" cy="134.3" r="0.8" fill-opacity="0.6"/><circle cx="326.7" cy="135.6" r="0.8" fill-opacity="0.4"/><circle cx="329.3" cy="137.2" r="0.8" fill-opacity="0.3"/><circle cx="320.2" cy="130.7" r="1" fill-opacity="0.6"/><circle cx="321.5" cy="131.9" r="0.9" fill-opacity="0.7"/><circle cx="322" cy="132.5" r="0.9" fill-opacity="0.4"/></g>
<path d="M359.9,166.9 C361,166.3 364.5,164.4 366.6,163.5 C368.7,162.6 370.6,162.3 372.5,161.6 C374.3,161 376,160.4 377.6,159.6 C379.3,158.9 380.6,157.9 382.1,157.3 C383.6,156.6 385.2,156.6 386.9,155.8 C388.6,155 390.6,153.5 392.2,152.4 C393.9,151.2 395.2,150.1 396.7,149.2 C398.2,148.3 399.8,148.2 401.3,147 C402.8,145.7 404.3,143.3 405.8,141.8 C407.3,140.4 408.4,139.2 410.2,138 C412.1,136.9 414.9,135.9 416.8,135 C418.8,134.2 419.9,133.7 421.8,133 C423.6,132.3 426,131.4 428,130.8 C429.9,130.1 431.5,129.3 433.3,129 C435,128.8 436.8,129.3 438.7,129.4 C440.7,129.4 444,129.4 445,129.4" fill="none" stroke="#fff" stroke-width="0.7" stroke-opacity="0.3" stroke-linecap="round" stroke-linejoin="round" filter="url(#b1)"/>
<g fill="#fff" filter="url(#b1)"><circle cx="360.6" cy="166.1" r="0.9" fill-opacity="0.4"/><circle cx="364.7" cy="164.5" r="0.8" fill-opacity="0.3"/><circle cx="361.5" cy="166.6" r="0.6" fill-opacity="0.7"/><circle cx="365.9" cy="163.9" r="1" fill-opacity="0.4"/><circle cx="370.8" cy="162.1" r="0.9" fill-opacity="0.3"/><circle cx="369.1" cy="162.2" r="0.9" fill-opacity="0.6"/><circle cx="369.7" cy="162.7" r="0.8" fill-opacity="0.7"/><circle cx="372.6" cy="161.9" r="0.8" fill-opacity="0.5"/><circle cx="373.9" cy="161.3" r="1.1" fill-opacity="0.4"/><circle cx="379.3" cy="158.8" r="0.9" fill-opacity="0.7"/><circle cx="382.2" cy="157.2" r="0.6" fill-opacity="0.6"/><circle cx="378.4" cy="159" r="1" fill-opacity="0.3"/><circle cx="386.3" cy="156" r="1.1" fill-opacity="0.6"/><circle cx="383.4" cy="156.8" r="0.8" fill-opacity="0.4"/><circle cx="388.3" cy="154.4" r="1.1" fill-opacity="0.5"/><circle cx="390.3" cy="154.1" r="0.6" fill-opacity="0.7"/><circle cx="392.3" cy="152.4" r="1" fill-opacity="0.6"/><circle cx="394.2" cy="151.2" r="1.1" fill-opacity="0.6"/><circle cx="396.6" cy="149.5" r="1.1" fill-opacity="0.3"/><circle cx="397.1" cy="148.9" r="0.6" fill-opacity="0.6"/><circle cx="400" cy="147.1" r="1" fill-opacity="0.5"/><circle cx="396.6" cy="149.7" r="0.7" fill-opacity="0.4"/><circle cx="405.6" cy="142.3" r="0.9" fill-opacity="0.3"/><circle cx="401.4" cy="146.8" r="0.6" fill-opacity="0.3"/><circle cx="404.8" cy="142.1" r="0.6" fill-opacity="0.3"/><circle cx="408.6" cy="139.4" r="0.9" fill-opacity="0.4"/><circle cx="407.9" cy="139.8" r="0.6" fill-opacity="0.7"/><circle cx="406.8" cy="140.7" r="0.8" fill-opacity="0.4"/><circle cx="415.8" cy="136.3" r="0.8" fill-opacity="0.5"/><circle cx="412.3" cy="137" r="1.1" fill-opacity="0.3"/><circle cx="415" cy="135.9" r="0.7" fill-opacity="0.6"/><circle cx="413.3" cy="136.5" r="0.6" fill-opacity="0.3"/><circle cx="417.1" cy="135.1" r="0.6" fill-opacity="0.7"/><circle cx="418.4" cy="134.5" r="0.9" fill-opacity="0.5"/><circle cx="417.3" cy="135.2" r="1" fill-opacity="0.6"/><circle cx="422.4" cy="132.7" r="0.6" fill-opacity="0.6"/><circle cx="422.5" cy="132.5" r="0.6" fill-opacity="0.7"/><circle cx="425.9" cy="131.7" r="0.9" fill-opacity="0.6"/><circle cx="429.6" cy="130.2" r="0.8" fill-opacity="0.7"/><circle cx="428.9" cy="130.9" r="1" fill-opacity="0.5"/><circle cx="436.8" cy="129.5" r="0.7" fill-opacity="0.6"/><circle cx="434.2" cy="129.5" r="0.6" fill-opacity="0.4"/><circle cx="438.6" cy="129.1" r="1" fill-opacity="0.5"/><circle cx="442.9" cy="129" r="1.1" fill-opacity="0.6"/><circle cx="440.2" cy="129.6" r="0.8" fill-opacity="0.4"/><circle cx="442.6" cy="128.9" r="0.7" fill-opacity="0.5"/></g>
<path d="M349.8,126.5 C350.7,126.1 353.8,125.2 355.3,124.3 C356.8,123.4 357.3,122.1 358.7,121 C360.1,119.8 362.1,118.5 363.7,117.5 C365.3,116.5 366.7,115.8 368.5,115 C370.3,114.2 372.8,113.6 374.5,112.8 C376.1,111.9 376.9,110.9 378.4,109.8 C379.9,108.6 382,106.8 383.7,105.7 C385.4,104.6 387.1,104.1 388.8,103.1 C390.5,102.2 391.8,100.7 393.8,100.1 C395.8,99.4 398.6,99.6 400.9,99.2 C403.2,98.7 405.2,97.7 407.5,97.3 C409.8,96.8 412.3,97 414.7,96.6 C417.1,96.2 420.7,95.1 421.9,94.8" fill="none" stroke="#fff" stroke-width="0.7" stroke-opacity="0.3" stroke-linecap="round" stroke-linejoin="round" filter="url(#b1)"/>
<g fill="#fff" filter="url(#b1)"><circle cx="355.2" cy="124.9" r="0.6" fill-opacity="0.6"/><circle cx="353.5" cy="125" r="0.8" fill-opacity="0.6"/><circle cx="351" cy="126.4" r="0.9" fill-opacity="0.5"/><circle cx="357.8" cy="121.4" r="0.8" fill-opacity="0.4"/><circle cx="358.5" cy="122.1" r="1" fill-opacity="0.4"/><circle cx="363.1" cy="117.3" r="0.6" fill-opacity="0.4"/><circle cx="360.2" cy="119.5" r="1.1" fill-opacity="0.5"/><circle cx="359.1" cy="120.4" r="0.8" fill-opacity="0.5"/><circle cx="365.4" cy="116.1" r="0.9" fill-opacity="0.6"/><circle cx="366.1" cy="116.2" r="0.6" fill-opacity="0.4"/><circle cx="371.3" cy="113.5" r="0.6" fill-opacity="0.7"/><circle cx="369.6" cy="115" r="0.8" fill-opacity="0.5"/><circle cx="370.9" cy="114.5" r="0.6" fill-opacity="0.6"/><circle cx="376" cy="111.3" r="0.9" fill-opacity="0.6"/><circle cx="375.2" cy="111.7" r="1.1" fill-opacity="0.5"/><circle cx="382.6" cy="107.2" r="1.1" fill-opacity="0.6"/><circle cx="382.2" cy="106.2" r="1" fill-opacity="0.5"/><circle cx="383.3" cy="106.1" r="0.7" fill-opacity="0.6"/><circle cx="386" cy="104.3" r="0.9" fill-opacity="0.6"/><circle cx="386.3" cy="104.6" r="1" fill-opacity="0.7"/><circle cx="392.5" cy="101.5" r="0.9" fill-opacity="0.3"/><circle cx="389.2" cy="103.5" r="0.8" fill-opacity="0.4"/><circle cx="391.4" cy="102.1" r="0.6" fill-opacity="0.4"/><circle cx="398.8" cy="99.9" r="0.8" fill-opacity="0.4"/><circle cx="396.3" cy="100.2" r="0.6" fill-opacity="0.5"/><circle cx="395.9" cy="99.4" r="1.1" fill-opacity="0.6"/><circle cx="407.2" cy="97.9" r="1" fill-opacity="0.5"/><circle cx="404.5" cy="98.3" r="1.1" fill-opacity="0.4"/><circle cx="407.2" cy="97.4" r="1.1" fill-opacity="0.4"/><circle cx="412.2" cy="96.6" r="1.1" fill-opacity="0.6"/><circle cx="413.9" cy="96.9" r="1.1" fill-opacity="0.7"/><circle cx="412.9" cy="97" r="0.9" fill-opacity="0.4"/><circle cx="422.3" cy="94.3" r="0.7" fill-opacity="0.4"/><circle cx="420.4" cy="95.4" r="0.7" fill-opacity="0.4"/><circle cx="421.3" cy="94.9" r="0.7" fill-opacity="0.6"/><circle cx="415.4" cy="96.2" r="1.1" fill-opacity="0.4"/></g>
<path d="M453.6,80.4 C453.5,81.5 453.2,84.6 453.1,87 C453,89.5 453,92.4 452.7,95 C452.4,97.5 451.9,99.9 451.2,102.3 C450.6,104.7 449.2,107.2 448.8,109.5 C448.3,111.8 448.5,113.7 448.5,116 C448.4,118.4 448.7,121.4 448.4,123.8 C448,126.2 446.8,128 446.3,130.3 C445.7,132.6 445.7,135.4 445.2,137.6 C444.7,139.7 443.8,141.3 443.3,143.3 C442.7,145.4 442.2,147.8 441.7,149.9 C441.3,152 440.8,154.1 440.4,156 C440,157.9 439.7,159.7 439.5,161.5 C439.2,163.4 439.3,165.3 439,167.1 C438.8,168.9 438.2,170.3 437.9,172.3 C437.6,174.2 437.6,177 437.2,179 C436.9,180.9 436.4,182.1 435.9,183.9 C435.4,185.6 434.6,187.8 434.4,189.7 C434.2,191.7 435.1,193.6 435,195.5 C434.8,197.5 434,199.5 433.6,201.6 C433.3,203.6 432.7,205.8 432.8,207.6 C433,209.5 434.4,210.9 434.7,212.8 C435,214.8 434.4,217.3 434.8,219.3 C435.1,221.3 436.4,223.1 436.7,224.9 C437,226.7 436.3,228.7 436.5,230.2 C436.6,231.8 437.2,232.6 437.5,234.2 C437.7,235.8 437.7,239 437.8,239.9" fill="none" stroke="#fff" stroke-width="0.8" stroke-opacity="0.5" stroke-linecap="round" stroke-linejoin="round" filter="url(#b1)"/>
<g fill="#fff" filter="url(#b1)"><circle cx="452.9" cy="85.5" r="0.9" fill-opacity="0.8"/><circle cx="453.2" cy="80.9" r="0.5" fill-opacity="0.6"/><circle cx="453.7" cy="80.4" r="1" fill-opacity="0.7"/><circle cx="453.3" cy="93.9" r="0.7" fill-opacity="0.8"/><circle cx="453.5" cy="89.5" r="0.9" fill-opacity="0.6"/><circle cx="452.6" cy="92.7" r="0.9" fill-opacity="0.8"/><circle cx="452.1" cy="96.6" r="0.9" fill-opacity="0.8"/><circle cx="451.2" cy="100.9" r="0.5" fill-opacity="0.6"/><circle cx="451" cy="103.8" r="0.8" fill-opacity="0.8"/><circle cx="450.9" cy="103.8" r="0.5" fill-opacity="0.5"/><circle cx="450" cy="107.2" r="1" fill-opacity="0.8"/><circle cx="448.6" cy="115" r="0.6" fill-opacity="0.6"/><circle cx="448.3" cy="109.9" r="0.7" fill-opacity="0.7"/><circle cx="448.2" cy="115.4" r="1" fill-opacity="0.6"/><circle cx="447.9" cy="117.2" r="0.6" fill-opacity="0.5"/><circle cx="448.8" cy="116.7" r="1" fill-opacity="0.5"/><circle cx="448.9" cy="116.1" r="0.7" fill-opacity="0.8"/><circle cx="447.3" cy="125.5" r="0.9" fill-opacity="0.9"/><circle cx="448" cy="124.1" r="0.7" fill-opacity="0.7"/><circle cx="445.5" cy="132.1" r="1" fill-opacity="0.6"/><circle cx="446.1" cy="134.3" r="0.7" fill-opacity="0.9"/><circle cx="446" cy="135.7" r="0.8" fill-opacity="0.7"/><circle cx="444" cy="141.2" r="1" fill-opacity="0.6"/><circle cx="444.5" cy="138" r="0.6" fill-opacity="0.9"/><circle cx="442" cy="148.6" r="0.6" fill-opacity="0.9"/><circle cx="442.5" cy="146.4" r="1" fill-opacity="0.9"/><circle cx="441.6" cy="152.4" r="0.6" fill-opacity="0.7"/><circle cx="441" cy="152.1" r="0.7" fill-opacity="0.8"/><circle cx="440.6" cy="156.9" r="0.9" fill-opacity="0.7"/><circle cx="440.3" cy="157.3" r="1" fill-opacity="0.7"/><circle cx="438.9" cy="162.9" r="0.5" fill-opacity="0.6"/><circle cx="439.5" cy="164" r="1" fill-opacity="0.9"/><circle cx="438.3" cy="168.2" r="0.6" fill-opacity="0.9"/><circle cx="438.4" cy="169.5" r="1" fill-opacity="0.6"/><circle cx="437.5" cy="173.2" r="0.8" fill-opacity="0.6"/><circle cx="437.8" cy="175.8" r="0.6" fill-opacity="0.7"/><circle cx="437.6" cy="174.8" r="0.6" fill-opacity="0.5"/><circle cx="436.6" cy="182.2" r="0.8" fill-opacity="0.6"/><circle cx="436.1" cy="183.4" r="0.7" fill-opacity="0.7"/><circle cx="435.7" cy="185.8" r="0.9" fill-opacity="0.6"/><circle cx="435.3" cy="185.1" r="0.9" fill-opacity="0.7"/><circle cx="434.2" cy="189.3" r="0.8" fill-opacity="0.8"/><circle cx="435" cy="191.4" r="0.9" fill-opacity="0.7"/><circle cx="435.4" cy="194.1" r="1.1" fill-opacity="0.6"/><circle cx="434.2" cy="201.3" r="0.8" fill-opacity="0.7"/><circle cx="433.3" cy="200.8" r="0.6" fill-opacity="0.6"/><circle cx="433.3" cy="203.3" r="0.7" fill-opacity="0.7"/><circle cx="433.6" cy="202.4" r="0.9" fill-opacity="0.9"/><circle cx="433.2" cy="209.7" r="0.8" fill-opacity="0.8"/><circle cx="433" cy="209.7" r="0.8" fill-opacity="0.7"/><circle cx="434.8" cy="216.7" r="1" fill-opacity="0.5"/><circle cx="434.5" cy="218.1" r="0.7" fill-opacity="0.8"/><circle cx="434.9" cy="219.3" r="0.5" fill-opacity="0.5"/><circle cx="435.4" cy="220.8" r="0.6" fill-opacity="0.9"/><circle cx="436.5" cy="230.7" r="0.9" fill-opacity="0.7"/><circle cx="436.2" cy="225.5" r="0.9" fill-opacity="0.6"/><circle cx="437.6" cy="232.5" r="1.1" fill-opacity="0.7"/><circle cx="437.8" cy="235.8" r="0.6" fill-opacity="0.6"/><circle cx="437.2" cy="234.7" r="0.8" fill-opacity="0.6"/></g>
<path d="M449.3,109.2 C450.2,108.8 453.1,107.6 454.8,106.9 C456.5,106.3 457.9,106 459.6,105.3 C461.2,104.6 463.1,103.6 464.7,102.9 C466.4,102.1 467.7,101.5 469.4,100.9 C471.1,100.2 473.4,99.4 475,99 C476.7,98.6 477.8,99 479.6,98.2 C481.3,97.5 483.6,95.6 485.5,94.5 C487.4,93.5 490.2,92.3 491.1,91.9" fill="none" stroke="#fff" stroke-width="0.7" stroke-opacity="0.3" stroke-linecap="round" stroke-linejoin="round" filter="url(#b1)"/>
<g fill="#fff" filter="url(#b1)"><circle cx="451.4" cy="107.7" r="0.6" fill-opacity="0.4"/><circle cx="450.2" cy="108.3" r="0.9" fill-opacity="0.4"/><circle cx="452.4" cy="108" r="1" fill-opacity="0.6"/><circle cx="455.3" cy="106.8" r="0.8" fill-opacity="0.4"/><circle cx="454.8" cy="107.3" r="0.8" fill-opacity="0.6"/><circle cx="460.5" cy="105.2" r="0.7" fill-opacity="0.5"/><circle cx="464.4" cy="102.9" r="1.1" fill-opacity="0.6"/><circle cx="464.6" cy="102.7" r="0.6" fill-opacity="0.3"/><circle cx="467.7" cy="102.3" r="0.7" fill-opacity="0.7"/><circle cx="465.6" cy="102.1" r="1.1" fill-opacity="0.7"/><circle cx="466.4" cy="102.6" r="1" fill-opacity="0.7"/><circle cx="470.7" cy="101" r="0.9" fill-opacity="0.6"/><circle cx="470.5" cy="101" r="0.9" fill-opacity="0.6"/><circle cx="473.9" cy="99.6" r="1" fill-opacity="0.5"/><circle cx="479.2" cy="99" r="0.8" fill-opacity="0.6"/><circle cx="478" cy="98.3" r="0.8" fill-opacity="0.4"/><circle cx="483.2" cy="95.1" r="0.6" fill-opacity="0.5"/><circle cx="484" cy="94.9" r="0.9" fill-opacity="0.5"/><circle cx="481.9" cy="96.5" r="0.7" fill-opacity="0.6"/><circle cx="482.1" cy="96.9" r="0.7" fill-opacity="0.4"/><circle cx="490.8" cy="91.8" r="0.7" fill-opacity="0.3"/><circle cx="486.4" cy="94.3" r="1.1" fill-opacity="0.5"/><circle cx="486.2" cy="93.7" r="0.7" fill-opacity="0.5"/></g>
<path d="M436.3,60.2 C435.3,60.4 432.4,61.3 430,61.5 C427.6,61.8 423.3,61.6 421.9,61.6" fill="none" stroke="#fff" stroke-width="0.7" stroke-opacity="0.3" stroke-linecap="round" stroke-linejoin="round" filter="url(#b1)"/>
<g fill="#fff" filter="url(#b1)"><circle cx="430.8" cy="61.5" r="0.7" fill-opacity="0.4"/><circle cx="430.9" cy="61.4" r="1.1" fill-opacity="0.6"/><circle cx="435.4" cy="60.6" r="0.7" fill-opacity="0.5"/><circle cx="424.3" cy="61.8" r="1.1" fill-opacity="0.5"/><circle cx="427" cy="62" r="1" fill-opacity="0.7"/><circle cx="424.2" cy="61.3" r="1" fill-opacity="0.4"/><circle cx="428.9" cy="62.1" r="0.7" fill-opacity="0.4"/></g>
<path d="M436.3,60.2 C437,61.6 438.8,66.3 440.5,68.6 C442.2,70.8 444.1,71.9 446.3,73.8 C448.5,75.8 452.4,79.3 453.6,80.4" fill="none" stroke="#fff" stroke-width="0.6" stroke-opacity="0.3" stroke-linecap="round" stroke-linejoin="round" filter="url(#b1)"/>
<g fill="#fff" filter="url(#b1)"><circle cx="436" cy="60.2" r="0.7" fill-opacity="0.4"/><circle cx="439.9" cy="67.8" r="0.7" fill-opacity="0.4"/><circle cx="437.2" cy="63" r="1" fill-opacity="0.7"/><circle cx="441" cy="69.5" r="0.6" fill-opacity="0.3"/><circle cx="441.2" cy="69.9" r="0.9" fill-opacity="0.7"/><circle cx="441" cy="69.2" r="0.6" fill-opacity="0.3"/><circle cx="451.6" cy="78.6" r="0.8" fill-opacity="0.4"/><circle cx="449.1" cy="76.2" r="0.7" fill-opacity="0.5"/><circle cx="451.9" cy="79.2" r="0.5" fill-opacity="0.5"/></g>
<path d="M269,371.7 C269.7,371.1 271.6,369.3 273.3,368.3 C274.9,367.3 277.4,366.6 279.1,365.6 C280.8,364.6 282,363.4 283.4,362.3 C284.8,361.3 285.8,360.3 287.5,359.3 C289.2,358.2 291.8,356.8 293.6,355.9 C295.5,355 297,354.4 298.5,353.7 C300,353 301,352.5 302.7,351.7 C304.4,350.8 306.9,349.3 308.6,348.5 C310.3,347.6 311.2,347.3 312.8,346.4 C314.3,345.5 316,344.4 317.8,343.2 C319.7,342.1 322.3,340.5 324,339.4 C325.7,338.3 326.8,337.4 328.3,336.5 C329.8,335.6 331.3,334.9 333,333.9 C334.7,332.9 337.6,331.1 338.5,330.6" fill="none" stroke="#fff" stroke-width="0.8" stroke-opacity="0.4" stroke-linecap="round" stroke-linejoin="round" filter="url(#b1)"/>
<g fill="#fff" filter="url(#b1)"><circle cx="271.1" cy="370.3" r="1.2" fill-opacity="0.8"/><circle cx="270" cy="371.1" r="1" fill-opacity="0.7"/><circle cx="270" cy="370.7" r="0.6" fill-opacity="0.4"/><circle cx="270.4" cy="370.7" r="1.2" fill-opacity="0.6"/><circle cx="275.5" cy="366.9" r="0.6" fill-opacity="0.5"/><circle cx="277.8" cy="366.5" r="0.9" fill-opacity="0.5"/><circle cx="274.1" cy="368.4" r="1" fill-opacity="0.5"/><circle cx="276.4" cy="366.6" r="0.8" fill-opacity="0.6"/><circle cx="282.7" cy="362.6" r="0.7" fill-opacity="0.8"/><circle cx="279.7" cy="364.5" r="0.9" fill-opacity="0.6"/><circle cx="278.8" cy="365.5" r="0.9" fill-opacity="0.5"/><circle cx="279.1" cy="365.2" r="0.6" fill-opacity="0.6"/><circle cx="285.8" cy="360.1" r="0.9" fill-opacity="0.6"/><circle cx="287.3" cy="360" r="1" fill-opacity="0.5"/><circle cx="287" cy="359.8" r="1.2" fill-opacity="0.4"/><circle cx="289.7" cy="358.4" r="0.7" fill-opacity="0.6"/><circle cx="287" cy="359.8" r="0.7" fill-opacity="0.6"/><circle cx="288.7" cy="358.9" r="1.1" fill-opacity="0.5"/><circle cx="290" cy="357.8" r="1" fill-opacity="0.6"/><circle cx="290.8" cy="357.8" r="0.6" fill-opacity="0.4"/><circle cx="298.8" cy="353.5" r="1.2" fill-opacity="0.6"/><circle cx="296.6" cy="354.8" r="1.2" fill-opacity="0.7"/><circle cx="295.6" cy="355" r="1" fill-opacity="0.4"/><circle cx="300.3" cy="353.3" r="0.8" fill-opacity="0.8"/><circle cx="299.3" cy="353.7" r="0.6" fill-opacity="0.6"/><circle cx="299.6" cy="353" r="1" fill-opacity="0.6"/><circle cx="308.3" cy="348.8" r="0.7" fill-opacity="0.4"/><circle cx="304" cy="350.3" r="0.9" fill-opacity="0.5"/><circle cx="306.8" cy="348.9" r="0.9" fill-opacity="0.7"/><circle cx="304.2" cy="350.2" r="0.8" fill-opacity="0.5"/><circle cx="309.4" cy="348.3" r="0.7" fill-opacity="0.4"/><circle cx="313.2" cy="346.2" r="0.7" fill-opacity="0.6"/><circle cx="309.8" cy="348.5" r="1" fill-opacity="0.5"/><circle cx="317.1" cy="343.7" r="0.7" fill-opacity="0.8"/><circle cx="316.7" cy="344.2" r="0.8" fill-opacity="0.4"/><circle cx="314.9" cy="344.7" r="1.1" fill-opacity="0.6"/><circle cx="313.8" cy="345.6" r="0.9" fill-opacity="0.7"/><circle cx="320.7" cy="341.3" r="0.7" fill-opacity="0.5"/><circle cx="320.8" cy="341" r="0.9" fill-opacity="0.8"/><circle cx="320.6" cy="340.8" r="0.9" fill-opacity="0.5"/><circle cx="318.5" cy="342.9" r="0.8" fill-opacity="0.7"/><circle cx="323.7" cy="339.3" r="1" fill-opacity="0.6"/><circle cx="324.8" cy="339" r="0.8" fill-opacity="0.6"/><circle cx="325.1" cy="338.7" r="0.6" fill-opacity="0.7"/><circle cx="333.4" cy="334.2" r="0.9" fill-opacity="0.5"/><circle cx="331.5" cy="334.4" r="0.6" fill-opacity="0.6"/><circle cx="331.9" cy="334.2" r="0.7" fill-opacity="0.6"/><circle cx="329.4" cy="336.7" r="1" fill-opacity="0.5"/><circle cx="337" cy="331.5" r="1" fill-opacity="0.7"/><circle cx="337.5" cy="331.4" r="1.2" fill-opacity="0.6"/><circle cx="336.6" cy="331.1" r="0.9" fill-opacity="0.5"/><circle cx="338" cy="331.2" r="0.8" fill-opacity="0.5"/></g>
<path d="M310,283.2 C310.8,282.8 313.2,281.3 314.9,280.6 C316.6,279.8 318.7,279.4 320.2,278.6 C321.7,277.8 322.3,276.6 323.7,275.8 C325.1,275 326.9,274.7 328.5,273.7 C330,272.6 331.5,270.8 333,269.5 C334.4,268.2 335.8,267 337.1,265.7 C338.5,264.5 340.1,263.3 341.3,262.1 C342.5,260.9 343.5,259.9 344.5,258.4 C345.5,256.8 346.3,254.4 347.3,252.8 C348.3,251.3 349.3,250.5 350.4,249.1 C351.6,247.6 353,246 354.3,244.2 C355.6,242.4 356.9,240.3 358.1,238.4 C359.2,236.6 360.1,234.7 361.1,233.1 C362.1,231.5 363.1,230.5 364,228.9 C365,227.2 366.4,224.1 366.9,223.2" fill="none" stroke="#fff" stroke-width="0.8" stroke-opacity="0.4" stroke-linecap="round" stroke-linejoin="round" filter="url(#b1)"/>
<g fill="#fff" filter="url(#b1)"><circle cx="314.6" cy="280.9" r="0.7" fill-opacity="0.4"/><circle cx="310.4" cy="283" r="0.7" fill-opacity="0.6"/><circle cx="310.1" cy="283.2" r="0.7" fill-opacity="0.6"/><circle cx="319.2" cy="279.4" r="1.2" fill-opacity="0.8"/><circle cx="316.6" cy="279.5" r="1.2" fill-opacity="0.7"/><circle cx="314.6" cy="280" r="0.8" fill-opacity="0.8"/><circle cx="321.7" cy="277.1" r="0.9" fill-opacity="0.5"/><circle cx="321" cy="278.6" r="1.2" fill-opacity="0.6"/><circle cx="321.9" cy="276.8" r="1.2" fill-opacity="0.6"/><circle cx="325.7" cy="274.2" r="0.7" fill-opacity="0.5"/><circle cx="323.6" cy="275.9" r="1.2" fill-opacity="0.7"/><circle cx="327.3" cy="274.5" r="0.8" fill-opacity="0.7"/><circle cx="329.8" cy="272.1" r="0.7" fill-opacity="0.7"/><circle cx="332.6" cy="270.6" r="0.8" fill-opacity="0.6"/><circle cx="331.2" cy="271.7" r="0.9" fill-opacity="0.8"/><circle cx="334.3" cy="267.6" r="0.9" fill-opacity="0.4"/><circle cx="334.4" cy="267.6" r="1.2" fill-opacity="0.7"/><circle cx="333.6" cy="269" r="0.6" fill-opacity="0.5"/><circle cx="339" cy="263.7" r="1" fill-opacity="0.6"/><circle cx="338" cy="265.6" r="1.2" fill-opacity="0.6"/><circle cx="339.6" cy="263.8" r="1" fill-opacity="0.5"/><circle cx="343.7" cy="259.5" r="0.8" fill-opacity="0.5"/><circle cx="343.3" cy="259.6" r="0.8" fill-opacity="0.5"/><circle cx="343.7" cy="259.4" r="1" fill-opacity="0.6"/><circle cx="346.2" cy="254.1" r="0.8" fill-opacity="0.6"/><circle cx="346.8" cy="255.1" r="1" fill-opacity="0.5"/><circle cx="346.3" cy="254.4" r="0.9" fill-opacity="0.6"/><circle cx="346.5" cy="255.1" r="0.6" fill-opacity="0.4"/><circle cx="347.7" cy="252.6" r="0.9" fill-opacity="0.5"/><circle cx="348.1" cy="251.1" r="0.6" fill-opacity="0.8"/><circle cx="349.4" cy="249.6" r="1.2" fill-opacity="0.7"/><circle cx="353.9" cy="245.4" r="0.9" fill-opacity="0.6"/><circle cx="350.6" cy="248.7" r="1.2" fill-opacity="0.5"/><circle cx="353.6" cy="245.1" r="1" fill-opacity="0.8"/><circle cx="355.4" cy="241.8" r="0.6" fill-opacity="0.5"/><circle cx="355.9" cy="241.8" r="0.9" fill-opacity="0.6"/><circle cx="355.1" cy="242.9" r="1.1" fill-opacity="0.4"/><circle cx="357.4" cy="238.6" r="0.7" fill-opacity="0.5"/><circle cx="359.6" cy="236.6" r="0.8" fill-opacity="0.7"/><circle cx="357.8" cy="238.5" r="0.8" fill-opacity="0.4"/><circle cx="358.9" cy="238" r="0.8" fill-opacity="0.7"/><circle cx="361.5" cy="232" r="0.7" fill-opacity="0.7"/><circle cx="361.3" cy="233" r="0.6" fill-opacity="0.8"/><circle cx="363.1" cy="230.1" r="0.7" fill-opacity="0.7"/><circle cx="364.4" cy="228.4" r="0.6" fill-opacity="0.6"/><circle cx="364.7" cy="228.7" r="0.8" fill-opacity="0.4"/><circle cx="365.8" cy="225.4" r="1" fill-opacity="0.4"/><circle cx="364.7" cy="226.2" r="0.9" fill-opacity="0.5"/></g>
<path d="M376.4,283.2 C376.8,282.5 378,280.6 378.6,279 C379.1,277.4 379.4,275.4 379.9,273.7 C380.3,272 380.9,270.3 381.3,268.7 C381.8,267.1 381.9,265.9 382.7,264.3 C383.4,262.6 384.6,260.5 385.8,258.9 C386.9,257.2 388.4,256 389.5,254.4 C390.7,252.7 391.4,250.7 392.5,248.9 C393.6,247.1 394.8,245.1 396.1,243.6 C397.4,242.1 398.8,241.3 400.2,240 C401.7,238.7 404,236.5 404.8,235.8" fill="none" stroke="#fff" stroke-width="0.8" stroke-opacity="0.4" stroke-linecap="round" stroke-linejoin="round" filter="url(#b1)"/>
<g fill="#fff" filter="url(#b1)"><circle cx="378.5" cy="280.5" r="0.8" fill-opacity="0.4"/><circle cx="377.2" cy="281.6" r="1.2" fill-opacity="0.6"/><circle cx="378.3" cy="280" r="0.9" fill-opacity="0.8"/><circle cx="379.9" cy="275.6" r="1.1" fill-opacity="0.6"/><circle cx="378.5" cy="277.4" r="1.2" fill-opacity="0.5"/><circle cx="380.3" cy="273.9" r="0.9" fill-opacity="0.6"/><circle cx="378.5" cy="277" r="1.2" fill-opacity="0.7"/><circle cx="380.6" cy="270.7" r="0.8" fill-opacity="0.6"/><circle cx="380.8" cy="268.9" r="0.6" fill-opacity="0.8"/><circle cx="380.4" cy="272.9" r="0.7" fill-opacity="0.6"/><circle cx="380.1" cy="271.5" r="0.6" fill-opacity="0.7"/><circle cx="381.9" cy="266.3" r="0.7" fill-opacity="0.7"/><circle cx="381.8" cy="265.5" r="0.6" fill-opacity="0.7"/><circle cx="381.8" cy="268.1" r="1.1" fill-opacity="0.5"/><circle cx="385.4" cy="260.9" r="0.7" fill-opacity="0.7"/><circle cx="383.6" cy="261.9" r="1.2" fill-opacity="0.4"/><circle cx="384.9" cy="260.9" r="0.9" fill-opacity="0.5"/><circle cx="384.8" cy="259.9" r="0.8" fill-opacity="0.4"/><circle cx="388.5" cy="255.5" r="0.7" fill-opacity="0.8"/><circle cx="386.1" cy="258.7" r="1" fill-opacity="0.8"/><circle cx="387.2" cy="257.9" r="1.1" fill-opacity="0.5"/><circle cx="391.7" cy="250.1" r="1.2" fill-opacity="0.6"/><circle cx="393" cy="249.3" r="1.1" fill-opacity="0.4"/><circle cx="392.3" cy="249.3" r="0.6" fill-opacity="0.4"/><circle cx="390.5" cy="253.5" r="1" fill-opacity="0.5"/><circle cx="392.7" cy="248" r="0.7" fill-opacity="0.7"/><circle cx="395.8" cy="244.3" r="1" fill-opacity="0.5"/><circle cx="394.5" cy="245.6" r="1.1" fill-opacity="0.7"/><circle cx="394.8" cy="244.5" r="1.1" fill-opacity="0.7"/><circle cx="399.8" cy="239.9" r="0.9" fill-opacity="0.5"/><circle cx="398" cy="242" r="1" fill-opacity="0.6"/><circle cx="396.2" cy="244" r="1" fill-opacity="0.7"/><circle cx="404.2" cy="235.7" r="0.7" fill-opacity="0.7"/><circle cx="401.8" cy="239" r="0.6" fill-opacity="0.6"/><circle cx="401.4" cy="238.8" r="1" fill-opacity="0.5"/><circle cx="403" cy="236.5" r="1.2" fill-opacity="0.8"/></g>
<path d="M389,286.4 C389.6,285.8 391.7,284.3 392.8,282.9 C393.9,281.5 394.7,279.5 395.7,278 C396.6,276.5 397.3,275.1 398.5,273.7 C399.8,272.3 401.8,271.3 403.1,269.6 C404.4,268 405.1,265.5 406.3,263.8 C407.5,262.1 409,260.8 410.4,259.4 C411.8,258 413.4,257 414.7,255.4 C416.1,253.8 417.3,251.6 418.7,250 C420,248.4 421.4,247.1 422.7,245.8 C424.1,244.6 425.7,243.9 427,242.5 C428.2,241.2 429.3,239.2 430.3,237.9 C431.3,236.5 431.7,235.7 432.8,234.3 C433.8,232.9 435.8,230.3 436.4,229.5" fill="none" stroke="#fff" stroke-width="0.8" stroke-opacity="0.4" stroke-linecap="round" stroke-linejoin="round" filter="url(#b1)"/>
<g fill="#fff" filter="url(#b1)"><circle cx="390.3" cy="284.9" r="0.8" fill-opacity="0.5"/><circle cx="390.2" cy="284.6" r="1" fill-opacity="0.6"/><circle cx="390.9" cy="284.9" r="0.7" fill-opacity="0.5"/><circle cx="394.9" cy="279.9" r="0.8" fill-opacity="0.7"/><circle cx="394.2" cy="279.6" r="1" fill-opacity="0.7"/><circle cx="395.9" cy="278.7" r="1" fill-opacity="0.5"/><circle cx="397.9" cy="274.3" r="0.9" fill-opacity="0.4"/><circle cx="395.6" cy="277.9" r="1.1" fill-opacity="0.4"/><circle cx="396.7" cy="276.9" r="1.1" fill-opacity="0.6"/><circle cx="401.4" cy="271" r="1.1" fill-opacity="0.4"/><circle cx="402.6" cy="269.8" r="0.9" fill-opacity="0.6"/><circle cx="400.6" cy="271.8" r="0.9" fill-opacity="0.4"/><circle cx="400.4" cy="271.6" r="1.1" fill-opacity="0.7"/><circle cx="404.6" cy="268.1" r="0.7" fill-opacity="0.6"/><circle cx="403.4" cy="268.4" r="0.6" fill-opacity="0.4"/><circle cx="405.8" cy="265.2" r="1.1" fill-opacity="0.4"/><circle cx="402.7" cy="268.7" r="1.1" fill-opacity="0.7"/><circle cx="406.4" cy="263.1" r="0.8" fill-opacity="0.5"/><circle cx="409.2" cy="260.4" r="0.7" fill-opacity="0.6"/><circle cx="406.5" cy="263.8" r="0.7" fill-opacity="0.6"/><circle cx="414.8" cy="254.9" r="1" fill-opacity="0.7"/><circle cx="412.8" cy="257.4" r="0.6" fill-opacity="0.6"/><circle cx="413.3" cy="257.6" r="0.7" fill-opacity="0.5"/><circle cx="412.8" cy="256.5" r="1.2" fill-opacity="0.6"/><circle cx="414.8" cy="255.1" r="0.6" fill-opacity="0.6"/><circle cx="418.8" cy="250.4" r="0.7" fill-opacity="0.6"/><circle cx="417.6" cy="250.7" r="0.8" fill-opacity="0.6"/><circle cx="418.3" cy="250.3" r="1.1" fill-opacity="0.4"/><circle cx="418.8" cy="250" r="0.9" fill-opacity="0.6"/><circle cx="419.1" cy="249.3" r="0.8" fill-opacity="0.6"/><circle cx="422.4" cy="246.5" r="0.6" fill-opacity="0.6"/><circle cx="423.2" cy="245" r="0.7" fill-opacity="0.8"/><circle cx="423.8" cy="244.3" r="0.8" fill-opacity="0.7"/><circle cx="425.5" cy="244.2" r="1" fill-opacity="0.6"/><circle cx="428" cy="240.1" r="1.1" fill-opacity="0.4"/><circle cx="427.7" cy="241.9" r="0.9" fill-opacity="0.6"/><circle cx="428.5" cy="240" r="0.8" fill-opacity="0.8"/><circle cx="428.7" cy="240" r="1.2" fill-opacity="0.6"/><circle cx="432.7" cy="234.6" r="1" fill-opacity="0.5"/><circle cx="431.5" cy="236.4" r="1.2" fill-opacity="0.6"/><circle cx="432" cy="234.7" r="0.6" fill-opacity="0.7"/><circle cx="434.5" cy="232.5" r="0.8" fill-opacity="0.5"/><circle cx="433.8" cy="234" r="0.9" fill-opacity="0.7"/><circle cx="436" cy="229.8" r="1" fill-opacity="0.7"/><circle cx="434.4" cy="232.2" r="0.7" fill-opacity="0.5"/></g>
<path d="M417.5,283.2 C417.9,282.5 419.4,280.6 420.1,279 C420.8,277.5 421,275.7 421.7,273.9 C422.5,272.1 423.8,270.1 424.6,268.4 C425.3,266.7 425.7,265.5 426.5,264 C427.3,262.4 428.4,260.5 429.1,259 C429.8,257.5 430,256.3 430.7,254.9 C431.4,253.5 432.4,252.3 433.1,250.6 C433.9,249 434.6,246.9 435.2,244.9 C435.8,243 436,241.1 436.5,239.1 C436.9,237.1 437.5,234.9 438.1,232.8 C438.6,230.6 439.3,227.4 439.6,226.3" fill="none" stroke="#fff" stroke-width="0.9" stroke-opacity="0.6" stroke-linecap="round" stroke-linejoin="round" filter="url(#b1)"/>
<g fill="#fff" filter="url(#b1)"><circle cx="418.3" cy="282.7" r="1.1" fill-opacity="0.8"/><circle cx="419.7" cy="279.3" r="1.3" fill-opacity="0.8"/><circle cx="417.5" cy="283.6" r="0.8" fill-opacity="0.7"/><circle cx="420.9" cy="276.8" r="1.3" fill-opacity="0.7"/><circle cx="421.8" cy="274.3" r="1.1" fill-opacity="0.7"/><circle cx="420.1" cy="278.2" r="0.8" fill-opacity="0.9"/><circle cx="421.3" cy="273.6" r="0.9" fill-opacity="0.7"/><circle cx="423.6" cy="269.5" r="0.8" fill-opacity="0.8"/><circle cx="422.1" cy="273.7" r="0.6" fill-opacity="0.6"/><circle cx="422.3" cy="273.7" r="0.8" fill-opacity="0.9"/><circle cx="422.2" cy="273.2" r="1.1" fill-opacity="0.6"/><circle cx="425.4" cy="268.1" r="0.8" fill-opacity="0.6"/><circle cx="425.4" cy="266.1" r="1.3" fill-opacity="0.9"/><circle cx="426.4" cy="265.4" r="0.9" fill-opacity="0.8"/><circle cx="428.2" cy="261.1" r="1.2" fill-opacity="0.7"/><circle cx="428.4" cy="260.6" r="0.6" fill-opacity="0.6"/><circle cx="427.4" cy="263.2" r="1.1" fill-opacity="0.9"/><circle cx="429" cy="258.5" r="1.2" fill-opacity="0.7"/><circle cx="430" cy="255.9" r="0.7" fill-opacity="0.7"/><circle cx="429.6" cy="257.2" r="0.6" fill-opacity="0.8"/><circle cx="432.7" cy="250.3" r="1.2" fill-opacity="0.7"/><circle cx="432.9" cy="251.3" r="1.1" fill-opacity="0.8"/><circle cx="431.1" cy="253.7" r="1.1" fill-opacity="0.6"/><circle cx="433.5" cy="248.2" r="0.9" fill-opacity="0.7"/><circle cx="435" cy="245.8" r="1.1" fill-opacity="0.9"/><circle cx="435" cy="246.8" r="0.8" fill-opacity="0.7"/><circle cx="433.2" cy="249" r="1" fill-opacity="0.9"/><circle cx="435.6" cy="244.9" r="0.8" fill-opacity="0.6"/><circle cx="435.9" cy="239.6" r="0.8" fill-opacity="0.9"/><circle cx="436.9" cy="239.8" r="1.3" fill-opacity="0.7"/><circle cx="435" cy="244.2" r="0.7" fill-opacity="0.6"/><circle cx="436.3" cy="239.2" r="0.8" fill-opacity="0.8"/><circle cx="437.2" cy="234" r="1" fill-opacity="0.6"/><circle cx="438.2" cy="233" r="1.4" fill-opacity="0.8"/><circle cx="437.1" cy="234.5" r="1.2" fill-opacity="0.8"/><circle cx="438.2" cy="232.3" r="0.9" fill-opacity="0.9"/><circle cx="438.5" cy="229.3" r="1.2" fill-opacity="0.8"/><circle cx="439.5" cy="226.8" r="0.6" fill-opacity="0.7"/><circle cx="438.4" cy="230.8" r="0.7" fill-opacity="0.8"/></g>
<path d="M402,287 C402.3,286 403.1,283 404,281 C405,279 406.5,276.8 407.5,275 C408.4,273.2 408.9,272.3 409.8,270.4 C410.6,268.6 411.9,265.8 412.7,263.8 C413.4,261.8 413.4,260.4 414.2,258.4 C415,256.3 416.9,253.3 417.5,251.4 C418.1,249.5 417.6,248.5 417.9,246.7 C418.2,245 418.9,242.7 419.3,240.9 C419.6,239.1 419.9,236.8 420,236" fill="none" stroke="#fff" stroke-width="0.8" stroke-opacity="0.4" stroke-linecap="round" stroke-linejoin="round" filter="url(#b1)"/>
<g fill="#fff" filter="url(#b1)"><circle cx="403.6" cy="283.9" r="1" fill-opacity="0.6"/><circle cx="402.3" cy="285.1" r="1.1" fill-opacity="0.6"/><circle cx="403.1" cy="285.3" r="1.2" fill-opacity="0.6"/><circle cx="403.3" cy="283.2" r="0.9" fill-opacity="0.6"/><circle cx="405.4" cy="277.7" r="0.8" fill-opacity="0.7"/><circle cx="404.2" cy="280.2" r="0.9" fill-opacity="0.7"/><circle cx="404" cy="281.3" r="1.1" fill-opacity="0.5"/><circle cx="405.7" cy="277.3" r="0.6" fill-opacity="0.5"/><circle cx="407.6" cy="274.2" r="1" fill-opacity="0.6"/><circle cx="408" cy="273" r="1.1" fill-opacity="0.5"/><circle cx="407.8" cy="273.7" r="0.7" fill-opacity="0.5"/><circle cx="410.3" cy="269" r="0.6" fill-opacity="0.7"/><circle cx="409.8" cy="269.8" r="0.6" fill-opacity="0.5"/><circle cx="411.3" cy="267.2" r="0.8" fill-opacity="0.7"/><circle cx="411.5" cy="265.9" r="1.1" fill-opacity="0.8"/><circle cx="413.8" cy="259.1" r="0.6" fill-opacity="0.5"/><circle cx="412.7" cy="262.9" r="1.2" fill-opacity="0.5"/><circle cx="413.7" cy="259.5" r="0.7" fill-opacity="0.7"/><circle cx="416.5" cy="254.3" r="0.9" fill-opacity="0.7"/><circle cx="415.9" cy="254.8" r="0.7" fill-opacity="0.5"/><circle cx="417.5" cy="251" r="0.7" fill-opacity="0.6"/><circle cx="416.5" cy="255.3" r="0.6" fill-opacity="0.7"/><circle cx="417.8" cy="252.1" r="0.8" fill-opacity="0.6"/><circle cx="418.1" cy="248.1" r="0.8" fill-opacity="0.7"/><circle cx="418.3" cy="248.4" r="1" fill-opacity="0.7"/><circle cx="418" cy="247.4" r="0.7" fill-opacity="0.5"/><circle cx="418.1" cy="246.1" r="0.7" fill-opacity="0.5"/><circle cx="418.9" cy="244.1" r="0.7" fill-opacity="0.4"/><circle cx="419.2" cy="242.2" r="1.1" fill-opacity="0.4"/><circle cx="418.1" cy="244.6" r="0.7" fill-opacity="0.7"/><circle cx="420" cy="240.5" r="0.8" fill-opacity="0.7"/><circle cx="420.2" cy="236.1" r="1" fill-opacity="0.7"/><circle cx="419.5" cy="238.8" r="0.7" fill-opacity="0.7"/></g>
<path d="M452.2,280 C452.7,279.3 454.1,277.4 455.1,276.1 C456.1,274.7 457.4,273.4 458.4,271.9 C459.5,270.4 460.2,268.7 461.4,266.8 C462.6,265 464.5,262.8 465.9,260.8 C467.3,258.8 469,255.8 469.6,254.8" fill="none" stroke="#fff" stroke-width="0.8" stroke-opacity="0.4" stroke-linecap="round" stroke-linejoin="round" filter="url(#b1)"/>
<g fill="#fff" filter="url(#b1)"><circle cx="453.5" cy="278.7" r="1" fill-opacity="0.6"/><circle cx="453.6" cy="277.8" r="0.8" fill-opacity="0.6"/><circle cx="455" cy="276" r="1.2" fill-opacity="0.7"/><circle cx="455.8" cy="274.9" r="0.7" fill-opacity="0.7"/><circle cx="457.8" cy="273.2" r="0.7" fill-opacity="0.4"/><circle cx="456.5" cy="273.6" r="1.1" fill-opacity="0.4"/><circle cx="459.6" cy="268.8" r="1" fill-opacity="0.4"/><circle cx="458.6" cy="271.6" r="1.2" fill-opacity="0.4"/><circle cx="460" cy="268.4" r="0.7" fill-opacity="0.6"/><circle cx="465.4" cy="260.8" r="1.2" fill-opacity="0.4"/><circle cx="462" cy="265.8" r="0.8" fill-opacity="0.6"/><circle cx="465.6" cy="260.5" r="0.8" fill-opacity="0.7"/><circle cx="462.8" cy="263.9" r="0.7" fill-opacity="0.5"/><circle cx="468.6" cy="256.2" r="0.7" fill-opacity="0.7"/><circle cx="469.5" cy="255.2" r="1" fill-opacity="0.4"/><circle cx="468.1" cy="257.1" r="1.1" fill-opacity="0.6"/><circle cx="469.1" cy="256.9" r="1" fill-opacity="0.6"/></g>
<path d="M281.6,378 C282.4,377.6 284.7,376.7 286.1,375.9 C287.6,375.1 289.1,374.1 290.6,373.2 C292.1,372.3 293.6,371.1 295.3,370.3 C297,369.5 299.3,369.1 300.8,368.4 C302.4,367.7 303.2,367 304.6,366 C306,364.9 307.6,363.5 309.1,362.2 C310.7,361 312.2,359.6 313.8,358.6 C315.5,357.6 317.4,357.2 319,356.2 C320.5,355.2 322,353.6 323.2,352.4 C324.5,351.3 325.4,350.6 326.4,349.2 C327.5,347.8 328.8,345.7 329.6,344.1 C330.5,342.6 330.8,341.2 331.7,339.9 C332.5,338.7 333.7,338 334.8,336.8 C335.8,335.5 336.7,333.7 337.9,332.4 C339,331 340.3,330 341.4,328.7 C342.6,327.3 344.2,325 344.8,324.3" fill="none" stroke="#fff" stroke-width="0.8" stroke-opacity="0.4" stroke-linecap="round" stroke-linejoin="round" filter="url(#b1)"/>
<g fill="#fff" filter="url(#b1)"><circle cx="285.4" cy="376.2" r="0.8" fill-opacity="0.7"/><circle cx="283.4" cy="377.9" r="0.7" fill-opacity="0.6"/><circle cx="282.3" cy="377.6" r="1.2" fill-opacity="0.7"/><circle cx="290.1" cy="373.6" r="1" fill-opacity="0.4"/><circle cx="288.2" cy="375.5" r="0.7" fill-opacity="0.6"/><circle cx="288.1" cy="374.9" r="0.7" fill-opacity="0.7"/><circle cx="288.5" cy="374.9" r="1.2" fill-opacity="0.6"/><circle cx="293.9" cy="370.4" r="1.1" fill-opacity="0.7"/><circle cx="294.5" cy="370.7" r="1.2" fill-opacity="0.6"/><circle cx="295.1" cy="370.9" r="0.6" fill-opacity="0.4"/><circle cx="298.8" cy="368.5" r="1.2" fill-opacity="0.4"/><circle cx="299.9" cy="368.9" r="1" fill-opacity="0.5"/><circle cx="296.8" cy="369.7" r="0.7" fill-opacity="0.6"/><circle cx="296.4" cy="370" r="0.7" fill-opacity="0.8"/><circle cx="302.1" cy="368.2" r="0.8" fill-opacity="0.7"/><circle cx="302.7" cy="367.4" r="0.6" fill-opacity="0.4"/><circle cx="303" cy="366.8" r="0.8" fill-opacity="0.5"/><circle cx="305.5" cy="365.5" r="0.6" fill-opacity="0.7"/><circle cx="305.8" cy="364.7" r="1" fill-opacity="0.5"/><circle cx="307.1" cy="363.8" r="0.6" fill-opacity="0.8"/><circle cx="311.1" cy="360.8" r="1.1" fill-opacity="0.5"/><circle cx="309.8" cy="361.5" r="0.7" fill-opacity="0.8"/><circle cx="313.5" cy="359.2" r="1" fill-opacity="0.5"/><circle cx="316.5" cy="357.5" r="1" fill-opacity="0.5"/><circle cx="318.4" cy="356.7" r="1.2" fill-opacity="0.6"/><circle cx="313.9" cy="358.4" r="1.2" fill-opacity="0.6"/><circle cx="319.5" cy="355" r="0.6" fill-opacity="0.7"/><circle cx="318.8" cy="356" r="1.2" fill-opacity="0.5"/><circle cx="319.2" cy="356.4" r="0.6" fill-opacity="0.8"/><circle cx="323.2" cy="353.3" r="0.9" fill-opacity="0.7"/><circle cx="325.1" cy="350.2" r="0.8" fill-opacity="0.4"/><circle cx="326.1" cy="349.2" r="0.9" fill-opacity="0.4"/><circle cx="327.5" cy="348.2" r="0.9" fill-opacity="0.5"/><circle cx="328.7" cy="344.4" r="0.7" fill-opacity="0.7"/><circle cx="328.1" cy="347.1" r="0.6" fill-opacity="0.6"/><circle cx="326.3" cy="348.8" r="1" fill-opacity="0.5"/><circle cx="330.6" cy="341.9" r="1" fill-opacity="0.4"/><circle cx="329.1" cy="344.4" r="1" fill-opacity="0.4"/><circle cx="333.1" cy="338.9" r="1" fill-opacity="0.4"/><circle cx="331.5" cy="340" r="0.9" fill-opacity="0.7"/><circle cx="337.4" cy="334.4" r="1.2" fill-opacity="0.4"/><circle cx="335.6" cy="335.1" r="0.9" fill-opacity="0.4"/><circle cx="335" cy="336.6" r="0.8" fill-opacity="0.6"/><circle cx="337" cy="334.2" r="0.8" fill-opacity="0.4"/><circle cx="337.6" cy="331.8" r="1" fill-opacity="0.6"/><circle cx="338.2" cy="332.1" r="1" fill-opacity="0.4"/><circle cx="340.2" cy="329.5" r="0.6" fill-opacity="0.7"/><circle cx="344.2" cy="324.7" r="0.8" fill-opacity="0.4"/><circle cx="342.1" cy="327.6" r="0.8" fill-opacity="0.4"/><circle cx="344.6" cy="324.8" r="0.8" fill-opacity="0.8"/></g>
<path d="M370,324 C370.8,323.5 372.9,321.6 374.7,320.7 C376.4,319.8 378.3,319.5 380.7,318.6 C383,317.6 386.6,314.8 388.8,315 C391.1,315.2 394,317.8 394.4,319.8 C394.8,321.8 392.2,325.1 391.3,327.2 C390.4,329.4 390.1,331.2 389.2,332.8 C388.3,334.4 386.5,336.2 385.9,336.9" fill="none" stroke="#fff" stroke-width="0.7" stroke-opacity="0.3" stroke-linecap="round" stroke-linejoin="round" filter="url(#b1)"/>
<g fill="#fff" filter="url(#b1)"><circle cx="371.8" cy="322.8" r="0.6" fill-opacity="0.7"/><circle cx="373.9" cy="320.3" r="0.7" fill-opacity="0.4"/><circle cx="374" cy="321.5" r="1.1" fill-opacity="0.4"/><circle cx="376.9" cy="319.5" r="1.1" fill-opacity="0.6"/><circle cx="376.1" cy="319.9" r="0.8" fill-opacity="0.6"/><circle cx="379.9" cy="318.6" r="0.7" fill-opacity="0.5"/><circle cx="384.7" cy="317.4" r="0.8" fill-opacity="0.5"/><circle cx="387.2" cy="316.4" r="0.7" fill-opacity="0.7"/><circle cx="385.1" cy="317" r="0.9" fill-opacity="0.6"/><circle cx="381.1" cy="318.3" r="1" fill-opacity="0.4"/><circle cx="386.6" cy="315.6" r="0.8" fill-opacity="0.6"/><circle cx="393.8" cy="318.9" r="0.9" fill-opacity="0.5"/><circle cx="393.5" cy="318.8" r="0.7" fill-opacity="0.4"/><circle cx="393.6" cy="318.6" r="0.8" fill-opacity="0.7"/><circle cx="393.9" cy="320.1" r="0.6" fill-opacity="0.7"/><circle cx="390.9" cy="327.1" r="1.1" fill-opacity="0.6"/><circle cx="392.2" cy="323.7" r="1.1" fill-opacity="0.6"/><circle cx="393.5" cy="321.6" r="0.7" fill-opacity="0.4"/><circle cx="391.2" cy="326.4" r="0.8" fill-opacity="0.5"/><circle cx="390.1" cy="330.8" r="1" fill-opacity="0.6"/><circle cx="391" cy="327.5" r="1.1" fill-opacity="0.5"/><circle cx="389" cy="331.9" r="1" fill-opacity="0.6"/><circle cx="387.3" cy="335.4" r="0.8" fill-opacity="0.4"/><circle cx="386.9" cy="335.8" r="1" fill-opacity="0.4"/></g>
<path d="M335.3,396.9 C335.1,396 334.5,393.2 334,391.5 C333.6,389.9 333.1,388.4 332.6,386.7 C332.1,385.1 331.5,383.3 331.1,381.6 C330.7,379.9 330.5,378.1 330.1,376.6 C329.8,375 329,374 329,372.1 C329,370.2 329.8,367.4 329.9,365.2 C330,362.9 329.5,360.7 329.7,358.6 C329.9,356.6 330.5,354.9 331,353 C331.5,351.1 332.1,349.3 332.6,347.2 C333.2,345.1 333.5,342.6 334.1,340.6 C334.7,338.5 335.7,335.9 336,335" fill="none" stroke="#fff" stroke-width="0.7" stroke-opacity="0.5" stroke-linecap="round" stroke-linejoin="round" filter="url(#b1)"/>
<g fill="#fff" filter="url(#b1)"><circle cx="335.1" cy="394.3" r="0.7" fill-opacity="0.5"/><circle cx="333.4" cy="389.4" r="0.7" fill-opacity="0.6"/><circle cx="331.8" cy="385.2" r="0.6" fill-opacity="0.7"/><circle cx="330.2" cy="376.5" r="0.6" fill-opacity="0.8"/><circle cx="329" cy="373" r="0.7" fill-opacity="0.7"/><circle cx="329.4" cy="374.7" r="0.9" fill-opacity="0.9"/><circle cx="329.6" cy="369.1" r="0.6" fill-opacity="0.5"/><circle cx="329.7" cy="369.8" r="0.6" fill-opacity="0.7"/><circle cx="329.1" cy="368.3" r="1" fill-opacity="0.7"/><circle cx="329.3" cy="360.9" r="0.8" fill-opacity="0.7"/><circle cx="330" cy="363.6" r="0.7" fill-opacity="0.6"/><circle cx="331.1" cy="353.2" r="0.8" fill-opacity="0.8"/><circle cx="330.2" cy="354.9" r="0.8" fill-opacity="0.9"/><circle cx="331.5" cy="350.3" r="0.5" fill-opacity="0.7"/><circle cx="332.8" cy="348" r="0.6" fill-opacity="0.7"/><circle cx="333.6" cy="340.4" r="0.7" fill-opacity="0.8"/><circle cx="332.5" cy="347.3" r="0.7" fill-opacity="0.6"/><circle cx="335.6" cy="336.4" r="0.8" fill-opacity="0.8"/></g>
<path d="M290,300 C290.8,299.8 293.1,299 294.9,298.5 C296.6,298 298.8,297.2 300.5,296.8 C302.2,296.4 303.6,296.1 305.3,296 C307,295.8 308.8,296 310.7,296 C312.6,296.1 315,296.4 316.9,296.4 C318.7,296.5 319.9,296 321.8,296.5 C323.7,297 326.5,298.7 328.5,299.4 C330.4,300.1 331.6,300.1 333.5,300.6 C335.3,301.1 337.7,301.4 339.7,302.4 C341.8,303.5 344,305.7 346,306.9 C348,308.2 351,309.5 352,310" fill="none" stroke="#fff" stroke-width="0.6" stroke-opacity="0.3" stroke-linecap="round" stroke-linejoin="round" filter="url(#b1)"/>
<g fill="#fff" filter="url(#b1)"><circle cx="293" cy="299" r="0.7" fill-opacity="0.4"/><circle cx="297.1" cy="297.7" r="1" fill-opacity="0.7"/><circle cx="298.8" cy="297.4" r="0.7" fill-opacity="0.6"/><circle cx="303.4" cy="296.1" r="0.7" fill-opacity="0.4"/><circle cx="305.9" cy="295.4" r="0.8" fill-opacity="0.3"/><circle cx="311.2" cy="295.8" r="1" fill-opacity="0.4"/><circle cx="311.8" cy="295.8" r="0.9" fill-opacity="0.5"/><circle cx="319.4" cy="296.2" r="0.5" fill-opacity="0.4"/><circle cx="322.7" cy="296.9" r="0.8" fill-opacity="0.5"/><circle cx="326.5" cy="298.4" r="0.9" fill-opacity="0.4"/><circle cx="329" cy="299.9" r="0.7" fill-opacity="0.6"/><circle cx="339.8" cy="302.1" r="0.6" fill-opacity="0.5"/><circle cx="339.4" cy="302.2" r="0.5" fill-opacity="0.5"/><circle cx="342.7" cy="304.8" r="1" fill-opacity="0.6"/><circle cx="342.6" cy="305.2" r="0.9" fill-opacity="0.6"/><circle cx="350.1" cy="308.5" r="0.7" fill-opacity="0.5"/></g>
<path d="M396,300 C397.1,300.2 400.4,300.5 402.7,301 C405,301.5 407.3,302.1 409.6,302.9 C411.9,303.8 414,305.1 416.4,305.9 C418.8,306.6 422,306.6 423.9,307.7 C425.8,308.9 426.4,311.1 427.7,312.8 C429.1,314.5 431.3,317.1 432,318" fill="none" stroke="#fff" stroke-width="0.6" stroke-opacity="0.3" stroke-linecap="round" stroke-linejoin="round" filter="url(#b1)"/>
<g fill="#fff" filter="url(#b1)"><circle cx="400.7" cy="301" r="0.8" fill-opacity="0.6"/><circle cx="401.2" cy="300.2" r="0.7" fill-opacity="0.3"/><circle cx="404.3" cy="301.2" r="0.6" fill-opacity="0.6"/><circle cx="403.8" cy="301.3" r="0.8" fill-opacity="0.5"/><circle cx="415.6" cy="305.4" r="0.7" fill-opacity="0.5"/><circle cx="412.4" cy="304" r="0.8" fill-opacity="0.6"/><circle cx="423" cy="307.8" r="0.9" fill-opacity="0.5"/><circle cx="422.3" cy="307" r="0.9" fill-opacity="0.5"/><circle cx="425.9" cy="310.3" r="0.9" fill-opacity="0.4"/><circle cx="424.6" cy="308.8" r="0.8" fill-opacity="0.3"/><circle cx="430.4" cy="316.8" r="0.7" fill-opacity="0.6"/><circle cx="427.9" cy="313.6" r="0.8" fill-opacity="0.6"/></g>
<path d="M340,412 C339.5,411.6 337.1,412.1 336.9,409.6 C336.6,407.1 337.4,402.2 338.5,396.9 C339.6,391.6 341.6,384.8 343.2,378 C344.8,371.2 346,363.3 347.9,355.9 C349.8,348.5 352.2,340.5 354.3,333.7 C356.4,326.9 358.8,320.6 360.6,314.8 C362.4,309 364.5,301.6 365.3,299" fill="none" stroke="#fff" stroke-width="3.5" stroke-opacity="0.28" stroke-linecap="round" filter="url(#b3)"/>
<path d="M340,412 C339.5,411.6 337.4,410.8 337,409.3 C336.7,407.8 337.7,405.1 337.9,403 C338.1,400.9 338,398.9 338.3,396.8 C338.7,394.7 339.5,392.5 340.1,390.4 C340.6,388.2 341.1,386.2 341.6,384.1 C342.1,382 342.7,379.8 343.1,377.9 C343.5,376 343.8,374.5 344.1,372.7 C344.5,370.8 344.8,368.7 345.3,366.8 C345.7,364.9 346.5,363.2 347,361.4 C347.4,359.5 347.7,357.6 348.2,355.8 C348.6,354 349,352.1 349.5,350.4 C350,348.6 350.5,346.9 351,345.1 C351.6,343.3 352.1,341.3 352.6,339.4 C353.2,337.5 353.6,335.6 354.3,333.6 C355,331.6 356,329.7 356.6,327.7 C357.3,325.6 357.5,323.3 358.2,321.2 C358.9,319 360.1,316.7 360.8,314.8 C361.4,312.9 361.6,311.4 362.1,309.7 C362.6,307.9 363,306 363.5,304.3 C364.1,302.5 365,299.9 365.3,299" fill="none" stroke="#fff" stroke-width="1.8" stroke-opacity="1" stroke-linecap="round" stroke-linejoin="round" filter="url(#b1)"/>
<g fill="#fff" filter="url(#b1)"><circle cx="337.6" cy="404.7" r="0.9" fill-opacity="1"/><circle cx="340.1" cy="392.3" r="0.8" fill-opacity="1"/><circle cx="342.5" cy="379.1" r="0.8" fill-opacity="1"/><circle cx="344.7" cy="369.1" r="1.1" fill-opacity="1"/><circle cx="346.3" cy="364.4" r="0.7" fill-opacity="1"/><circle cx="357.1" cy="326.7" r="0.7" fill-opacity="1"/></g>
<g fill="#fff" filter="url(#b1)"><circle cx="350" cy="395.3" r="0.5" fill-opacity="0.7"/><circle cx="336.4" cy="387.4" r="0.9" fill-opacity="0.8"/><circle cx="337.8" cy="407.7" r="1.1" fill-opacity="0.9"/><circle cx="317.7" cy="415.6" r="1.2" fill-opacity="0.4"/><circle cx="365.8" cy="316.5" r="1.2" fill-opacity="0.6"/><circle cx="340.5" cy="381.4" r="1.1" fill-opacity="0.9"/><circle cx="344.8" cy="414" r="0.8" fill-opacity="0.6"/><circle cx="362" cy="352.1" r="0.7" fill-opacity="0.9"/><circle cx="347.5" cy="304.1" r="0.5" fill-opacity="0.7"/><circle cx="330.4" cy="378.9" r="1" fill-opacity="0.7"/><circle cx="345" cy="387.2" r="0.8" fill-opacity="0.7"/><circle cx="352.2" cy="384.2" r="0.6" fill-opacity="0.4"/><circle cx="338.7" cy="403.1" r="0.6" fill-opacity="0.5"/><circle cx="354.8" cy="288.8" r="1" fill-opacity="0.4"/><circle cx="350.3" cy="355.4" r="0.7" fill-opacity="0.5"/><circle cx="318.3" cy="365.7" r="0.9" fill-opacity="0.6"/><circle cx="347.5" cy="331.7" r="0.6" fill-opacity="0.6"/><circle cx="334.4" cy="413.7" r="0.8" fill-opacity="0.8"/><circle cx="346.6" cy="414.4" r="0.9" fill-opacity="0.6"/><circle cx="336.5" cy="408.5" r="0.6" fill-opacity="0.6"/><circle cx="330.9" cy="412" r="0.9" fill-opacity="0.4"/><circle cx="346.3" cy="398" r="1.1" fill-opacity="0.9"/><circle cx="326.2" cy="362.3" r="0.7" fill-opacity="0.5"/><circle cx="351" cy="361.9" r="0.6" fill-opacity="0.9"/><circle cx="342.3" cy="375.9" r="0.7" fill-opacity="0.4"/><circle cx="329.3" cy="410.4" r="1" fill-opacity="0.7"/><circle cx="368.1" cy="283.3" r="1" fill-opacity="0.8"/><circle cx="367.5" cy="294.3" r="0.8" fill-opacity="0.8"/><circle cx="337.2" cy="379.2" r="0.8" fill-opacity="0.5"/><circle cx="323.3" cy="387.1" r="0.7" fill-opacity="0.9"/><circle cx="346.7" cy="338.8" r="1" fill-opacity="0.5"/><circle cx="350" cy="351.5" r="1.2" fill-opacity="0.4"/><circle cx="363.7" cy="321.2" r="0.6" fill-opacity="0.9"/><circle cx="367.3" cy="282.5" r="0.8" fill-opacity="0.5"/><circle cx="340.5" cy="340" r="0.7" fill-opacity="0.8"/><circle cx="370.7" cy="326.2" r="0.8" fill-opacity="0.8"/><circle cx="346.3" cy="353.5" r="1.1" fill-opacity="0.9"/><circle cx="363.7" cy="322" r="0.7" fill-opacity="0.7"/><circle cx="376.5" cy="287.1" r="0.6" fill-opacity="0.4"/><circle cx="382.5" cy="289.8" r="0.9" fill-opacity="0.4"/><circle cx="343.2" cy="415.6" r="1" fill-opacity="0.9"/><circle cx="359.6" cy="313.2" r="0.9" fill-opacity="0.8"/><circle cx="364.8" cy="276.5" r="1.1" fill-opacity="0.5"/><circle cx="361.6" cy="330.1" r="1.1" fill-opacity="0.8"/><circle cx="345.2" cy="392.4" r="1.2" fill-opacity="0.8"/><circle cx="357.1" cy="285.5" r="0.6" fill-opacity="0.7"/><circle cx="351.4" cy="349" r="1" fill-opacity="0.4"/><circle cx="364.8" cy="315.1" r="0.8" fill-opacity="0.9"/><circle cx="357.4" cy="282.7" r="1" fill-opacity="0.5"/><circle cx="333.3" cy="402" r="0.8" fill-opacity="0.7"/><circle cx="358.4" cy="323.2" r="1.2" fill-opacity="0.8"/><circle cx="339.6" cy="397.8" r="0.9" fill-opacity="0.4"/><circle cx="354" cy="341.3" r="0.9" fill-opacity="0.9"/><circle cx="364.9" cy="284" r="0.7" fill-opacity="0.4"/><circle cx="345.7" cy="370.2" r="0.6" fill-opacity="0.7"/><circle cx="346.5" cy="378.5" r="0.7" fill-opacity="0.6"/><circle cx="324.4" cy="412.9" r="1" fill-opacity="0.8"/><circle cx="346.4" cy="311.6" r="0.8" fill-opacity="0.9"/><circle cx="366.5" cy="350.1" r="1.1" fill-opacity="0.6"/><circle cx="368.8" cy="270" r="0.8" fill-opacity="0.9"/><circle cx="371.8" cy="330.5" r="1.1" fill-opacity="0.4"/><circle cx="354.8" cy="309.2" r="0.5" fill-opacity="0.4"/><circle cx="339.8" cy="399.2" r="0.5" fill-opacity="0.6"/><circle cx="345.6" cy="357.2" r="0.6" fill-opacity="0.4"/><circle cx="348.2" cy="357.2" r="1" fill-opacity="0.8"/><circle cx="343.6" cy="398.9" r="0.7" fill-opacity="0.4"/><circle cx="361.4" cy="381" r="1.2" fill-opacity="0.4"/><circle cx="341" cy="389.2" r="0.8" fill-opacity="0.9"/><circle cx="335.9" cy="406.7" r="0.8" fill-opacity="0.6"/><circle cx="369.9" cy="306.2" r="0.7" fill-opacity="0.9"/><circle cx="352.3" cy="349.6" r="1" fill-opacity="0.6"/><circle cx="366.2" cy="321.8" r="0.9" fill-opacity="0.7"/><circle cx="347.5" cy="307.4" r="0.6" fill-opacity="0.5"/><circle cx="366.1" cy="303.9" r="0.9" fill-opacity="0.6"/><circle cx="354.4" cy="314.7" r="0.9" fill-opacity="0.7"/><circle cx="336.1" cy="414.2" r="0.7" fill-opacity="0.4"/><circle cx="373.3" cy="273.5" r="1.2" fill-opacity="0.8"/><circle cx="337.8" cy="356.3" r="0.6" fill-opacity="0.6"/><circle cx="355.3" cy="378.2" r="1" fill-opacity="0.7"/><circle cx="363.7" cy="272.5" r="0.9" fill-opacity="0.6"/><circle cx="341.5" cy="409.9" r="1.2" fill-opacity="0.6"/><circle cx="353.6" cy="336.5" r="0.7" fill-opacity="0.9"/><circle cx="354.1" cy="419.2" r="1.1" fill-opacity="0.6"/><circle cx="343.7" cy="390.7" r="1" fill-opacity="0.4"/><circle cx="351.9" cy="354.5" r="0.9" fill-opacity="0.6"/><circle cx="334" cy="400.8" r="0.6" fill-opacity="0.7"/><circle cx="349.7" cy="394.6" r="1" fill-opacity="0.7"/><circle cx="329" cy="410.8" r="1.1" fill-opacity="0.5"/><circle cx="365" cy="363.4" r="1.1" fill-opacity="0.6"/><circle cx="360.2" cy="289.4" r="1" fill-opacity="0.7"/></g>
<path d="M365.3,299 C365.4,298.1 365.7,295.1 366.2,293.3 C366.6,291.6 367.3,290 367.7,288.3 C368.2,286.7 368.5,285.2 368.8,283.5 C369,281.8 369.2,279.9 369.3,278.1 C369.5,276.4 369.6,274.7 369.7,272.9 C369.9,271.2 370.4,269.6 370.5,267.7 C370.5,265.9 370.1,263.9 369.9,262 C369.7,260.1 369.6,258.2 369.4,256.5 C369.1,254.9 368.2,253.5 368.2,251.9 C368.3,250.3 369.2,248.6 369.6,246.7 C369.9,244.8 370.1,242.5 370.4,240.7 C370.7,239 370.9,237.8 371.3,236.1 C371.7,234.4 372.5,232.3 372.9,230.5 C373.3,228.6 373.5,226.7 373.9,224.9 C374.2,223.1 374.6,221.8 375.1,219.8 C375.7,217.9 376.9,214.2 377.2,213.1" fill="none" stroke="#fff" stroke-width="1.2" stroke-opacity="0.8" stroke-linecap="round" stroke-linejoin="round" filter="url(#b1)"/>
<g fill="#fff" filter="url(#b1)"><circle cx="365.7" cy="296.2" r="1" fill-opacity="0.9"/><circle cx="366.5" cy="292.2" r="1" fill-opacity="1"/><circle cx="367.3" cy="289.2" r="0.9" fill-opacity="1"/><circle cx="368.4" cy="285.5" r="1" fill-opacity="1"/><circle cx="368.7" cy="280.7" r="0.8" fill-opacity="0.9"/><circle cx="369.8" cy="275.5" r="1.2" fill-opacity="1"/><circle cx="370.1" cy="270" r="0.8" fill-opacity="1"/><circle cx="370.3" cy="265.4" r="1.2" fill-opacity="1"/><circle cx="369.8" cy="260.4" r="0.9" fill-opacity="1"/><circle cx="370.3" cy="260.2" r="1.1" fill-opacity="1"/><circle cx="369.6" cy="254.9" r="0.9" fill-opacity="1"/><circle cx="369" cy="248.5" r="0.6" fill-opacity="1"/><circle cx="368.3" cy="251.6" r="1" fill-opacity="1"/><circle cx="369.5" cy="245.9" r="1" fill-opacity="1"/><circle cx="370.4" cy="238.4" r="0.8" fill-opacity="1"/><circle cx="370.5" cy="239.6" r="1" fill-opacity="1"/><circle cx="372.3" cy="233.6" r="0.8" fill-opacity="1"/><circle cx="373.2" cy="228.9" r="0.9" fill-opacity="1"/><circle cx="372.9" cy="228.4" r="1.1" fill-opacity="1"/><circle cx="373.8" cy="224.4" r="1" fill-opacity="0.9"/><circle cx="377.3" cy="213.8" r="1.1" fill-opacity="1"/><circle cx="376.6" cy="213.4" r="0.8" fill-opacity="1"/></g>
<path d="M377.2,213.1 C377.4,212.1 377.9,209.3 378.2,207.4 C378.4,205.4 378.5,203.3 378.7,201.3 C378.9,199.3 379.2,197.1 379.5,195.3 C379.7,193.5 379.4,192.1 380.3,190.5 C381.3,188.8 383.4,187.2 385.1,185.6 C386.8,184.1 388.6,182.3 390.3,181.2 C392,180.1 393.8,179.7 395.4,179.1 C397,178.5 398.2,178.3 399.8,177.7 C401.4,177.1 402.9,176.2 404.8,175.4 C406.8,174.6 410.2,174.3 411.4,172.9 C412.6,171.5 411.9,169.1 412.2,167.2 C412.4,165.3 411.9,163.1 412.8,161.5 C413.8,159.9 416.3,158.7 417.9,157.5 C419.5,156.3 420.1,154.6 422.3,154.2 C424.4,153.8 428,155.3 430.8,155.2 C433.5,155 436.5,153.9 438.8,153.5 C441.1,153.1 442.6,153 444.6,152.6 C446.6,152.3 449,151.8 451,151.4 C453,151.1 454.5,150.6 456.4,150.4 C458.4,150.2 460.7,150.6 462.7,150.4 C464.7,150.1 466.6,149.2 468.6,149.1 C470.5,149 472.4,149.8 474.3,150 C476.2,150.2 478.1,150.1 479.9,150.2 C481.8,150.4 484.5,150.9 485.4,151" fill="none" stroke="#fff" stroke-width="0.9" stroke-opacity="0.5" stroke-linecap="round" stroke-linejoin="round" filter="url(#b1)"/>
<g fill="#fff" filter="url(#b1)"><circle cx="378.2" cy="209" r="0.7" fill-opacity="0.9"/><circle cx="377.6" cy="212.9" r="1" fill-opacity="0.6"/><circle cx="378.3" cy="208.3" r="1.2" fill-opacity="0.7"/><circle cx="378.2" cy="205.6" r="0.6" fill-opacity="0.6"/><circle cx="378.3" cy="206.4" r="0.7" fill-opacity="0.9"/><circle cx="378.5" cy="203.3" r="0.9" fill-opacity="0.9"/><circle cx="379.6" cy="198.2" r="1.2" fill-opacity="0.5"/><circle cx="378.8" cy="196.8" r="0.7" fill-opacity="0.9"/><circle cx="379.7" cy="196" r="0.7" fill-opacity="0.7"/><circle cx="379.5" cy="192.4" r="1.2" fill-opacity="0.7"/><circle cx="379.7" cy="195.4" r="0.6" fill-opacity="0.7"/><circle cx="379" cy="195.5" r="1.1" fill-opacity="0.6"/><circle cx="381.3" cy="189.2" r="0.8" fill-opacity="0.9"/><circle cx="380.1" cy="190.5" r="0.9" fill-opacity="0.5"/><circle cx="381.9" cy="188.9" r="0.8" fill-opacity="0.8"/><circle cx="386.7" cy="183.8" r="0.7" fill-opacity="0.6"/><circle cx="389.5" cy="182.1" r="0.7" fill-opacity="0.5"/><circle cx="385.7" cy="186" r="0.8" fill-opacity="0.6"/><circle cx="387" cy="183.9" r="0.9" fill-opacity="0.8"/><circle cx="391.2" cy="181.1" r="0.6" fill-opacity="0.7"/><circle cx="394.7" cy="179.6" r="1.2" fill-opacity="0.6"/><circle cx="391.9" cy="180.8" r="1" fill-opacity="0.8"/><circle cx="397.2" cy="178.4" r="0.9" fill-opacity="0.8"/><circle cx="398.5" cy="178.3" r="1" fill-opacity="0.8"/><circle cx="402" cy="176.6" r="1.1" fill-opacity="0.7"/><circle cx="402.1" cy="176.8" r="1.2" fill-opacity="0.8"/><circle cx="406.6" cy="174.7" r="0.7" fill-opacity="0.8"/><circle cx="409.6" cy="173.2" r="0.9" fill-opacity="0.6"/><circle cx="406.8" cy="174.9" r="0.9" fill-opacity="0.7"/><circle cx="405.7" cy="175.3" r="0.7" fill-opacity="0.6"/><circle cx="411.3" cy="170.3" r="0.9" fill-opacity="0.9"/><circle cx="411.7" cy="173.2" r="0.9" fill-opacity="0.6"/><circle cx="411.7" cy="169.1" r="1.2" fill-opacity="0.8"/><circle cx="412.8" cy="164.9" r="0.8" fill-opacity="0.6"/><circle cx="411.9" cy="164.8" r="0.7" fill-opacity="0.8"/><circle cx="412.2" cy="165" r="0.8" fill-opacity="0.6"/><circle cx="415.2" cy="159.5" r="1.2" fill-opacity="0.7"/><circle cx="413.9" cy="160.2" r="1.2" fill-opacity="0.8"/><circle cx="413.8" cy="161.1" r="1.1" fill-opacity="0.8"/><circle cx="415.4" cy="159.4" r="1" fill-opacity="0.6"/><circle cx="420.7" cy="155.6" r="1" fill-opacity="0.5"/><circle cx="422.2" cy="154.3" r="1.1" fill-opacity="0.8"/><circle cx="429.2" cy="154.8" r="0.7" fill-opacity="0.8"/><circle cx="428.2" cy="155.1" r="0.9" fill-opacity="0.7"/><circle cx="425.9" cy="154.7" r="0.8" fill-opacity="0.6"/><circle cx="423.8" cy="154.7" r="0.7" fill-opacity="0.7"/><circle cx="431.7" cy="154.3" r="1.1" fill-opacity="0.6"/><circle cx="433" cy="154.3" r="1" fill-opacity="0.7"/><circle cx="432.8" cy="155" r="1.2" fill-opacity="0.6"/><circle cx="437.1" cy="154" r="0.6" fill-opacity="0.6"/><circle cx="438.6" cy="153.9" r="0.7" fill-opacity="0.7"/><circle cx="440.2" cy="153.2" r="0.8" fill-opacity="0.7"/><circle cx="440.9" cy="153.2" r="0.7" fill-opacity="0.8"/><circle cx="449.7" cy="152.3" r="0.9" fill-opacity="0.8"/><circle cx="450" cy="151.8" r="1.2" fill-opacity="0.8"/><circle cx="446.9" cy="152.6" r="1.2" fill-opacity="0.7"/><circle cx="455.6" cy="150.4" r="0.8" fill-opacity="0.6"/><circle cx="454.7" cy="150.4" r="0.7" fill-opacity="0.8"/><circle cx="451.6" cy="151.3" r="0.6" fill-opacity="0.7"/><circle cx="461.9" cy="150.4" r="0.9" fill-opacity="0.5"/><circle cx="462.3" cy="149.8" r="1" fill-opacity="0.8"/><circle cx="462.3" cy="150.8" r="1.2" fill-opacity="0.6"/><circle cx="468.7" cy="149.6" r="0.8" fill-opacity="0.7"/><circle cx="463.3" cy="150.8" r="1.1" fill-opacity="0.7"/><circle cx="464.2" cy="149.9" r="0.8" fill-opacity="0.7"/><circle cx="465.9" cy="149.8" r="0.9" fill-opacity="0.7"/><circle cx="473.9" cy="149.9" r="1.1" fill-opacity="0.6"/><circle cx="469.3" cy="148.8" r="1.1" fill-opacity="0.9"/><circle cx="471.9" cy="149.2" r="1.1" fill-opacity="0.7"/><circle cx="480.2" cy="150.8" r="1.2" fill-opacity="0.8"/><circle cx="480.1" cy="149.8" r="0.8" fill-opacity="0.7"/><circle cx="480.5" cy="150.7" r="1.2" fill-opacity="0.7"/><circle cx="485.5" cy="151.4" r="0.7" fill-opacity="0.7"/><circle cx="483.9" cy="151.1" r="0.7" fill-opacity="0.8"/></g>
<path d="M368.5,251.6 C367.8,251.1 365.6,249.4 364.3,248.3 C362.9,247.3 361.1,244.7 360.3,245.3 C359.5,245.9 359.8,249.6 359.6,251.7 C359.3,253.8 358.8,255.9 358.9,258.1 C359.1,260.2 360,262.5 360.5,264.5 C361,266.6 361.4,268.4 362,270.3 C362.6,272.3 363.4,274.4 364.1,276.3 C364.8,278.2 365.7,281.1 366,282" fill="none" stroke="#fff" stroke-width="1" stroke-opacity="0.8" stroke-linecap="round" stroke-linejoin="round" filter="url(#b1)"/>
<g fill="#fff" filter="url(#b1)"><circle cx="368" cy="251.2" r="0.9" fill-opacity="1"/><circle cx="363.2" cy="247.9" r="0.9" fill-opacity="0.8"/><circle cx="360.3" cy="245.1" r="0.8" fill-opacity="0.9"/><circle cx="359" cy="251.8" r="0.9" fill-opacity="0.9"/><circle cx="359.8" cy="262.3" r="0.9" fill-opacity="1"/><circle cx="361.5" cy="269.5" r="1.2" fill-opacity="0.8"/><circle cx="363.1" cy="273.9" r="1.1" fill-opacity="0.9"/><circle cx="364.5" cy="279.4" r="0.7" fill-opacity="1"/></g>
<path d="M358.2,407.4 C359.4,406.6 363.3,403.8 365.2,402.5 C367.1,401.3 368.1,400.8 369.6,400 C371.1,399.1 371.8,398.2 374.1,397.4 C376.3,396.6 380.5,395.7 382.8,395.2 C385.2,394.7 386.4,394.7 388.3,394.6 C390.2,394.5 393.2,394.4 394.2,394.4" fill="none" stroke="#fff" stroke-width="5.8" stroke-opacity="0.35" stroke-linecap="round" stroke-linejoin="round" filter="url(#b3)"/>
<path d="M358.2,407.4 C359.4,406.6 363.3,403.8 365.2,402.5 C367.1,401.3 368.1,400.8 369.6,400 C371.1,399.1 371.8,398.2 374.1,397.4 C376.3,396.6 380.5,395.7 382.8,395.2 C385.2,394.7 386.4,394.7 388.3,394.6 C390.2,394.5 393.2,394.4 394.2,394.4" fill="none" stroke="#fff" stroke-width="2.3" stroke-opacity="1" stroke-linecap="round" stroke-linejoin="round" filter="url(#b1)"/>
<path d="M394.2,394.4 C395.2,394.6 398.1,395.1 400,395.3 C401.9,395.6 403.8,395.9 405.8,395.8 C407.7,395.6 409.1,395.3 411.5,394.3 C413.9,393.4 417.9,391.5 420,390.2 C422.2,389 423,388.1 424.5,386.9 C425.9,385.8 427.3,384.7 428.6,383.4 C430,382.2 431.2,380.7 432.4,379.3 C433.7,377.8 435.7,375.5 436.4,374.8" fill="none" stroke="#fff" stroke-width="1.6" stroke-opacity="1" stroke-linecap="round" stroke-linejoin="round" filter="url(#b1)"/>
<path d="M343,413 C350,408 358,403 366,400 C372,397.5 377,395.5 383,394 L384,397.5 C376,399.5 368,403.5 362,408 L356,413.5 Z" fill="#fff" filter="url(#b1)"/>
<path d="M405.8,395.9 C407.2,396.8 411.8,399.9 414.4,401.6 C417,403.3 420.4,405.3 421.6,406" fill="none" stroke="#fff" stroke-width="1.6" stroke-opacity="1" stroke-linecap="round" stroke-linejoin="round" filter="url(#b1)"/>
<path d="M374,397 C373.9,396.1 373.3,393.2 373.6,391.5 C373.9,389.8 375.2,386.9 376,386.5 C376.8,386.1 378,387.7 378.6,389 C379.2,390.3 379.6,393.5 379.8,394.4" fill="none" stroke="#fff" stroke-width="2.2" stroke-opacity="1" stroke-linecap="round" stroke-linejoin="round" filter="url(#b1)"/>
<ellipse cx="376.6" cy="391" rx="3" ry="5.2" fill="#fff" transform="rotate(12 376.6 391)" filter="url(#b1)"/>
<path d="M379,390 C379.4,388.8 381,385.2 381.6,383 C382.2,380.9 382.3,378 382.5,377" fill="none" stroke="#fff" stroke-width="1.3" stroke-opacity="0.9" stroke-linecap="round" stroke-linejoin="round" filter="url(#b1)"/>
<ellipse cx="382.5" cy="379" rx="4" ry="5.5" fill="#fff" fill-opacity="0.5" filter="url(#b3)"/>
<path d="M336.5,440.6 C335.8,442 333.5,446.4 332.2,449.2 C330.9,452 329.1,455.9 328.5,457.3" fill="none" stroke="#fff" stroke-width="2.1" stroke-opacity="1" stroke-linecap="round" stroke-linejoin="round" filter="url(#b1)"/>
<path d="M328.5,457.3 C326.9,457 321.8,456.5 319,455.6 C316.3,454.6 313.2,452.2 312,451.5" fill="none" stroke="#fff" stroke-width="1.2" stroke-opacity="0.9" stroke-linecap="round" stroke-linejoin="round" filter="url(#b1)"/>
<path d="M328.5,457.3 C327.7,458.4 324.9,461.8 323.6,463.6 C322.4,465.4 321.4,467.3 321,468" fill="none" stroke="#fff" stroke-width="0.8" stroke-opacity="0.6" stroke-linecap="round" stroke-linejoin="round" filter="url(#b1)"/>
<path d="M341.7,441.1 C341.4,442.7 339.9,447.7 339.9,450.8 C340,453.9 340.6,457.2 342.1,459.6 C343.7,462 347.3,464 349.4,465.1 C351.5,466.3 352.9,466 354.5,466.5 C356.2,466.9 357.7,466.9 359.3,467.7 C360.9,468.5 362.7,470.1 364.2,471.1 C365.7,472.1 367.6,473.3 368.3,473.7" fill="none" stroke="#fff" stroke-width="1.1" stroke-opacity="0.8" stroke-linecap="round" stroke-linejoin="round" filter="url(#b1)"/>
<path d="M349,412.2 L424,413.6 a4.4,4.4 0 0 1 0,8.8 L356,423.4 Z" fill="#cdcdcd"/>
<path d="M340,415.2 C343,411.5 348,410.8 352,411.5 L357.5,423 C357,428 355.3,431 355.3,431 C354,435 351,437.7 351,437.7 C348,441 343,441.5 342.3,441.1 C339,441 335.1,439.1 335.1,439.1 C333,436 333,432 333.1,431.9 C333.3,427 334.2,423.3 334.2,423.3 C335,420 336.5,418.1 340,415.2 Z" fill="#cdcdcd"/>
<use href="#ah" fill="#f6e72a" transform="translate(414.2 180.6) rotate(40)"/>
<use href="#ah" fill="#f6e72a" transform="translate(386.4 201.5) rotate(14)"/>
<use href="#ah" fill="#f6e72a" transform="translate(375.8 246.2) rotate(12)"/>
<use href="#ah" fill="#f6e72a" transform="translate(365 332) rotate(17)"/>
<use href="#ah" fill="#f6e72a" transform="translate(348.8 376.9) rotate(12)"/>
</g>
<text x="336" y="65.6" font-size="16" text-anchor="start" font-weight="bold" fill="#f6e72a">Alexa 594</text>
<line x1="350.5" y1="522" x2="416.5" y2="522" stroke="#f6e72a" stroke-width="2.3"/>
<text x="384" y="515.5" font-size="13.2" text-anchor="middle" font-weight="normal" fill="#f6e72a">50 μm</text>
<rect x="27.5" y="536" width="200.5" height="75.4" fill="#000"/>
<g clip-path="url(#csl)">
<path d="M25,565 C27.5,565.8 35.8,568 40,569.5 C44.2,571 45,572.3 50.2,573.8 C55.4,575.3 63.8,577.4 71.4,578.4 C79,579.4 86.5,580 95.6,579.9 C104.7,579.8 117.8,578.5 125.8,577.7 C133.8,576.9 136.3,575.9 143.9,575.3 C151.5,574.6 163,574 171.1,573.8 C179.2,573.5 185.5,573.5 192.3,573.8 C199.1,574 205.6,574.1 211.9,575.3 C218.2,576.5 227,580 230,581" fill="none" stroke="#fff" stroke-opacity="0.25" stroke-width="3.2" filter="url(#b3)"/>
<ellipse cx="72" cy="578" rx="4.5" ry="4" fill="#fff" fill-opacity="0.9" filter="url(#b3)"/>
<ellipse cx="126" cy="577.5" rx="5" ry="4.5" fill="#fff" fill-opacity="0.5" filter="url(#b3)"/>
<ellipse cx="144.5" cy="575" rx="5" ry="3.5" fill="#fff" fill-opacity="0.4" filter="url(#b3)"/>
<ellipse cx="212" cy="575" rx="6" ry="5" fill="#fff" fill-opacity="0.6" filter="url(#b3)"/>
<ellipse cx="172" cy="574" rx="6" ry="2.2" fill="#fff" fill-opacity="0.2" filter="url(#b3)"/>
<ellipse cx="192" cy="574" rx="5" ry="2" fill="#fff" fill-opacity="0.2" filter="url(#b3)"/>
<ellipse cx="72" cy="578" rx="2" ry="1.8" fill="#fff" filter="url(#b2)"/>
<g transform="translate(47.4 601.2) rotate(-39.5)" stroke="#f6e72a" fill="none" stroke-width="2.4">
<path d="M15.5,0 H70.4" stroke-dasharray="5.2 3.1"/>
<path d="M78.4,0 L65.9,-5.2 L69.9,0 L65.9,5.2 Z" fill="#f6e72a" stroke="none"/>
<path d="M4.5,-0.35 L13,-0.35 L8.5,-4.6 L0,-4.6 Z M4.5,0.35 L13,0.35 L8.5,4.6 L0,4.6 Z" fill="#f6e72a" stroke="none"/>
</g>
</g>
<rect x="255.5" y="536" width="199" height="75.4" fill="#000"/>
<g clip-path="url(#csr)">
<path d="M252,568 C252.8,568.2 252.4,568.5 257.1,569.3 C261.8,570 272.4,571.6 280,572.5 C287.6,573.4 294.1,574 302.4,574.7 C310.7,575.4 321,576.3 329.6,576.8 C338.2,577.3 345.2,577.4 353.8,577.7 C362.4,578 373.2,578.5 381,578.4 C388.8,578.2 393.1,577.6 400.6,576.8 C408.2,576 416.7,574.6 426.3,573.8 C435.9,573 452.7,572.3 458,572" fill="none" stroke="#fff" stroke-opacity="0.25" stroke-width="3.2" filter="url(#b3)"/>
<ellipse cx="302.5" cy="574.7" rx="5" ry="4" fill="#fff" fill-opacity="0.5" filter="url(#b3)"/>
<ellipse cx="354" cy="577.7" rx="5" ry="4.5" fill="#fff" fill-opacity="0.8" filter="url(#b3)"/>
<ellipse cx="401" cy="576.8" rx="4.5" ry="4.5" fill="#fff" fill-opacity="0.7" filter="url(#b3)"/>
<ellipse cx="448" cy="572.5" rx="6" ry="3" fill="#fff" fill-opacity="0.2" filter="url(#b3)"/>
<g transform="translate(328.5 601.2) rotate(-40.5)" stroke="#f6e72a" fill="none" stroke-width="2.4">
<path d="M15.5,0 H68.7" stroke-dasharray="5.2 3.1"/>
<path d="M76.7,0 L64.2,-5.2 L68.2,0 L64.2,5.2 Z" fill="#f6e72a" stroke="none"/>
<path d="M4.5,-0.35 L13,-0.35 L8.5,-4.6 L0,-4.6 Z M4.5,0.35 L13,0.35 L8.5,4.6 L0,4.6 Z" fill="#f6e72a" stroke="none"/>
</g>
</g>
<line x1="395.2" y1="605" x2="446" y2="605" stroke="#f6e72a" stroke-width="2.3"/>
<text x="418.5" y="598.5" font-size="13.2" text-anchor="middle" font-weight="normal" fill="#f6e72a">5 μm</text>
<text x="533.6" y="36.3" font-size="19.5" text-anchor="start" font-weight="bold" fill="#000">B</text>
<line x1="584.1" y1="58.7" x2="584.1" y2="193.8" stroke="#111" stroke-width="1.4"/>
<line x1="583.4" y1="193.1" x2="674" y2="193.1" stroke="#111" stroke-width="1.4"/>
<line x1="578.6" y1="193.1" x2="584.1" y2="193.1" stroke="#111" stroke-width="1.4"/>
<text x="575.6" y="198.5" font-size="15" text-anchor="end" font-weight="normal" fill="#111">0</text>
<line x1="578.6" y1="148.5" x2="584.1" y2="148.5" stroke="#111" stroke-width="1.4"/>
<text x="575.6" y="153.9" font-size="15" text-anchor="end" font-weight="normal" fill="#111">2</text>
<line x1="578.6" y1="103.9" x2="584.1" y2="103.9" stroke="#111" stroke-width="1.4"/>
<text x="575.6" y="109.3" font-size="15" text-anchor="end" font-weight="normal" fill="#111">4</text>
<line x1="578.6" y1="59.3" x2="584.1" y2="59.3" stroke="#111" stroke-width="1.4"/>
<text x="575.6" y="64.7" font-size="15" text-anchor="end" font-weight="normal" fill="#111">6</text>
<line x1="580.9" y1="170.8" x2="584.1" y2="170.8" stroke="#111" stroke-width="1.4"/>
<line x1="580.9" y1="126.2" x2="584.1" y2="126.2" stroke="#111" stroke-width="1.4"/>
<line x1="580.9" y1="81.6" x2="584.1" y2="81.6" stroke="#111" stroke-width="1.4"/>
<line x1="606" y1="193.1" x2="606" y2="197.7" stroke="#111" stroke-width="1.4"/>
<line x1="650.6" y1="193.1" x2="650.6" y2="197.7" stroke="#111" stroke-width="1.4"/>
<text x="554.5" y="127" font-size="15.9" text-anchor="middle" font-weight="normal" fill="#111" transform="rotate(-90 554.5 127)">Bouton density / 10 μm</text>
<text x="606.3" y="69.6" font-size="15" text-anchor="middle" font-weight="normal" fill="#111">37/8</text>
<text x="650.5" y="69.6" font-size="15" text-anchor="middle" font-weight="normal" fill="#111">38/7</text>
<text x="616.2" y="207.8" font-size="15.8" text-anchor="end" font-weight="normal" fill="#111" transform="rotate(-45 616.2 207.8)">Ctrl.</text>
<text x="658.7" y="207.8" font-size="15.8" text-anchor="end" font-weight="normal" fill="#111" transform="rotate(-45 658.7 207.8)">cKO</text>
<g fill="#808080"><circle cx="601.4" cy="94.2" r="3.75"/><circle cx="610.5" cy="94.2" r="3.75"/><circle cx="596.9" cy="101.7" r="3.75"/><circle cx="615" cy="105.1" r="3.75"/><circle cx="595.4" cy="110.8" r="3.75"/><circle cx="606" cy="110.5" r="3.75"/><circle cx="616.6" cy="110.5" r="3.75"/><circle cx="600.7" cy="115.3" r="3.75"/><circle cx="611" cy="115.3" r="3.75"/><circle cx="606" cy="120.5" r="3.75"/><circle cx="595.4" cy="122.9" r="3.75"/><circle cx="616.6" cy="124.4" r="3.75"/><circle cx="600.7" cy="126.2" r="3.75"/><circle cx="611.3" cy="126.2" r="3.75"/><circle cx="597.7" cy="133.5" r="3.75"/><circle cx="614.3" cy="133.5" r="3.75"/><circle cx="606" cy="130.4" r="3.75"/><circle cx="601.4" cy="136.5" r="3.75"/><circle cx="610.5" cy="136.5" r="3.75"/><circle cx="596.2" cy="140.7" r="3.75"/><circle cx="615.8" cy="140.7" r="3.75"/><circle cx="606" cy="139.8" r="3.75"/><circle cx="599.9" cy="144.3" r="3.75"/><circle cx="612" cy="144.3" r="3.75"/><circle cx="606" cy="145.1" r="3.75"/><circle cx="603" cy="149.6" r="3.75"/><circle cx="609" cy="148.9" r="3.75"/><circle cx="595.4" cy="155.4" r="3.75"/><circle cx="616.6" cy="152.8" r="3.75"/><circle cx="600.7" cy="160.7" r="3.75"/><circle cx="606" cy="162.5" r="3.75"/><circle cx="611.3" cy="159.2" r="3.75"/><circle cx="606" cy="177.3" r="3.75"/><circle cx="594.3" cy="136.8" r="3.75"/><circle cx="617.6" cy="136.8" r="3.75"/><circle cx="606" cy="135" r="3.75"/><circle cx="606" cy="152.8" r="3.75"/></g>
<g fill="none" stroke="#808080" stroke-width="1.45"><circle cx="646" cy="85.9" r="3.25"/><circle cx="655.1" cy="90.4" r="3.25"/><circle cx="662.3" cy="92.4" r="3.25"/><circle cx="639.2" cy="93.9" r="3.25"/><circle cx="654.3" cy="98" r="3.25"/><circle cx="646.8" cy="101" r="3.25"/><circle cx="650.2" cy="112.8" r="3.25"/><circle cx="640" cy="118.4" r="3.25"/><circle cx="661.4" cy="121.4" r="3.25"/><circle cx="645.3" cy="122.1" r="3.25"/><circle cx="655.8" cy="122.6" r="3.25"/><circle cx="650.6" cy="125.6" r="3.25"/><circle cx="639.2" cy="128.2" r="3.25"/><circle cx="661.4" cy="128.2" r="3.25"/><circle cx="643.8" cy="130.4" r="3.25"/><circle cx="657.4" cy="130.4" r="3.25"/><circle cx="650.6" cy="131.2" r="3.25"/><circle cx="640" cy="136.5" r="3.25"/><circle cx="661.4" cy="136" r="3.25"/><circle cx="643.8" cy="139.8" r="3.25"/><circle cx="657.4" cy="139.8" r="3.25"/><circle cx="647.5" cy="142.8" r="3.25"/><circle cx="653.6" cy="142.8" r="3.25"/><circle cx="650.6" cy="145.9" r="3.25"/><circle cx="639.2" cy="145.6" r="3.25"/><circle cx="661.9" cy="147.8" r="3.25"/><circle cx="646" cy="149.3" r="3.25"/><circle cx="654.3" cy="154.9" r="3.25"/><circle cx="655.1" cy="162.2" r="3.25"/><circle cx="645.7" cy="165.2" r="3.25"/><circle cx="647.2" cy="134.2" r="3.25"/><circle cx="653.9" cy="134.2" r="3.25"/><circle cx="650.6" cy="137.2" r="3.25"/><circle cx="641.5" cy="132.7" r="3.25"/><circle cx="659.6" cy="132.7" r="3.25"/><circle cx="645.3" cy="136.5" r="3.25"/><circle cx="655.8" cy="136.5" r="3.25"/><circle cx="650.6" cy="141" r="3.25"/></g>
<line x1="591.3" y1="132.9" x2="620" y2="132.9" stroke="#000" stroke-width="2.4"/>
<line x1="598.7" y1="129" x2="613.4" y2="129" stroke="#000" stroke-width="1.9"/>
<line x1="598.7" y1="136.8" x2="613.4" y2="136.8" stroke="#000" stroke-width="1.9"/>
<line x1="606" y1="129" x2="606" y2="136.8" stroke="#000" stroke-width="1.9"/>
<line x1="635.6" y1="129.5" x2="665" y2="129.5" stroke="#7b3799" stroke-width="2.4"/>
<line x1="643" y1="126.3" x2="658" y2="126.3" stroke="#7b3799" stroke-width="1.9"/>
<line x1="643" y1="132.7" x2="658" y2="132.7" stroke="#7b3799" stroke-width="1.9"/>
<line x1="650.5" y1="126.3" x2="650.5" y2="132.7" stroke="#7b3799" stroke-width="1.9"/>
<text x="533" y="259" font-size="19.5" text-anchor="start" font-weight="bold" fill="#000">C</text>
<text x="606.6" y="265.5" font-size="16.2" text-anchor="middle" font-weight="normal" fill="#111">SST-Cre Ctrl.</text>
<text x="604.7" y="426.8" font-size="16" text-anchor="middle" font-weight="normal" fill="#111">SST-Nrxn123 cKO</text>
<polyline points="524.2,379.9 549,379.9 550.4,375.3 551.7,371.3 553.1,367.8 554.4,364.9 555.8,362.3 557.2,360.1 558.5,358.2 559.9,356.6 561.2,355.2 562.6,354 562.9,351 563.2,271.7 563.7,365.5 564.3,364 565,362.2 565.7,361.2 566.4,360.3 567.1,359.2 567.7,357.7 568.4,355.9 569.1,353.7 569.8,351 570,348 570.4,276 570.9,361.2 571.5,359.7 572.7,358.1 574,357.2 575.2,356.4 576.4,355.4 577.6,354.2 578.9,352.6 580.1,350.6 581.3,348.2 581.5,345.2 581.9,276 582.4,358.5 583,357 584.4,355.5 585.8,354.7 587.2,353.9 588.6,352.9 590.1,351.7 591.5,350.2 592.9,348.4 594.3,346.1 594.5,343.1 594.9,276 595.4,358.3 596,356.8 597.6,355.3 599.2,354.4 600.9,353.6 602.5,352.6 604.1,351.4 605.8,349.8 607.4,347.9 609,345.6 609.2,342.6 609.6,276 610.1,358.3 610.7,356.8 612.9,355.2 615.1,354.3 617.3,353.5 619.5,352.5 621.7,351.3 623.9,349.7 626.1,347.7 628.3,345.3 628.5,342.3 628.9,276 629.4,359 630,357.5 632,355.7 633.9,354.7 635.9,353.8 637.8,352.6 639.8,351.2 641.7,349.4 643.7,347.1 645.6,344.4 645.9,341.4 646.2,276 646.7,361.2 647.3,359.7 649,362.9 650.7,365.7 652.4,368 654.1,369.9 655.8,371.5 657.5,372.8 659.2,374 660.9,374.9 662.6,375.7 664.3,376.4 666,377 667.7,377.4 669.3,377.8 671,378.2 672.7,378.4 674.4,378.7 676.1,378.9 677.8,379 679.5,379.2 681.2,379.3 682.9,379.4 684.6,379.5 686.3,379.5 688,379.6" fill="none" stroke="#111" stroke-width="1.4" stroke-linejoin="round"/>
<polyline points="524.2,393.4 550.2,393.4 550.2,387.7 650,387.7 650,393.4 688,393.4" fill="none" stroke="#111" stroke-width="1.5"/>
<text x="604.8" y="383.4" font-size="14.2" text-anchor="middle" font-weight="normal" fill="#111">50 pA</text>
<polyline points="524.2,542.1 546.7,542.1 547.9,538.3 549,535.1 550.1,532.3 551.3,529.8 552.5,527.8 553.6,526 554.8,524.4 555.9,523.1 557,522 558.2,521 558.4,518 558.8,436.5 559.2,529.2 559.9,527.7 560.5,526.2 561.1,525.3 561.8,524.6 562.4,523.6 563,522.4 563.6,520.9 564.3,519 564.9,516.7 565.1,513.7 565.5,436.5 566,526.3 566.6,524.8 567.8,523.5 569.1,522.8 570.3,522.1 571.5,521.3 572.7,520.2 574,518.9 575.2,517.3 576.4,515.3 576.6,512.3 577,436.5 577.5,522.5 578.1,521 579.4,520 580.6,519.5 581.9,518.9 583.1,518.3 584.4,517.5 585.7,516.5 586.9,515.3 588.2,513.8 588.4,510.8 588.8,436.5 589.2,520.5 589.9,519 591.2,518.1 592.5,517.6 593.7,517.1 595,516.5 596.3,515.8 597.6,514.9 598.8,513.8 600.1,512.4 600.4,509.4 600.7,436.5 601.2,518.8 601.8,517.3 603.5,516.6 605.2,516.3 606.9,515.9 608.6,515.5 610.3,514.9 612,514.3 613.7,513.4 615.4,512.4 615.6,509.4 616,436.5 616.5,518.8 617.1,517.3 619.8,516.2 622.4,515.6 625.1,515.1 627.8,514.4 630.4,513.5 633.1,512.5 635.7,511.1 638.4,509.5 638.6,506.5 639,436.5 639.5,519.7 640.1,518.2 647.7,518.8 649.4,522.5 651.1,525.7 652.7,528.3 654.4,530.5 656.1,532.4 657.8,533.9 659.5,535.3 661.1,536.4 662.8,537.3 664.5,538.1 666.2,538.7 667.9,539.2 669.5,539.7 671.2,540.1 672.9,540.4 674.6,540.7 676.2,540.9 677.9,541.1 679.6,541.3 681.3,541.4 683,541.5 684.6,541.6 686.3,541.7 688,541.8" fill="none" stroke="#7b3799" stroke-width="1.4" stroke-linejoin="round"/>
<polyline points="524.2,554.2 547.6,554.2 547.6,549.3 647.7,549.3 647.7,554.2 688,554.2" fill="none" stroke="#111" stroke-width="1.5"/>
<text x="604.8" y="544.2" font-size="14.2" text-anchor="middle" font-weight="normal" fill="#111">50 pA</text>
<polyline points="657.8,571.5 697.6,571.5 697.6,551.3" fill="none" stroke="#111" stroke-width="1.3"/>
<text x="678.3" y="585.5" font-size="12.6" text-anchor="middle" font-weight="normal" fill="#111">0.2 s</text>
<text x="715" y="558.5" font-size="12.6" text-anchor="middle" font-weight="normal" fill="#111" transform="rotate(-90 715 558.5)">20 mV</text>
<text x="27.5" y="637.6" font-size="19.5" text-anchor="start" font-weight="bold" fill="#000">D</text>
<text x="47.3" y="662.8" font-size="17.7" text-anchor="start" font-weight="bold" fill="#111" stroke="#111" stroke-width="0.25">SST-Cre Control</text>
<text x="47.3" y="680.2" font-size="17.7" text-anchor="start" font-weight="bold" fill="#7b3799" stroke="#7b3799" stroke-width="0.25">SST-Cre Nrxn123 cKO</text>
<polyline points="44.7,751.5 45.5,751.7 46.3,752.3 47.1,751.9 47.9,751.8 48.7,751.8 49.5,751.3 50.3,751.4 51.1,751.7 51.9,752.1 52.7,751.3 53.5,746.9 54.3,735.1 55.1,726.4 55.9,729.4 56.7,730.9 57.5,733.9 58.3,736.1 59.1,737.4 59.9,738.5 60.7,738.8 61.5,739.2 62.3,740.4 63.1,740.7 63.9,741.3 64.7,741.9 65.5,742.1 66.3,743 67.1,743.7 67.9,744.8 68.7,745 69.5,745.4 70.3,745.5 71.1,745.9 71.9,745.9 72.7,745.7 73.5,746.8 74.3,747.4 75.1,747.6 75.9,747.6 76.7,747 77.5,746.6 78.3,746.6 79.1,746.2 79.9,747.2 80.7,747.2 81.5,747.9 82.3,747.6 83.1,748.4 83.9,748.6 84.7,747.6 85.5,747.3 86.3,748.3 87.1,748.2 87.9,748.9 88.7,748.5 89.5,747.8 90.3,748.2 91.1,748.7 91.9,748.3 92.7,747.8 93.5,747.9 94.3,748.9 95.1,749.2 95.9,748.4 96.7,748.2 97.5,747.9 98.3,747.7 99.1,748.7 99.9,748.3 100.7,748.7 101.5,748.8 102.3,748.5 103.1,749.1 103.9,748.6 104.7,749.1 105.5,748.6 106.3,748.8 107.1,748.6 107.9,748.6 108.7,749.7 109.5,750 110.3,749.5 111.1,750.1 111.9,749.4 112.7,749.3 113.5,749.9 114.3,750 115.1,749.2 115.9,750.2 116.7,749.5 117.5,749.2 118.3,749.9 119.1,749.5 119.9,749.3 120.7,748.9 121.5,748.7 122.3,749.3 123.1,749.2 123.9,749.6 124.7,749.6 125.5,749.6 126.3,750.5 127.1,750.2 127.9,750.2 128.7,750.6 129.5,749.9 130.3,749.4 131.1,750.3 131.9,750.7 132.7,750 133.5,749.6 134.3,750.2 135.1,750.8 135.9,750 136.7,750.7 137.5,751 138.3,750.8 139.1,750.4 139.9,749.7 140.7,749.2 141.5,750.3 142.3,749.9 143.1,750.3 143.9,749.9 144.7,750.5 145.5,750.5 146.3,750.1 147.1,749.7 147.9,750.3 148.7,749.6 149.5,749.5 150.3,749.9 151.1,750.6 151.9,750.7 152.7,750.2 153.5,750.9 154.3,750.2 155.1,749.5 155.9,749.5 156.7,749.8 157.5,749.4 158.3,749.3 159.1,749.6 159.9,750.1 160.7,749.6 161.5,749.8 162.3,750.6 163.1,751.2 163.9,751.1 164.7,751.1 165.5,750.9 166.3,750.1" fill="none" stroke="#111" stroke-width="3" stroke-linejoin="round" stroke-linecap="round"/>
<polyline points="169.7,750.9 170.5,750.5 171.3,751.6 172.1,751.9 172.9,752.5 173.7,751.4 174.5,751.7 175.3,751.6 176.1,752 176.9,751.5 177.7,752.3 178.5,740.9 179.3,724.2 180.1,710.3 180.9,713.9 181.7,716.8 182.5,719.3 183.3,721.7 184.1,724 184.9,725.2 185.7,727 186.5,728.9 187.3,730.5 188.1,731.2 188.9,732.6 189.7,733.9 190.5,734.5 191.3,735.3 192.1,735.7 192.9,736.5 193.7,737.3 194.5,737.2 195.3,738.2 196.1,739.5 196.9,740.2 197.7,740.6 198.5,740.5 199.3,741.1 200.1,741.3 200.9,741.4 201.7,742.2 202.5,741.6 203.3,742.4 204.1,741.8 204.9,742.5 205.7,742.8 206.5,742.7 207.3,743.4 208.1,743.6 208.9,744 209.7,744.7 210.5,744.2 211.3,743.6 212.1,743.8 212.9,744.5 213.7,744.3 214.5,744.2 215.3,745.3 216.1,745.5 216.9,745.4 217.7,746.1 218.5,745.7 219.3,746 220.1,745.5 220.9,745.7 221.7,746.3 222.5,746.9 223.3,747.2 224.1,746.7 224.9,746.7 225.7,746.4 226.5,746 227.3,746.3 228.1,747.1 228.9,747.5 229.7,747.6 230.5,748 231.3,747.3 232.1,746.8 232.9,746.9 233.7,746.8 234.5,746.6 235.3,746.9 236.1,747.4 236.9,747.5 237.7,747.3 238.5,748 239.3,748.6 240.1,748.2 240.9,747.4 241.7,746.9 242.5,748 243.3,747.3 244.1,748 244.9,748.1 245.7,747.9 246.5,748.5 247.3,747.6 248.1,747.4 248.9,747.7 249.7,747.3 250.5,748.3 251.3,748 252.1,747.7 252.9,747.4 253.7,748.1 254.5,748.2 255.3,748.6 256.1,748.9 256.9,749.2 257.7,749.7 258.5,749.5 259.3,748.7 260.1,748.7 260.9,748.3 261.7,747.8 262.5,748.3 263.3,748.9 264.1,748.4 264.9,748.3 265.7,748.4 266.5,749 267.3,749 268.1,749.2 268.9,749.5 269.7,749.2 270.5,749.6 271.3,750 272.1,749 272.9,749.7 273.7,749.8 274.5,749 275.3,749 276.1,749.3 276.9,749.9 277.7,749.4 278.5,749.5 279.3,750 280.1,750.1 280.9,750.4 281.7,749.9 282.5,749.9 283.3,749.2 284.1,749.6 284.9,750 285.7,750 286.5,750 287.3,749.3 288.1,750 288.9,750.5 289.7,750.7 290.5,750.2" fill="none" stroke="#111" stroke-width="3" stroke-linejoin="round" stroke-linecap="round"/>
<polyline points="293.9,752 294.7,751.6 295.5,752.2 296.3,752.5 297.1,751.8 297.9,751.1 298.7,751.2 299.5,751.5 300.3,751.9 301.1,751.8 301.9,751 302.7,751.7 303.5,735.3 304.3,718.1 305.1,699.6 305.9,681.6 306.7,676.4 307.5,681.5 308.3,686.3 309.1,691.2 309.9,695.8 310.7,699.8 311.5,703.1 312.3,706.4 313.1,708.6 313.9,711.4 314.7,712.5 315.5,714.1 316.3,716.1 317.1,717.5 317.9,719.5 318.7,721 319.5,722.2 320.3,723.8 321.1,724.7 321.9,725.2 322.7,725.9 323.5,727.4 324.3,728.6 325.1,728.5 325.9,729.8 326.7,730.9 327.5,731.1 328.3,731.5 329.1,731.5 329.9,732.1 330.7,732.7 331.5,733.3 332.3,733 333.1,734.5 333.9,734.7 334.7,734.9 335.5,735.8 336.3,736 337.1,736.2 337.9,736.8 338.7,736.3 339.5,736.9 340.3,737.2 341.1,738.3 341.9,738.9 342.7,738.5 343.5,738.6 344.3,738.3 345.1,738.7 345.9,739.6 346.7,740.3 347.5,740.2 348.3,740 349.1,739.8 349.9,740.4 350.7,741.3 351.5,740.7 352.3,741.4 353.1,740.8 353.9,740.7 354.7,740.9 355.5,741.7 356.3,741.7 357.1,741.8 357.9,742.3 358.7,741.9 359.5,742.7 360.3,742.3 361.1,742.7 361.9,742.6 362.7,742.5 363.5,743.1 364.3,743.3 365.1,743.3 365.9,743.5 366.7,743.8 367.5,743.5 368.3,743.4 369.1,744.1 369.9,744.5 370.7,744.6 371.5,745.2 372.3,745.2 373.1,745.6 373.9,744.9 374.7,745.4 375.5,745.8 376.3,746.1 377.1,745.5 377.9,745.2 378.7,746 379.5,745.4 380.3,746.3 381.1,746.6 381.9,745.7 382.7,745.4 383.5,746 384.3,745.6 385.1,745.2 385.9,746.1 386.7,746.1 387.5,746.6 388.3,745.9 389.1,746 389.9,746.5 390.7,745.8 391.5,745.7 392.3,746.4 393.1,747.1 393.9,747.6 394.7,746.6 395.5,746.7 396.3,747.2 397.1,747 397.9,747.3 398.7,746.7 399.5,746.2 400.3,746 401.1,745.8 401.9,746.4 402.7,746.8 403.5,747.1 404.3,746.6 405.1,746.4 405.9,746.4 406.7,747.3 407.5,748 408.3,748.4 409.1,747.3 409.9,746.7 410.7,747.7 411.5,747.6 412.3,747.9 413.1,747.5 413.9,747.5 414.7,747.5" fill="none" stroke="#111" stroke-width="3" stroke-linejoin="round" stroke-linecap="round"/>
<polyline points="418.2,751.5 419,751.7 419.8,750.9 420.6,751.5 421.4,752.1 422.2,751.4 423,751.4 423.8,751.9 424.6,751.6 425.4,751.1 426.2,750.8 427,727.5 427.8,709.8 428.6,696.1 429.4,683.6 430.2,672.6 431,663.6 431.8,655.9 432.6,649.9 433.4,646.2 434.2,644.4 435,648.4 435.8,653.7 436.6,657.8 437.4,663 438.2,667.3 439,671.3 439.8,675.1 440.6,678 441.4,681.6 442.2,684.9 443,687.5 443.8,690.2 444.6,692.6 445.4,694.4 446.2,696.8 447,697.9 447.8,699.8 448.6,701.7 449.4,702.8 450.2,704.6 451,706.6 451.8,708.3 452.6,709.2 453.4,711.3 454.2,712.5 455,713.2 455.8,714.5 456.6,715.5 457.4,716.4 458.2,717.1 459,718.7 459.8,719.4 460.6,720.3 461.4,721.1 462.2,722.2 463,721.7 463.8,722.6 464.6,723.5 465.4,723.6 466.2,724.1 467,724.1 467.8,724.5 468.6,725.2 469.4,725.4 470.2,726 471,727.5 471.8,727.9 472.6,728.3 473.4,729.4 474.2,729.6 475,730.5 475.8,730.6 476.6,731.1 477.4,730.4 478.2,731 479,731.6 479.8,731.1 480.6,732.3 481.4,731.9 482.2,732.3 483,732.2 483.8,732.7 484.6,733.3 485.4,732.9 486.2,734.2 487,734.2 487.8,734.4 488.6,734.8 489.4,734.8 490.2,734.7 491,735.3 491.8,735.6 492.6,735.5 493.4,736.2 494.2,736 495,735.5 495.8,735.7 496.6,735.6 497.4,735.8 498.2,736.9 499,737.1 499.8,738 500.6,738.3 501.4,737.5 502.2,738.6 503,739.2 503.8,738.3 504.6,739.1 505.4,738.9 506.2,738.9 507,739.8 507.8,739.2 508.6,739.4 509.4,740.1 510.2,740.3 511,740.1 511.8,740.8 512.6,741 513.4,740.8 514.2,740.1 515,740.5 515.8,740.5 516.6,740.2 517.4,739.8 518.2,740.4 519,740.2 519.8,740.5 520.6,741.2 521.4,741.2 522.2,741 523,741.4 523.8,741.4 524.6,742 525.4,742 526.2,742.8 527,743.2 527.8,743.1 528.6,742.3 529.4,741.8 530.2,742.7 531,743.1 531.8,743.1 532.6,742.7 533.4,742.4 534.2,742.9 535,743 535.8,743.2 536.6,743.4 537.4,743.7 538.2,743 539,742.8 539.8,743.8" fill="none" stroke="#111" stroke-width="3" stroke-linejoin="round" stroke-linecap="round"/>
<polyline points="542.9,752.2 543.7,752.5 544.5,751.4 545.3,750.8 546.1,750.8 546.9,751.1 547.7,751.5 548.5,750.9 549.3,751.3 550.1,750.8 550.9,750.5 551.7,739.3 552.5,725.9 553.3,714.3 554.1,703.2 554.9,693.2 555.7,683.5 556.5,674.8 557.3,667.3 558.1,660.3 558.9,652.5 559.7,645.8 560.5,640.9 561.3,636 562.1,631.8 562.9,627.3 563.7,624 564.5,621.1 565.3,619.8 566.1,618.3 566.9,617.9 567.7,620.3 568.5,623.2 569.3,626.6 570.1,630.2 570.9,633.9 571.7,636.6 572.5,639.3 573.3,641.6 574.1,645.4 574.9,647.4 575.7,649.8 576.5,652.9 577.3,655.6 578.1,658.5 578.9,660.6 579.7,663.4 580.5,665 581.3,667 582.1,669.7 582.9,671.2 583.7,673.3 584.5,675.9 585.3,678.1 586.1,679.6 586.9,680.9 587.7,682.8 588.5,685.1 589.3,686.5 590.1,687.6 590.9,689.8 591.7,691.5 592.5,693.6 593.3,695.4 594.1,696.9 594.9,697.7 595.7,699.2 596.5,699.9 597.3,700.8 598.1,702 598.9,703.9 599.7,705.4 600.5,705.8 601.3,706.6 602.1,707.6 602.9,708.5 603.7,709.5 604.5,710.5 605.3,711.2 606.1,712.5 606.9,714 607.7,714.8 608.5,716 609.3,716.7 610.1,716.8 610.9,718.1 611.7,719.3 612.5,719.4 613.3,719.4 614.1,720.4 614.9,721.3 615.7,722.2 616.5,723.5 617.3,724.1 618.1,724.9 618.9,724.5 619.7,725.2 620.5,726.2 621.3,726 622.1,726.1 622.9,727.4 623.7,728.5 624.5,728.2 625.3,729 626.1,728.9 626.9,730 627.7,730.7 628.5,730.6 629.3,730.7 630.1,731.8 630.9,732.2 631.7,732.9 632.5,733 633.3,733.1 634.1,734.2 634.9,734.6 635.7,734.7 636.5,734.9 637.3,735.5 638.1,736 638.9,736.6 639.7,736.4 640.5,737 641.3,737.3 642.1,737.8 642.9,738.2 643.7,738.5 644.5,738.9 645.3,739.3 646.1,739.2 646.9,739.1 647.7,739.4 648.5,739.8 649.3,739.6 650.1,739.6 650.9,739.2 651.7,740 652.5,741 653.3,740.6 654.1,740.2 654.9,740.2 655.7,740.5 656.5,740.6 657.3,741.8 658.1,741.1 658.9,741.2 659.7,741.1 660.5,741.8 661.3,742.5 662.1,742.1 662.9,741.8 663.7,742.2" fill="none" stroke="#111" stroke-width="3" stroke-linejoin="round" stroke-linecap="round"/>
<line x1="44.7" y1="752.9" x2="661.5" y2="752.9" stroke="#111" stroke-width="1.2" stroke-dasharray="2.4 1.5"/>
<polyline points="50.2,788.1 51,788.7 51.8,787.7 52.6,787.2 53.4,787 54.2,787 55,787 55.8,787.8 56.6,788.1 57.4,787.6 58.2,787.3 59,783.7 59.8,778.7 60.6,775.6 61.4,776.8 62.2,778.3 63,779.8 63.8,780.4 64.6,780.5 65.4,781.8 66.2,782.7 67,782.4 67.8,782.7 68.6,783.6 69.4,783.4 70.2,783 71,782.5 71.8,783.7 72.6,784.3 73.4,783.9 74.2,784 75,784.1 75.8,783.8 76.6,784.8 77.4,784.8 78.2,784.2 79,783.6 79.8,784 80.6,784.1 81.4,784.9 82.2,785.2 83,785.2 83.8,784.5 84.6,784.2 85.4,784.3 86.2,784.3 87,785.3 87.8,785.3 88.6,785.5 89.4,786.2 90.2,785.5 91,785.5 91.8,784.9 92.6,785.6 93.4,784.8 94.2,785.7 95,786.2 95.8,786.5 96.6,785.5 97.4,785.3 98.2,785.9 99,785.3 99.8,785.5 100.6,785.7 101.4,786.6 102.2,786.5 103,786.9 103.8,786.2 104.6,786.7 105.4,786.3 106.2,787 107,786 107.8,786.7 108.6,786.1 109.4,786.3 110.2,786.4 111,785.9 111.8,786.7 112.6,786.3 113.4,786.1 114.2,785.6 115,785.8 115.8,786.1 116.6,786.7 117.4,786.5 118.2,786.9 119,786.2 119.8,786.3 120.6,786.4 121.4,787.3 122.2,787.6 123,787.5 123.8,786.5 124.6,786.5 125.4,787 126.2,786.6 127,786.8 127.8,786.8 128.6,786.1 129.4,787.3 130.2,787.7 131,786.9 131.8,787.2 132.6,786.8 133.4,786.7 134.2,787 135,786.7 135.8,786.7 136.6,786.7 137.4,787.2 138.2,786.8 139,786.5 139.8,787.2 140.6,787 141.4,787.8 142.2,787.7 143,787.9 143.8,787.4 144.6,787.9 145.4,787 146.2,786.6 147,786.3 147.8,787.1 148.6,787.5 149.4,787 150.2,787 151,787.7 151.8,787.8 152.6,787 153.4,786.7 154.2,786.5 155,786.4 155.8,786.7 156.6,786.4 157.4,787.6 158.2,787.4 159,787.5 159.8,787.8 160.6,788.1 161.4,788.4 162.2,787.8 163,787.4 163.8,787.4 164.6,786.7 165.4,786.9 166.2,787.6 167,788.4 167.8,788.5 168.6,788.4 169.4,788.2 170.2,787.2" fill="none" stroke="#7b3799" stroke-width="2.9" stroke-linejoin="round" stroke-linecap="round"/>
<polyline points="173.8,787.7 174.6,787.6 175.4,788 176.2,787.4 177,787.5 177.8,787.7 178.6,788.3 179.4,788.7 180.2,788.6 181,787.8 181.8,788.3 182.6,788.8 183.4,785.1 184.2,777.7 185,770.8 185.8,766.8 186.6,769.6 187.4,772.2 188.2,773.4 189,774.9 189.8,776.3 190.6,776.4 191.4,778 192.2,778.6 193,778.5 193.8,778.4 194.6,778.8 195.4,779.8 196.2,780.6 197,780.6 197.8,781.7 198.6,781.5 199.4,781.6 200.2,781.3 201,782.5 201.8,781.9 202.6,782.9 203.4,782.9 204.2,783 205,783.2 205.8,782.8 206.6,783.7 207.4,784.4 208.2,784.5 209,784.3 209.8,783.5 210.6,784.2 211.4,783.7 212.2,784.5 213,784 213.8,784.2 214.6,784.8 215.4,784.1 216.2,784.4 217,783.8 217.8,783.4 218.6,783.5 219.4,784.9 220.2,785.6 221,785.6 221.8,785 222.6,785.3 223.4,785.6 224.2,785.3 225,785.4 225.8,785.9 226.6,784.9 227.4,784.7 228.2,785 229,784.7 229.8,784.9 230.6,785.4 231.4,785 232.2,785.4 233,785.2 233.8,785.6 234.6,785.5 235.4,786 236.2,785.3 237,785.9 237.8,785.4 238.6,786.5 239.4,786.5 240.2,786.4 241,786.2 241.8,786.4 242.6,786.7 243.4,787 244.2,787.1 245,786.8 245.8,787.5 246.6,787.6 247.4,787.7 248.2,787.1 249,786.8 249.8,786.8 250.6,787.4 251.4,787.1 252.2,787 253,786.8 253.8,787.5 254.6,786.9 255.4,786.2 256.2,786.9 257,787.5 257.8,787.6 258.6,787.5 259.4,787.7 260.2,787.1 261,787.2 261.8,786.4 262.6,786.1 263.4,786.5 264.2,786.8 265,786.8 265.8,786.2 266.6,787 267.4,787.1 268.2,786.7 269,786.7 269.8,786.8 270.6,786.6 271.4,786.2 272.2,787.3 273,788.1 273.8,788 274.6,788.3 275.4,787.7 276.2,788.1 277,787.3 277.8,787.7 278.6,787.7 279.4,788.2 280.2,787.2 281,787.8 281.8,787 282.6,787.3 283.4,788.1 284.2,787 285,786.8 285.8,786.8 286.6,786.9 287.4,786.5 288.2,787.6 289,788.1 289.8,787.7 290.6,787.4 291.4,787.6 292.2,786.9 293,786.5 293.8,787.6 294.6,787.3 295.4,787.5" fill="none" stroke="#7b3799" stroke-width="2.9" stroke-linejoin="round" stroke-linecap="round"/>
<polyline points="299,788.7 299.8,789.1 300.6,788.6 301.4,787.9 302.2,787.6 303,788.5 303.8,788.9 304.6,788 305.4,788.5 306.2,788.1 307,788 307.8,780.3 308.6,773.9 309.4,767.3 310.2,759.2 311,752.1 311.8,753.7 312.6,757.4 313.4,759 314.2,760.7 315,763.2 315.8,764.5 316.6,766.6 317.4,768.1 318.2,769.1 319,769 319.8,770.2 320.6,771.4 321.4,771.6 322.2,771.3 323,771.6 323.8,772 324.6,773.1 325.4,773.1 326.2,773.1 327,773.4 327.8,774.4 328.6,775.3 329.4,775.2 330.2,775.8 331,776.6 331.8,776.7 332.6,776.2 333.4,776.2 334.2,777.3 335,777.6 335.8,777.3 336.6,777.8 337.4,777.2 338.2,778.5 339,778.4 339.8,778.6 340.6,778.7 341.4,778.2 342.2,778.8 343,778.7 343.8,778.7 344.6,779.7 345.4,779.2 346.2,779.2 347,780.1 347.8,779.9 348.6,779.8 349.4,780.3 350.2,780.1 351,781.2 351.8,782 352.6,780.9 353.4,781.1 354.2,781.8 355,781.6 355.8,782.4 356.6,782.2 357.4,781.7 358.2,782 359,782.4 359.8,782.2 360.6,782.7 361.4,783.1 362.2,783 363,783 363.8,783.6 364.6,783.7 365.4,783.5 366.2,784.2 367,783.3 367.8,783.9 368.6,783.2 369.4,783.6 370.2,783.3 371,783.5 371.8,784.1 372.6,784.6 373.4,784.8 374.2,784.1 375,784.2 375.8,783.8 376.6,784.2 377.4,784.4 378.2,783.7 379,784.3 379.8,784.9 380.6,785 381.4,785.5 382.2,784.8 383,784.3 383.8,783.9 384.6,784.4 385.4,784.7 386.2,784.8 387,784.7 387.8,785.5 388.6,784.8 389.4,785.7 390.2,785.8 391,785.7 391.8,786.2 392.6,785.5 393.4,785 394.2,785.1 395,784.7 395.8,784.9 396.6,785.6 397.4,785.8 398.2,785.5 399,785.9 399.8,785.3 400.6,786.2 401.4,785.7 402.2,785.5 403,785.3 403.8,786 404.6,786.7 405.4,787 406.2,786 407,786 407.8,786 408.6,785.8 409.4,786.9 410.2,786 411,786.2 411.8,786.8 412.6,787.5 413.4,786.6 414.2,786.5 415,787 415.8,786.2 416.6,786 417.4,787 418.2,786.3 419,786.4" fill="none" stroke="#7b3799" stroke-width="2.9" stroke-linejoin="round" stroke-linecap="round"/>
<polyline points="423.4,787.7 424.2,787.7 425,787.2 425.8,786.8 426.6,788.1 427.4,788.5 428.2,788.6 429,787.9 429.8,787.6 430.6,787.8 431.4,787.5 432.2,783.7 433,780.5 433.8,776.1 434.6,771.8 435.4,768.7 436.2,764.6 437,759.6 437.8,755.7 438.6,752.1 439.4,747.4 440.2,743.5 441,743.6 441.8,745.9 442.6,747.3 443.4,749.1 444.2,750 445,751 445.8,752.7 446.6,753.4 447.4,754.8 448.2,755.2 449,756 449.8,756.5 450.6,757.8 451.4,758.2 452.2,758.9 453,759.5 453.8,760.6 454.6,761.2 455.4,762.1 456.2,763.7 457,764.3 457.8,765.2 458.6,764.9 459.4,765.2 460.2,765.1 461,766.2 461.8,766.6 462.6,766.8 463.4,766.7 464.2,767.1 465,767.6 465.8,768.2 466.6,769.6 467.4,770.2 468.2,770 469,770.1 469.8,770 470.6,771.4 471.4,771.3 472.2,772.1 473,772.6 473.8,773.2 474.6,772.3 475.4,772.4 476.2,772.7 477,772.5 477.8,773.7 478.6,773.7 479.4,774.4 480.2,774.6 481,774 481.8,774.3 482.6,774.4 483.4,774.2 484.2,774.3 485,775.2 485.8,774.9 486.6,775.2 487.4,775.7 488.2,776.2 489,776 489.8,776.8 490.6,776.6 491.4,777.4 492.2,777.8 493,777.2 493.8,777.1 494.6,777.2 495.4,778 496.2,778.1 497,778.1 497.8,779 498.6,778.5 499.4,778.4 500.2,778.5 501,778.4 501.8,778.2 502.6,778.1 503.4,779 504.2,779.5 505,780.2 505.8,781 506.6,780.3 507.4,780.6 508.2,781.2 509,780.5 509.8,780.9 510.6,781.2 511.4,781.8 512.2,782.1 513,781.3 513.8,781.5 514.6,780.8 515.4,781 516.2,781.1 517,780.7 517.8,781 518.6,781.2 519.4,781.5 520.2,781.4 521,781.2 521.8,781.6 522.6,781.9 523.4,781.6 524.2,782.3 525,782.1 525.8,781.7 526.6,782 527.4,782.3 528.2,782 529,782.6 529.8,783.2 530.6,783.3 531.4,783.6 532.2,782.7 533,782.9 533.8,783 534.6,782.5 535.4,782.9 536.2,782.6 537,783.1 537.8,783.6 538.6,783.7 539.4,783.6 540.2,783.4 541,783 541.8,783.3 542.6,784.3 543.4,784.4" fill="none" stroke="#7b3799" stroke-width="2.9" stroke-linejoin="round" stroke-linecap="round"/>
<polyline points="547.7,787.6 548.5,788.1 549.3,787.5 550.1,787.7 550.9,788 551.7,788.7 552.5,788.2 553.3,788.2 554.1,788.8 554.9,788.9 555.7,784.8 556.5,777.7 557.3,771.4 558.1,765.8 558.9,760.6 559.7,756.7 560.5,752.9 561.3,748.4 562.1,745.2 562.9,740.7 563.7,737.2 564.5,734.7 565.3,732.1 566.1,729.9 566.9,729 567.7,726.6 568.5,725 569.3,723.9 570.1,723.9 570.9,723.2 571.7,723.1 572.5,724.6 573.3,725.6 574.1,726.3 574.9,727.5 575.7,728.9 576.5,729.8 577.3,730.8 578.1,731.7 578.9,732.9 579.7,734.2 580.5,734.3 581.3,734.7 582.1,736.1 582.9,736.4 583.7,737.5 584.5,738.4 585.3,739.2 586.1,740.4 586.9,741.2 587.7,740.9 588.5,741.7 589.3,742.3 590.1,743.1 590.9,743.5 591.7,743.8 592.5,745.1 593.3,745.7 594.1,745.8 594.9,746.2 595.7,746.8 596.5,747.2 597.3,748.2 598.1,748.4 598.9,748.6 599.7,749 600.5,749.6 601.3,751.1 602.1,751.2 602.9,752 603.7,753.2 604.5,753.7 605.3,753.6 606.1,755 606.9,755.9 607.7,755.3 608.5,755.6 609.3,756.3 610.1,757.4 610.9,757.5 611.7,758.3 612.5,758.2 613.3,759.1 614.1,759.2 614.9,759.4 615.7,760.4 616.5,761.3 617.3,761.9 618.1,762 618.9,762 619.7,762.6 620.5,763 621.3,763.7 622.1,764.2 622.9,763.6 623.7,763.8 624.5,764.6 625.3,764.4 626.1,764.4 626.9,764.3 627.7,765.3 628.5,766.6 629.3,767.5 630.1,766.8 630.9,767.4 631.7,767.5 632.5,768 633.3,768 634.1,769 634.9,769.8 635.7,768.8 636.5,769.5 637.3,769 638.1,768.8 638.9,769.2 639.7,770.2 640.5,771.3 641.3,770.6 642.1,770.7 642.9,770.4 643.7,771.1 644.5,771.6 645.3,771.7 646.1,771.8 646.9,772.8 647.7,773.4 648.5,773 649.3,773.1 650.1,773.6 650.9,774.2 651.7,774.9 652.5,774.5 653.3,774.8 654.1,774.9 654.9,775.4 655.7,774.7 656.5,774.5 657.3,774.3 658.1,775.7 658.9,775.4 659.7,775.7 660.5,775.3 661.3,775.6 662.1,775.3 662.9,776.1 663.7,775.9 664.5,776.6 665.3,776.6 666.1,776.5 666.9,777 667.7,777.1" fill="none" stroke="#7b3799" stroke-width="2.9" stroke-linejoin="round" stroke-linecap="round"/>
<line x1="50.2" y1="788.3" x2="666.8" y2="788.3" stroke="#7b3799" stroke-width="1.2" stroke-dasharray="2.4 1.5"/>
<text x="85.2" y="727" font-size="16.2" text-anchor="middle" font-weight="normal" fill="#111">1 AP</text>
<text x="215.4" y="714" font-size="16.2" text-anchor="middle" font-weight="normal" fill="#111">2 AP</text>
<text x="343.1" y="685" font-size="16.3" text-anchor="middle" font-weight="normal" fill="#111">5 AP</text>
<text x="474.7" y="655" font-size="15.7" text-anchor="middle" font-weight="normal" fill="#111">10 AP</text>
<text x="605.5" y="631" font-size="15.9" text-anchor="middle" font-weight="normal" fill="#111">20 AP</text>
<polyline points="641.3,799.8 680.9,799.8 680.9,767.5" fill="none" stroke="#111" stroke-width="1.3"/>
<text x="660.3" y="812.6" font-size="12.2" text-anchor="middle" font-weight="normal" fill="#111">1 s</text>
<text x="695.8" y="784.2" font-size="12.2" text-anchor="middle" font-weight="normal" fill="#111" transform="rotate(-90 695.8 784.2)">0.2</text>
<text x="713.6" y="783.6" font-size="12.2" text-anchor="middle" font-weight="normal" fill="#111" transform="rotate(-90 713.6 783.6)">ΔG / Gmax</text>
<text x="27" y="842" font-size="19.5" text-anchor="start" font-weight="bold" fill="#000">E</text>
<line x1="83.5" y1="838.5" x2="83.5" y2="1024.1" stroke="#111" stroke-width="1.6"/>
<line x1="76.7" y1="860.1" x2="83.5" y2="860.1" stroke="#111" stroke-width="1.4"/>
<text x="72.6" y="865.6" font-size="15" text-anchor="end" font-weight="normal" fill="#111">0.8</text>
<line x1="76.7" y1="900.9" x2="83.5" y2="900.9" stroke="#111" stroke-width="1.4"/>
<text x="72.6" y="906.4" font-size="15" text-anchor="end" font-weight="normal" fill="#111">0.6</text>
<line x1="76.7" y1="941.7" x2="83.5" y2="941.7" stroke="#111" stroke-width="1.4"/>
<text x="72.6" y="947.2" font-size="15" text-anchor="end" font-weight="normal" fill="#111">0.4</text>
<line x1="76.7" y1="982.5" x2="83.5" y2="982.5" stroke="#111" stroke-width="1.4"/>
<text x="72.6" y="988" font-size="15" text-anchor="end" font-weight="normal" fill="#111">0.2</text>
<line x1="76.7" y1="1023.3" x2="83.5" y2="1023.3" stroke="#111" stroke-width="1.4"/>
<text x="72.6" y="1028.8" font-size="15" text-anchor="end" font-weight="normal" fill="#111">0</text>
<line x1="104.1" y1="1023.3" x2="354.4" y2="1023.3" stroke="#111" stroke-width="1.6"/>
<line x1="107.3" y1="1023.3" x2="107.3" y2="1030.3" stroke="#111" stroke-width="1.4"/>
<text x="106.7" y="1046.3" font-size="15" text-anchor="middle" font-weight="normal" fill="#111">1</text>
<line x1="120.3" y1="1023.3" x2="120.3" y2="1030.3" stroke="#111" stroke-width="1.4"/>
<text x="119.7" y="1046.3" font-size="15" text-anchor="middle" font-weight="normal" fill="#111">2</text>
<line x1="159.4" y1="1023.3" x2="159.4" y2="1030.3" stroke="#111" stroke-width="1.4"/>
<text x="158.8" y="1046.3" font-size="15" text-anchor="middle" font-weight="normal" fill="#111">5</text>
<line x1="222.9" y1="1023.3" x2="222.9" y2="1030.3" stroke="#111" stroke-width="1.4"/>
<text x="222.9" y="1046.3" font-size="15" text-anchor="middle" font-weight="normal" fill="#111">10</text>
<line x1="350.2" y1="1023.3" x2="350.2" y2="1030.3" stroke="#111" stroke-width="1.4"/>
<text x="350.2" y="1046.3" font-size="15" text-anchor="middle" font-weight="normal" fill="#111">20</text>
<line x1="286.5" y1="1023.3" x2="286.5" y2="1030.3" stroke="#111" stroke-width="1.4"/>
<text x="286.5" y="1046.3" font-size="15" text-anchor="middle" font-weight="normal" fill="#111">15</text>
<text x="232.7" y="1063.8" font-size="16.2" text-anchor="middle" font-weight="normal" fill="#111">Number of APs</text>
<text x="44.7" y="932.1" font-size="15.8" text-anchor="middle" font-weight="normal" fill="#111" transform="rotate(-90 44.7 932.1)">ΔG / Gmax</text>
<polyline points="109,1009.2 121.4,999.3 159.7,978.3 222.9,953.5 350.2,926.8" fill="none" stroke="#7b3799" stroke-width="1.6"/>
<line x1="109" y1="1007" x2="109" y2="1011.4" stroke="#7b3799" stroke-width="1.5"/>
<line x1="104.8" y1="1007" x2="113.2" y2="1007" stroke="#7b3799" stroke-width="1.5"/>
<line x1="104.8" y1="1011.4" x2="113.2" y2="1011.4" stroke="#7b3799" stroke-width="1.5"/>
<line x1="121.4" y1="996.3" x2="121.4" y2="1002.3" stroke="#7b3799" stroke-width="1.5"/>
<line x1="117.2" y1="996.3" x2="125.6" y2="996.3" stroke="#7b3799" stroke-width="1.5"/>
<line x1="117.2" y1="1002.3" x2="125.6" y2="1002.3" stroke="#7b3799" stroke-width="1.5"/>
<line x1="159.7" y1="973.3" x2="159.7" y2="983.3" stroke="#7b3799" stroke-width="1.5"/>
<line x1="155.5" y1="973.3" x2="163.9" y2="973.3" stroke="#7b3799" stroke-width="1.5"/>
<line x1="155.5" y1="983.3" x2="163.9" y2="983.3" stroke="#7b3799" stroke-width="1.5"/>
<line x1="222.9" y1="945.5" x2="222.9" y2="961.5" stroke="#7b3799" stroke-width="1.5"/>
<line x1="218.7" y1="945.5" x2="227.1" y2="945.5" stroke="#7b3799" stroke-width="1.5"/>
<line x1="218.7" y1="961.5" x2="227.1" y2="961.5" stroke="#7b3799" stroke-width="1.5"/>
<line x1="350.2" y1="917.8" x2="350.2" y2="935.8" stroke="#7b3799" stroke-width="1.5"/>
<line x1="346" y1="917.8" x2="354.4" y2="917.8" stroke="#7b3799" stroke-width="1.5"/>
<line x1="346" y1="935.8" x2="354.4" y2="935.8" stroke="#7b3799" stroke-width="1.5"/>
<g fill="#7b3799"><circle cx="109" cy="1009.2" r="5.1"/><circle cx="121.4" cy="999.3" r="5.1"/><circle cx="159.7" cy="978.3" r="5.1"/><circle cx="222.9" cy="953.5" r="5.1"/><circle cx="350.2" cy="926.8" r="5.1"/></g>
<polyline points="109,991.1 121.4,972.1 159.7,928.8 222.9,891.2 350.2,852.6" fill="none" stroke="#161616" stroke-width="1.6"/>
<line x1="159.7" y1="926.3" x2="159.7" y2="931.3" stroke="#161616" stroke-width="1.5"/>
<line x1="155.5" y1="926.3" x2="163.9" y2="926.3" stroke="#161616" stroke-width="1.5"/>
<line x1="155.5" y1="931.3" x2="163.9" y2="931.3" stroke="#161616" stroke-width="1.5"/>
<line x1="222.9" y1="886.2" x2="222.9" y2="896.2" stroke="#161616" stroke-width="1.5"/>
<line x1="218.7" y1="886.2" x2="227.1" y2="886.2" stroke="#161616" stroke-width="1.5"/>
<line x1="218.7" y1="896.2" x2="227.1" y2="896.2" stroke="#161616" stroke-width="1.5"/>
<line x1="350.2" y1="846.1" x2="350.2" y2="859.1" stroke="#161616" stroke-width="1.5"/>
<line x1="346" y1="846.1" x2="354.4" y2="846.1" stroke="#161616" stroke-width="1.5"/>
<line x1="346" y1="859.1" x2="354.4" y2="859.1" stroke="#161616" stroke-width="1.5"/>
<g fill="#161616"><circle cx="109" cy="991.1" r="5.1"/><circle cx="121.4" cy="972.1" r="5.1"/><circle cx="159.7" cy="928.8" r="5.1"/><circle cx="222.9" cy="891.2" r="5.1"/><circle cx="350.2" cy="852.6" r="5.1"/></g>
<text x="349.2" y="849.1" font-size="26.5" text-anchor="middle" font-weight="normal" fill="#111" stroke="#111" stroke-width="0.35">***</text>
<text x="222.1" y="890.4" font-size="26.5" text-anchor="middle" font-weight="normal" fill="#111" stroke="#111" stroke-width="0.35">***</text>
<text x="160" y="926.5" font-size="26.5" text-anchor="middle" font-weight="normal" fill="#111" stroke="#111" stroke-width="0.35">***</text>
<text x="118.2" y="959.1" font-size="26.5" text-anchor="middle" font-weight="normal" fill="#111" stroke="#111" stroke-width="0.35">**</text>
<text x="118.2" y="968.5" font-size="26.5" text-anchor="middle" font-weight="normal" fill="#111" stroke="#111" stroke-width="0.35">*</text>
<text x="100.1" y="985.8" font-size="26.5" text-anchor="middle" font-weight="normal" fill="#111" stroke="#111" stroke-width="0.35">**</text>
<text x="99.9" y="995.5" font-size="26.5" text-anchor="middle" font-weight="normal" fill="#111" stroke="#111" stroke-width="0.35">*</text>
<line x1="426.4" y1="838.5" x2="426.4" y2="1024.3" stroke="#111" stroke-width="1.6"/>
<line x1="419.4" y1="853.9" x2="426.4" y2="853.9" stroke="#111" stroke-width="1.4"/>
<text x="417" y="859.3" font-size="15" text-anchor="end" font-weight="normal" fill="#111">1.0</text>
<line x1="419.4" y1="938.7" x2="426.4" y2="938.7" stroke="#111" stroke-width="1.4"/>
<text x="417" y="944.1" font-size="15" text-anchor="end" font-weight="normal" fill="#111">0.5</text>
<line x1="419.4" y1="1023.5" x2="426.4" y2="1023.5" stroke="#111" stroke-width="1.4"/>
<text x="417" y="1028.9" font-size="15" text-anchor="end" font-weight="normal" fill="#111">0</text>
<line x1="423" y1="896.3" x2="426.4" y2="896.3" stroke="#111" stroke-width="1.4"/>
<line x1="423" y1="981.1" x2="426.4" y2="981.1" stroke="#111" stroke-width="1.4"/>
<line x1="451.1" y1="1023.5" x2="693.4" y2="1023.5" stroke="#111" stroke-width="1.6"/>
<line x1="452.8" y1="1023.5" x2="452.8" y2="1030.4" stroke="#111" stroke-width="1.4"/>
<text x="452.2" y="1047" font-size="15" text-anchor="middle" font-weight="normal" fill="#111">1</text>
<line x1="464.7" y1="1023.5" x2="464.7" y2="1030.4" stroke="#111" stroke-width="1.4"/>
<text x="464.1" y="1047" font-size="15" text-anchor="middle" font-weight="normal" fill="#111">2</text>
<line x1="502.3" y1="1023.5" x2="502.3" y2="1030.4" stroke="#111" stroke-width="1.4"/>
<text x="501.7" y="1047" font-size="15" text-anchor="middle" font-weight="normal" fill="#111">5</text>
<line x1="565.8" y1="1023.5" x2="565.8" y2="1030.4" stroke="#111" stroke-width="1.4"/>
<text x="565.8" y="1047" font-size="15" text-anchor="middle" font-weight="normal" fill="#111">10</text>
<line x1="629.1" y1="1023.5" x2="629.1" y2="1030.4" stroke="#111" stroke-width="1.4"/>
<text x="629.1" y="1047" font-size="15" text-anchor="middle" font-weight="normal" fill="#111">15</text>
<line x1="692.7" y1="1023.5" x2="692.7" y2="1030.4" stroke="#111" stroke-width="1.4"/>
<text x="692.7" y="1047" font-size="15" text-anchor="middle" font-weight="normal" fill="#111">20</text>
<text x="571.5" y="1064" font-size="16.2" text-anchor="middle" font-weight="normal" fill="#111">Number of APs</text>
<text x="387.3" y="933.1" font-size="16" text-anchor="middle" font-weight="normal" fill="#111" transform="rotate(-90 387.3 933.1)">Decay time constant (s)</text>
<polyline points="451.6,954.8 464.7,926.8 502.3,909.5 565.8,892.2 692.7,851.7" fill="none" stroke="#7b3799" stroke-width="1.6"/>
<line x1="451.6" y1="947.4" x2="451.6" y2="962.2" stroke="#7b3799" stroke-width="1.5"/>
<line x1="447.4" y1="947.4" x2="455.8" y2="947.4" stroke="#7b3799" stroke-width="1.5"/>
<line x1="447.4" y1="962.2" x2="455.8" y2="962.2" stroke="#7b3799" stroke-width="1.5"/>
<line x1="464.7" y1="919.1" x2="464.7" y2="934.5" stroke="#7b3799" stroke-width="1.5"/>
<line x1="460.5" y1="919.1" x2="468.9" y2="919.1" stroke="#7b3799" stroke-width="1.5"/>
<line x1="460.5" y1="934.5" x2="468.9" y2="934.5" stroke="#7b3799" stroke-width="1.5"/>
<line x1="502.3" y1="901.8" x2="502.3" y2="917.2" stroke="#7b3799" stroke-width="1.5"/>
<line x1="498.1" y1="901.8" x2="506.5" y2="901.8" stroke="#7b3799" stroke-width="1.5"/>
<line x1="498.1" y1="917.2" x2="506.5" y2="917.2" stroke="#7b3799" stroke-width="1.5"/>
<line x1="565.8" y1="885.2" x2="565.8" y2="899.2" stroke="#7b3799" stroke-width="1.5"/>
<line x1="561.6" y1="885.2" x2="570" y2="885.2" stroke="#7b3799" stroke-width="1.5"/>
<line x1="561.6" y1="899.2" x2="570" y2="899.2" stroke="#7b3799" stroke-width="1.5"/>
<line x1="692.7" y1="844.2" x2="692.7" y2="859.2" stroke="#7b3799" stroke-width="1.5"/>
<line x1="688.5" y1="844.2" x2="696.9" y2="844.2" stroke="#7b3799" stroke-width="1.5"/>
<line x1="688.5" y1="859.2" x2="696.9" y2="859.2" stroke="#7b3799" stroke-width="1.5"/>
<g fill="#7b3799"><circle cx="451.6" cy="954.8" r="5.1"/><circle cx="464.7" cy="926.8" r="5.1"/><circle cx="502.3" cy="909.5" r="5.1"/><circle cx="565.8" cy="892.2" r="5.1"/><circle cx="692.7" cy="851.7" r="5.1"/></g>
<polyline points="451.6,967.4 464.7,948.6 502.3,947.8 565.8,925.1 692.7,880.1" fill="none" stroke="#161616" stroke-width="1.6"/>
<line x1="451.6" y1="962.4" x2="451.6" y2="972.4" stroke="#161616" stroke-width="1.5"/>
<line x1="447.4" y1="962.4" x2="455.8" y2="962.4" stroke="#161616" stroke-width="1.5"/>
<line x1="447.4" y1="972.4" x2="455.8" y2="972.4" stroke="#161616" stroke-width="1.5"/>
<line x1="464.7" y1="943.1" x2="464.7" y2="954.1" stroke="#161616" stroke-width="1.5"/>
<line x1="460.5" y1="943.1" x2="468.9" y2="943.1" stroke="#161616" stroke-width="1.5"/>
<line x1="460.5" y1="954.1" x2="468.9" y2="954.1" stroke="#161616" stroke-width="1.5"/>
<line x1="502.3" y1="943.8" x2="502.3" y2="951.8" stroke="#161616" stroke-width="1.5"/>
<line x1="498.1" y1="943.8" x2="506.5" y2="943.8" stroke="#161616" stroke-width="1.5"/>
<line x1="498.1" y1="951.8" x2="506.5" y2="951.8" stroke="#161616" stroke-width="1.5"/>
<line x1="565.8" y1="920.1" x2="565.8" y2="930.1" stroke="#161616" stroke-width="1.5"/>
<line x1="561.6" y1="920.1" x2="570" y2="920.1" stroke="#161616" stroke-width="1.5"/>
<line x1="561.6" y1="930.1" x2="570" y2="930.1" stroke="#161616" stroke-width="1.5"/>
<line x1="692.7" y1="872.1" x2="692.7" y2="888.1" stroke="#161616" stroke-width="1.5"/>
<line x1="688.5" y1="872.1" x2="696.9" y2="872.1" stroke="#161616" stroke-width="1.5"/>
<line x1="688.5" y1="888.1" x2="696.9" y2="888.1" stroke="#161616" stroke-width="1.5"/>
<g fill="#161616"><circle cx="451.6" cy="967.4" r="5.1"/><circle cx="464.7" cy="948.6" r="5.1"/><circle cx="502.3" cy="947.8" r="5.1"/><circle cx="565.8" cy="925.1" r="5.1"/><circle cx="692.7" cy="880.1" r="5.1"/></g>
<text x="462.2" y="925" font-size="26.5" text-anchor="middle" font-weight="normal" fill="#111" stroke="#111" stroke-width="0.35">*</text>
<text x="503.9" y="906.7" font-size="26.5" text-anchor="middle" font-weight="normal" fill="#111" stroke="#111" stroke-width="0.35">***</text>
<text x="565.8" y="889.4" font-size="26.5" text-anchor="middle" font-weight="normal" fill="#111" stroke="#111" stroke-width="0.35">***</text>
<text x="691.4" y="849.8" font-size="26.5" text-anchor="middle" font-weight="normal" fill="#111" stroke="#111" stroke-width="0.35">*</text>
<circle cx="459.5" cy="991.1" r="4.9" fill="#7b3799"/>
<text x="469.7" y="997.5" font-size="16.2" text-anchor="start" font-weight="normal" fill="#111">SST-Cre Ctrl. (n = 64/8)</text>
<circle cx="459.5" cy="1009.2" r="4.9" fill="#161616"/>
<text x="469.7" y="1014.6" font-size="16.2" text-anchor="start" font-weight="normal" fill="#111">SST-Cre Nrxn123 cKO (n = 50/7)</text>
<g fill="#fff" stroke="#b4b4b4" stroke-width="0.9"><ellipse cx="514" cy="1052.3" rx="6.2" ry="5.6"/><path d="M510.5,1056.6 l-1.4,3 3.6,-1.7z"/><ellipse cx="524.5" cy="1056.6" rx="5.3" ry="4.8"/><path d="M527.8,1060.2 l1.5,2.5 -3.5,-1.3z"/></g>
<text x="545.6" y="1062.2" font-size="18" fill="#3c3c3c" fill-opacity="0.85" textLength="160" lengthAdjust="spacingAndGlyphs">神经科学临床和基础</text>
<text x="544.8" y="1061.4" font-size="18" fill="#fff" stroke="#9a9a9a" stroke-width="0.7" paint-order="stroke" textLength="160" lengthAdjust="spacingAndGlyphs">神经科学临床和基础</text>
</svg></body></html>
